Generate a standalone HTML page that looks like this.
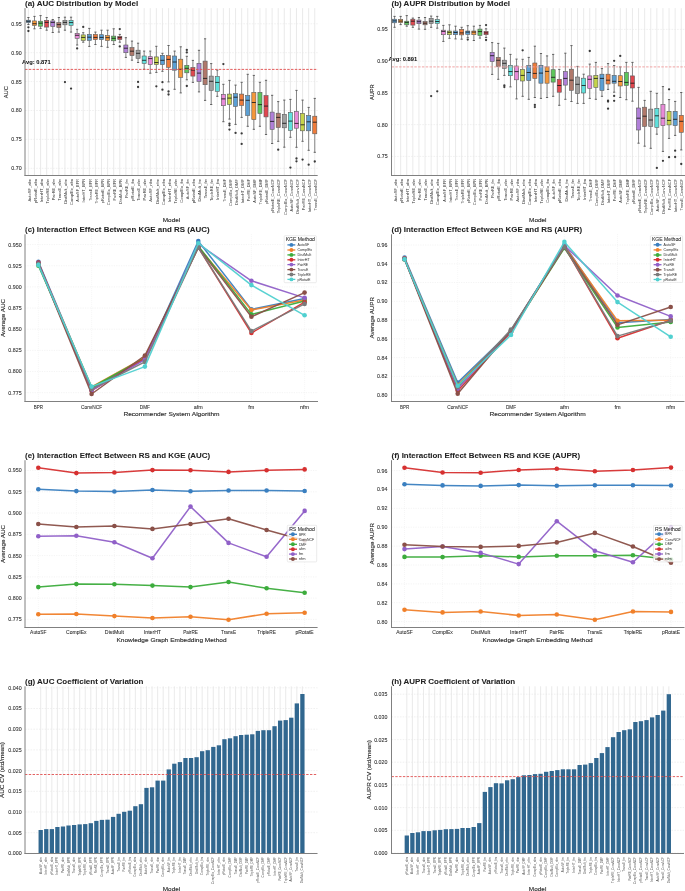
<!DOCTYPE html>
<html><head><meta charset="utf-8"><title>KGE RS analysis</title><style>html,body{margin:0;padding:0;background:#fff;width:685px;height:891px;overflow:hidden}svg{display:block;will-change:transform}</style></head><body>
<svg width="685" height="891" viewBox="0 0 685 891" font-family="'Liberation Sans', sans-serif" fill="#2e2e2e"><line x1="28.4" y1="8.1" x2="28.4" y2="175.5" stroke="#e4e4e4" stroke-width="0.8"/>
<line x1="34.49" y1="8.1" x2="34.49" y2="175.5" stroke="#e4e4e4" stroke-width="0.8"/>
<line x1="40.58" y1="8.1" x2="40.58" y2="175.5" stroke="#e4e4e4" stroke-width="0.8"/>
<line x1="46.68" y1="8.1" x2="46.68" y2="175.5" stroke="#e4e4e4" stroke-width="0.8"/>
<line x1="52.77" y1="8.1" x2="52.77" y2="175.5" stroke="#e4e4e4" stroke-width="0.8"/>
<line x1="58.86" y1="8.1" x2="58.86" y2="175.5" stroke="#e4e4e4" stroke-width="0.8"/>
<line x1="64.95" y1="8.1" x2="64.95" y2="175.5" stroke="#e4e4e4" stroke-width="0.8"/>
<line x1="71.05" y1="8.1" x2="71.05" y2="175.5" stroke="#e4e4e4" stroke-width="0.8"/>
<line x1="77.14" y1="8.1" x2="77.14" y2="175.5" stroke="#e4e4e4" stroke-width="0.8"/>
<line x1="83.23" y1="8.1" x2="83.23" y2="175.5" stroke="#e4e4e4" stroke-width="0.8"/>
<line x1="89.33" y1="8.1" x2="89.33" y2="175.5" stroke="#e4e4e4" stroke-width="0.8"/>
<line x1="95.42" y1="8.1" x2="95.42" y2="175.5" stroke="#e4e4e4" stroke-width="0.8"/>
<line x1="101.51" y1="8.1" x2="101.51" y2="175.5" stroke="#e4e4e4" stroke-width="0.8"/>
<line x1="107.61" y1="8.1" x2="107.61" y2="175.5" stroke="#e4e4e4" stroke-width="0.8"/>
<line x1="113.7" y1="8.1" x2="113.7" y2="175.5" stroke="#e4e4e4" stroke-width="0.8"/>
<line x1="119.79" y1="8.1" x2="119.79" y2="175.5" stroke="#e4e4e4" stroke-width="0.8"/>
<line x1="125.88" y1="8.1" x2="125.88" y2="175.5" stroke="#e4e4e4" stroke-width="0.8"/>
<line x1="131.98" y1="8.1" x2="131.98" y2="175.5" stroke="#e4e4e4" stroke-width="0.8"/>
<line x1="138.07" y1="8.1" x2="138.07" y2="175.5" stroke="#e4e4e4" stroke-width="0.8"/>
<line x1="144.16" y1="8.1" x2="144.16" y2="175.5" stroke="#e4e4e4" stroke-width="0.8"/>
<line x1="150.26" y1="8.1" x2="150.26" y2="175.5" stroke="#e4e4e4" stroke-width="0.8"/>
<line x1="156.35" y1="8.1" x2="156.35" y2="175.5" stroke="#e4e4e4" stroke-width="0.8"/>
<line x1="162.44" y1="8.1" x2="162.44" y2="175.5" stroke="#e4e4e4" stroke-width="0.8"/>
<line x1="168.54" y1="8.1" x2="168.54" y2="175.5" stroke="#e4e4e4" stroke-width="0.8"/>
<line x1="174.63" y1="8.1" x2="174.63" y2="175.5" stroke="#e4e4e4" stroke-width="0.8"/>
<line x1="180.72" y1="8.1" x2="180.72" y2="175.5" stroke="#e4e4e4" stroke-width="0.8"/>
<line x1="186.81" y1="8.1" x2="186.81" y2="175.5" stroke="#e4e4e4" stroke-width="0.8"/>
<line x1="192.91" y1="8.1" x2="192.91" y2="175.5" stroke="#e4e4e4" stroke-width="0.8"/>
<line x1="199" y1="8.1" x2="199" y2="175.5" stroke="#e4e4e4" stroke-width="0.8"/>
<line x1="205.09" y1="8.1" x2="205.09" y2="175.5" stroke="#e4e4e4" stroke-width="0.8"/>
<line x1="211.19" y1="8.1" x2="211.19" y2="175.5" stroke="#e4e4e4" stroke-width="0.8"/>
<line x1="217.28" y1="8.1" x2="217.28" y2="175.5" stroke="#e4e4e4" stroke-width="0.8"/>
<line x1="223.37" y1="8.1" x2="223.37" y2="175.5" stroke="#e4e4e4" stroke-width="0.8"/>
<line x1="229.47" y1="8.1" x2="229.47" y2="175.5" stroke="#e4e4e4" stroke-width="0.8"/>
<line x1="235.56" y1="8.1" x2="235.56" y2="175.5" stroke="#e4e4e4" stroke-width="0.8"/>
<line x1="241.65" y1="8.1" x2="241.65" y2="175.5" stroke="#e4e4e4" stroke-width="0.8"/>
<line x1="247.74" y1="8.1" x2="247.74" y2="175.5" stroke="#e4e4e4" stroke-width="0.8"/>
<line x1="253.84" y1="8.1" x2="253.84" y2="175.5" stroke="#e4e4e4" stroke-width="0.8"/>
<line x1="259.93" y1="8.1" x2="259.93" y2="175.5" stroke="#e4e4e4" stroke-width="0.8"/>
<line x1="266.02" y1="8.1" x2="266.02" y2="175.5" stroke="#e4e4e4" stroke-width="0.8"/>
<line x1="272.12" y1="8.1" x2="272.12" y2="175.5" stroke="#e4e4e4" stroke-width="0.8"/>
<line x1="278.21" y1="8.1" x2="278.21" y2="175.5" stroke="#e4e4e4" stroke-width="0.8"/>
<line x1="284.3" y1="8.1" x2="284.3" y2="175.5" stroke="#e4e4e4" stroke-width="0.8"/>
<line x1="290.4" y1="8.1" x2="290.4" y2="175.5" stroke="#e4e4e4" stroke-width="0.8"/>
<line x1="296.49" y1="8.1" x2="296.49" y2="175.5" stroke="#e4e4e4" stroke-width="0.8"/>
<line x1="302.58" y1="8.1" x2="302.58" y2="175.5" stroke="#e4e4e4" stroke-width="0.8"/>
<line x1="308.67" y1="8.1" x2="308.67" y2="175.5" stroke="#e4e4e4" stroke-width="0.8"/>
<line x1="314.77" y1="8.1" x2="314.77" y2="175.5" stroke="#e4e4e4" stroke-width="0.8"/>
<line x1="25" y1="168.3" x2="317.7" y2="168.3" stroke="#e6e6e6" stroke-width="0.6" stroke-dasharray="1.6 1.2"/>
<line x1="25" y1="139.4" x2="317.7" y2="139.4" stroke="#e6e6e6" stroke-width="0.6" stroke-dasharray="1.6 1.2"/>
<line x1="25" y1="110.5" x2="317.7" y2="110.5" stroke="#e6e6e6" stroke-width="0.6" stroke-dasharray="1.6 1.2"/>
<line x1="25" y1="81.6" x2="317.7" y2="81.6" stroke="#e6e6e6" stroke-width="0.6" stroke-dasharray="1.6 1.2"/>
<line x1="25" y1="52.7" x2="317.7" y2="52.7" stroke="#e6e6e6" stroke-width="0.6" stroke-dasharray="1.6 1.2"/>
<line x1="25" y1="23.8" x2="317.7" y2="23.8" stroke="#e6e6e6" stroke-width="0.6" stroke-dasharray="1.6 1.2"/>
<line x1="28.4" y1="17.5" x2="28.4" y2="20.2" stroke="#7c7c7c" stroke-width="0.9"/>
<line x1="28.4" y1="22.6" x2="28.4" y2="24.5" stroke="#7c7c7c" stroke-width="0.9"/>
<line x1="27.3" y1="17.5" x2="29.5" y2="17.5" stroke="#555" stroke-width="0.9"/>
<line x1="27.3" y1="24.5" x2="29.5" y2="24.5" stroke="#555" stroke-width="0.9"/>
<rect x="26.35" y="20.2" width="4.1" height="2.4" fill="#5a9fd4" stroke="#5a5a5a" stroke-width="0.6"/>
<line x1="26.35" y1="21.3" x2="30.45" y2="21.3" stroke="#1a1a1a" stroke-width="1" stroke-opacity="0.85"/>
<circle cx="28.4" cy="27.3" r="1.15" fill="#3a3a3a"/>
<circle cx="28.4" cy="31" r="1.15" fill="#3a3a3a"/>
<line x1="34.49" y1="16.4" x2="34.49" y2="20.9" stroke="#7c7c7c" stroke-width="0.9"/>
<line x1="34.49" y1="25.4" x2="34.49" y2="28.8" stroke="#7c7c7c" stroke-width="0.9"/>
<line x1="33.39" y1="16.4" x2="35.59" y2="16.4" stroke="#555" stroke-width="0.9"/>
<line x1="33.39" y1="28.8" x2="35.59" y2="28.8" stroke="#555" stroke-width="0.9"/>
<rect x="32.44" y="20.9" width="4.1" height="4.5" fill="#f5973a" stroke="#5a5a5a" stroke-width="0.6"/>
<line x1="32.44" y1="23.7" x2="36.54" y2="23.7" stroke="#1a1a1a" stroke-width="1" stroke-opacity="0.85"/>
<line x1="40.58" y1="15.6" x2="40.58" y2="21.2" stroke="#7c7c7c" stroke-width="0.9"/>
<line x1="40.58" y1="26.2" x2="40.58" y2="28.4" stroke="#7c7c7c" stroke-width="0.9"/>
<line x1="39.48" y1="15.6" x2="41.68" y2="15.6" stroke="#555" stroke-width="0.9"/>
<line x1="39.48" y1="28.4" x2="41.68" y2="28.4" stroke="#555" stroke-width="0.9"/>
<rect x="38.53" y="21.2" width="4.1" height="5" fill="#5bc65b" stroke="#5a5a5a" stroke-width="0.6"/>
<line x1="38.53" y1="23.2" x2="42.63" y2="23.2" stroke="#1a1a1a" stroke-width="1" stroke-opacity="0.85"/>
<line x1="46.68" y1="17.5" x2="46.68" y2="20.3" stroke="#7c7c7c" stroke-width="0.9"/>
<line x1="46.68" y1="27.1" x2="46.68" y2="30.2" stroke="#7c7c7c" stroke-width="0.9"/>
<line x1="45.58" y1="17.5" x2="47.78" y2="17.5" stroke="#555" stroke-width="0.9"/>
<line x1="45.58" y1="30.2" x2="47.78" y2="30.2" stroke="#555" stroke-width="0.9"/>
<rect x="44.63" y="20.3" width="4.1" height="6.8" fill="#e0474f" stroke="#5a5a5a" stroke-width="0.6"/>
<line x1="44.63" y1="22.4" x2="48.73" y2="22.4" stroke="#1a1a1a" stroke-width="1" stroke-opacity="0.85"/>
<line x1="52.77" y1="19.5" x2="52.77" y2="20.9" stroke="#7c7c7c" stroke-width="0.9"/>
<line x1="52.77" y1="26.5" x2="52.77" y2="32.5" stroke="#7c7c7c" stroke-width="0.9"/>
<line x1="51.67" y1="19.5" x2="53.87" y2="19.5" stroke="#555" stroke-width="0.9"/>
<line x1="51.67" y1="32.5" x2="53.87" y2="32.5" stroke="#555" stroke-width="0.9"/>
<rect x="50.72" y="20.9" width="4.1" height="5.6" fill="#b07fd8" stroke="#5a5a5a" stroke-width="0.6"/>
<line x1="50.72" y1="22.4" x2="54.82" y2="22.4" stroke="#1a1a1a" stroke-width="1" stroke-opacity="0.85"/>
<line x1="58.86" y1="17.5" x2="58.86" y2="22.6" stroke="#7c7c7c" stroke-width="0.9"/>
<line x1="58.86" y1="27.6" x2="58.86" y2="32.1" stroke="#7c7c7c" stroke-width="0.9"/>
<line x1="57.76" y1="17.5" x2="59.96" y2="17.5" stroke="#555" stroke-width="0.9"/>
<line x1="57.76" y1="32.1" x2="59.96" y2="32.1" stroke="#555" stroke-width="0.9"/>
<rect x="56.81" y="22.6" width="4.1" height="5" fill="#b0786a" stroke="#5a5a5a" stroke-width="0.6"/>
<line x1="56.81" y1="24.6" x2="60.91" y2="24.6" stroke="#1a1a1a" stroke-width="1" stroke-opacity="0.85"/>
<line x1="64.95" y1="17.2" x2="64.95" y2="20.3" stroke="#7c7c7c" stroke-width="0.9"/>
<line x1="64.95" y1="24.8" x2="64.95" y2="30.2" stroke="#7c7c7c" stroke-width="0.9"/>
<line x1="63.85" y1="17.2" x2="66.05" y2="17.2" stroke="#555" stroke-width="0.9"/>
<line x1="63.85" y1="30.2" x2="66.05" y2="30.2" stroke="#555" stroke-width="0.9"/>
<rect x="62.9" y="20.3" width="4.1" height="4.5" fill="#a0a0a0" stroke="#5a5a5a" stroke-width="0.6"/>
<line x1="62.9" y1="22.4" x2="67" y2="22.4" stroke="#1a1a1a" stroke-width="1" stroke-opacity="0.85"/>
<circle cx="64.95" cy="82.1" r="1.15" fill="#3a3a3a"/>
<line x1="71.05" y1="17.2" x2="71.05" y2="20.3" stroke="#7c7c7c" stroke-width="0.9"/>
<line x1="71.05" y1="25.4" x2="71.05" y2="32.1" stroke="#7c7c7c" stroke-width="0.9"/>
<line x1="69.95" y1="17.2" x2="72.15" y2="17.2" stroke="#555" stroke-width="0.9"/>
<line x1="69.95" y1="32.1" x2="72.15" y2="32.1" stroke="#555" stroke-width="0.9"/>
<rect x="69" y="20.3" width="4.1" height="5.1" fill="#5fe0dc" stroke="#5a5a5a" stroke-width="0.6"/>
<line x1="69" y1="22.6" x2="73.1" y2="22.6" stroke="#1a1a1a" stroke-width="1" stroke-opacity="0.85"/>
<circle cx="71.05" cy="88.6" r="1.15" fill="#3a3a3a"/>
<line x1="77.14" y1="29.3" x2="77.14" y2="33.3" stroke="#7c7c7c" stroke-width="0.9"/>
<line x1="77.14" y1="38.3" x2="77.14" y2="45" stroke="#7c7c7c" stroke-width="0.9"/>
<line x1="76.04" y1="29.3" x2="78.24" y2="29.3" stroke="#555" stroke-width="0.9"/>
<line x1="76.04" y1="45" x2="78.24" y2="45" stroke="#555" stroke-width="0.9"/>
<rect x="75.09" y="33.3" width="4.1" height="5" fill="#e88ad8" stroke="#5a5a5a" stroke-width="0.6"/>
<line x1="75.09" y1="35.3" x2="79.19" y2="35.3" stroke="#1a1a1a" stroke-width="1" stroke-opacity="0.85"/>
<circle cx="77.14" cy="48.4" r="1.15" fill="#3a3a3a"/>
<line x1="83.23" y1="32.7" x2="83.23" y2="34.9" stroke="#7c7c7c" stroke-width="0.9"/>
<line x1="83.23" y1="40.5" x2="83.23" y2="42.2" stroke="#7c7c7c" stroke-width="0.9"/>
<line x1="82.13" y1="32.7" x2="84.33" y2="32.7" stroke="#555" stroke-width="0.9"/>
<line x1="82.13" y1="42.2" x2="84.33" y2="42.2" stroke="#555" stroke-width="0.9"/>
<rect x="81.18" y="34.9" width="4.1" height="5.6" fill="#c5d34a" stroke="#5a5a5a" stroke-width="0.6"/>
<line x1="81.18" y1="37.4" x2="85.28" y2="37.4" stroke="#1a1a1a" stroke-width="1" stroke-opacity="0.85"/>
<circle cx="83.23" cy="26.9" r="1.15" fill="#3a3a3a"/>
<line x1="89.33" y1="28.4" x2="89.33" y2="34.4" stroke="#7c7c7c" stroke-width="0.9"/>
<line x1="89.33" y1="40.5" x2="89.33" y2="46.4" stroke="#7c7c7c" stroke-width="0.9"/>
<line x1="88.23" y1="28.4" x2="90.43" y2="28.4" stroke="#555" stroke-width="0.9"/>
<line x1="88.23" y1="46.4" x2="90.43" y2="46.4" stroke="#555" stroke-width="0.9"/>
<rect x="87.28" y="34.4" width="4.1" height="6.1" fill="#5a9fd4" stroke="#5a5a5a" stroke-width="0.6"/>
<line x1="87.28" y1="37.2" x2="91.38" y2="37.2" stroke="#1a1a1a" stroke-width="1" stroke-opacity="0.85"/>
<line x1="95.42" y1="32.1" x2="95.42" y2="34.4" stroke="#7c7c7c" stroke-width="0.9"/>
<line x1="95.42" y1="39.6" x2="95.42" y2="44.5" stroke="#7c7c7c" stroke-width="0.9"/>
<line x1="94.32" y1="32.1" x2="96.52" y2="32.1" stroke="#555" stroke-width="0.9"/>
<line x1="94.32" y1="44.5" x2="96.52" y2="44.5" stroke="#555" stroke-width="0.9"/>
<rect x="93.37" y="34.4" width="4.1" height="5.2" fill="#ee7b3a" stroke="#5a5a5a" stroke-width="0.6"/>
<line x1="93.37" y1="37.4" x2="97.47" y2="37.4" stroke="#1a1a1a" stroke-width="1" stroke-opacity="0.85"/>
<line x1="101.51" y1="30.2" x2="101.51" y2="34.7" stroke="#7c7c7c" stroke-width="0.9"/>
<line x1="101.51" y1="39.6" x2="101.51" y2="46.4" stroke="#7c7c7c" stroke-width="0.9"/>
<line x1="100.41" y1="30.2" x2="102.61" y2="30.2" stroke="#555" stroke-width="0.9"/>
<line x1="100.41" y1="46.4" x2="102.61" y2="46.4" stroke="#555" stroke-width="0.9"/>
<rect x="99.46" y="34.7" width="4.1" height="4.9" fill="#5a9fd4" stroke="#5a5a5a" stroke-width="0.6"/>
<line x1="99.46" y1="37.4" x2="103.56" y2="37.4" stroke="#1a1a1a" stroke-width="1" stroke-opacity="0.85"/>
<line x1="107.61" y1="30.2" x2="107.61" y2="35.5" stroke="#7c7c7c" stroke-width="0.9"/>
<line x1="107.61" y1="40.5" x2="107.61" y2="47.3" stroke="#7c7c7c" stroke-width="0.9"/>
<line x1="106.51" y1="30.2" x2="108.71" y2="30.2" stroke="#555" stroke-width="0.9"/>
<line x1="106.51" y1="47.3" x2="108.71" y2="47.3" stroke="#555" stroke-width="0.9"/>
<rect x="105.56" y="35.5" width="4.1" height="5" fill="#f5973a" stroke="#5a5a5a" stroke-width="0.6"/>
<line x1="105.56" y1="37.7" x2="109.66" y2="37.7" stroke="#1a1a1a" stroke-width="1" stroke-opacity="0.85"/>
<line x1="113.7" y1="28.8" x2="113.7" y2="36.1" stroke="#7c7c7c" stroke-width="0.9"/>
<line x1="113.7" y1="40.8" x2="113.7" y2="44.5" stroke="#7c7c7c" stroke-width="0.9"/>
<line x1="112.6" y1="28.8" x2="114.8" y2="28.8" stroke="#555" stroke-width="0.9"/>
<line x1="112.6" y1="44.5" x2="114.8" y2="44.5" stroke="#555" stroke-width="0.9"/>
<rect x="111.65" y="36.1" width="4.1" height="4.7" fill="#5bc65b" stroke="#5a5a5a" stroke-width="0.6"/>
<line x1="111.65" y1="38.3" x2="115.75" y2="38.3" stroke="#1a1a1a" stroke-width="1" stroke-opacity="0.85"/>
<line x1="119.79" y1="34.4" x2="119.79" y2="36.3" stroke="#7c7c7c" stroke-width="0.9"/>
<line x1="119.79" y1="39.6" x2="119.79" y2="42.2" stroke="#7c7c7c" stroke-width="0.9"/>
<line x1="118.69" y1="34.4" x2="120.89" y2="34.4" stroke="#555" stroke-width="0.9"/>
<line x1="118.69" y1="42.2" x2="120.89" y2="42.2" stroke="#555" stroke-width="0.9"/>
<rect x="117.74" y="36.3" width="4.1" height="3.3" fill="#e0474f" stroke="#5a5a5a" stroke-width="0.6"/>
<line x1="117.74" y1="37.7" x2="121.84" y2="37.7" stroke="#1a1a1a" stroke-width="1" stroke-opacity="0.85"/>
<circle cx="119.79" cy="29.1" r="1.15" fill="#3a3a3a"/>
<circle cx="119.79" cy="46.4" r="1.15" fill="#3a3a3a"/>
<line x1="125.88" y1="37.7" x2="125.88" y2="45" stroke="#7c7c7c" stroke-width="0.9"/>
<line x1="125.88" y1="52.7" x2="125.88" y2="57.4" stroke="#7c7c7c" stroke-width="0.9"/>
<line x1="124.78" y1="37.7" x2="126.98" y2="37.7" stroke="#555" stroke-width="0.9"/>
<line x1="124.78" y1="57.4" x2="126.98" y2="57.4" stroke="#555" stroke-width="0.9"/>
<rect x="123.83" y="45" width="4.1" height="7.7" fill="#b07fd8" stroke="#5a5a5a" stroke-width="0.6"/>
<line x1="123.83" y1="48.2" x2="127.93" y2="48.2" stroke="#1a1a1a" stroke-width="1" stroke-opacity="0.85"/>
<line x1="131.98" y1="41.1" x2="131.98" y2="47.6" stroke="#7c7c7c" stroke-width="0.9"/>
<line x1="131.98" y1="55.6" x2="131.98" y2="60.2" stroke="#7c7c7c" stroke-width="0.9"/>
<line x1="130.88" y1="41.1" x2="133.08" y2="41.1" stroke="#555" stroke-width="0.9"/>
<line x1="130.88" y1="60.2" x2="133.08" y2="60.2" stroke="#555" stroke-width="0.9"/>
<rect x="129.93" y="47.6" width="4.1" height="8" fill="#b0786a" stroke="#5a5a5a" stroke-width="0.6"/>
<line x1="129.93" y1="51.2" x2="134.03" y2="51.2" stroke="#1a1a1a" stroke-width="1" stroke-opacity="0.85"/>
<line x1="138.07" y1="43.2" x2="138.07" y2="50.2" stroke="#7c7c7c" stroke-width="0.9"/>
<line x1="138.07" y1="58.3" x2="138.07" y2="62.5" stroke="#7c7c7c" stroke-width="0.9"/>
<line x1="136.97" y1="43.2" x2="139.17" y2="43.2" stroke="#555" stroke-width="0.9"/>
<line x1="136.97" y1="62.5" x2="139.17" y2="62.5" stroke="#555" stroke-width="0.9"/>
<rect x="136.02" y="50.2" width="4.1" height="8.1" fill="#a0a0a0" stroke="#5a5a5a" stroke-width="0.6"/>
<line x1="136.02" y1="53.3" x2="140.12" y2="53.3" stroke="#1a1a1a" stroke-width="1" stroke-opacity="0.85"/>
<circle cx="138.07" cy="81.9" r="1.15" fill="#3a3a3a"/>
<circle cx="138.07" cy="87" r="1.15" fill="#3a3a3a"/>
<line x1="144.16" y1="51.1" x2="144.16" y2="56" stroke="#7c7c7c" stroke-width="0.9"/>
<line x1="144.16" y1="63.4" x2="144.16" y2="69.3" stroke="#7c7c7c" stroke-width="0.9"/>
<line x1="143.06" y1="51.1" x2="145.26" y2="51.1" stroke="#555" stroke-width="0.9"/>
<line x1="143.06" y1="69.3" x2="145.26" y2="69.3" stroke="#555" stroke-width="0.9"/>
<rect x="142.11" y="56" width="4.1" height="7.4" fill="#5fe0dc" stroke="#5a5a5a" stroke-width="0.6"/>
<line x1="142.11" y1="60.3" x2="146.21" y2="60.3" stroke="#1a1a1a" stroke-width="1" stroke-opacity="0.85"/>
<line x1="150.26" y1="51.1" x2="150.26" y2="56.7" stroke="#7c7c7c" stroke-width="0.9"/>
<line x1="150.26" y1="64.6" x2="150.26" y2="73.2" stroke="#7c7c7c" stroke-width="0.9"/>
<line x1="149.16" y1="51.1" x2="151.36" y2="51.1" stroke="#555" stroke-width="0.9"/>
<line x1="149.16" y1="73.2" x2="151.36" y2="73.2" stroke="#555" stroke-width="0.9"/>
<rect x="148.21" y="56.7" width="4.1" height="7.9" fill="#e88ad8" stroke="#5a5a5a" stroke-width="0.6"/>
<line x1="148.21" y1="58.6" x2="152.31" y2="58.6" stroke="#1a1a1a" stroke-width="1" stroke-opacity="0.85"/>
<line x1="156.35" y1="46.3" x2="156.35" y2="56.9" stroke="#7c7c7c" stroke-width="0.9"/>
<line x1="156.35" y1="64.6" x2="156.35" y2="72.4" stroke="#7c7c7c" stroke-width="0.9"/>
<line x1="155.25" y1="46.3" x2="157.45" y2="46.3" stroke="#555" stroke-width="0.9"/>
<line x1="155.25" y1="72.4" x2="157.45" y2="72.4" stroke="#555" stroke-width="0.9"/>
<rect x="154.3" y="56.9" width="4.1" height="7.7" fill="#c5d34a" stroke="#5a5a5a" stroke-width="0.6"/>
<line x1="154.3" y1="62.5" x2="158.4" y2="62.5" stroke="#1a1a1a" stroke-width="1" stroke-opacity="0.85"/>
<circle cx="156.35" cy="86.3" r="1.15" fill="#3a3a3a"/>
<line x1="162.44" y1="53.3" x2="162.44" y2="55.3" stroke="#7c7c7c" stroke-width="0.9"/>
<line x1="162.44" y1="64.6" x2="162.44" y2="71.3" stroke="#7c7c7c" stroke-width="0.9"/>
<line x1="161.34" y1="53.3" x2="163.54" y2="53.3" stroke="#555" stroke-width="0.9"/>
<line x1="161.34" y1="71.3" x2="163.54" y2="71.3" stroke="#555" stroke-width="0.9"/>
<rect x="160.39" y="55.3" width="4.1" height="9.3" fill="#5a9fd4" stroke="#5a5a5a" stroke-width="0.6"/>
<line x1="160.39" y1="60.3" x2="164.49" y2="60.3" stroke="#1a1a1a" stroke-width="1" stroke-opacity="0.85"/>
<circle cx="162.44" cy="82.2" r="1.15" fill="#3a3a3a"/>
<circle cx="162.44" cy="89.7" r="1.15" fill="#3a3a3a"/>
<line x1="168.54" y1="45.5" x2="168.54" y2="55.6" stroke="#7c7c7c" stroke-width="0.9"/>
<line x1="168.54" y1="67.3" x2="168.54" y2="81.9" stroke="#7c7c7c" stroke-width="0.9"/>
<line x1="167.44" y1="45.5" x2="169.64" y2="45.5" stroke="#555" stroke-width="0.9"/>
<line x1="167.44" y1="81.9" x2="169.64" y2="81.9" stroke="#555" stroke-width="0.9"/>
<rect x="166.49" y="55.6" width="4.1" height="11.7" fill="#ee7b3a" stroke="#5a5a5a" stroke-width="0.6"/>
<line x1="166.49" y1="59.4" x2="170.59" y2="59.4" stroke="#1a1a1a" stroke-width="1" stroke-opacity="0.85"/>
<circle cx="168.54" cy="91.5" r="1.15" fill="#3a3a3a"/>
<circle cx="168.54" cy="94.5" r="1.15" fill="#3a3a3a"/>
<line x1="174.63" y1="51.1" x2="174.63" y2="56" stroke="#7c7c7c" stroke-width="0.9"/>
<line x1="174.63" y1="70.2" x2="174.63" y2="89.3" stroke="#7c7c7c" stroke-width="0.9"/>
<line x1="173.53" y1="51.1" x2="175.73" y2="51.1" stroke="#555" stroke-width="0.9"/>
<line x1="173.53" y1="89.3" x2="175.73" y2="89.3" stroke="#555" stroke-width="0.9"/>
<rect x="172.58" y="56" width="4.1" height="14.2" fill="#5a9fd4" stroke="#5a5a5a" stroke-width="0.6"/>
<line x1="172.58" y1="62" x2="176.68" y2="62" stroke="#1a1a1a" stroke-width="1" stroke-opacity="0.85"/>
<line x1="180.72" y1="46.8" x2="180.72" y2="59.2" stroke="#7c7c7c" stroke-width="0.9"/>
<line x1="180.72" y1="77.4" x2="180.72" y2="92.9" stroke="#7c7c7c" stroke-width="0.9"/>
<line x1="179.62" y1="46.8" x2="181.82" y2="46.8" stroke="#555" stroke-width="0.9"/>
<line x1="179.62" y1="92.9" x2="181.82" y2="92.9" stroke="#555" stroke-width="0.9"/>
<rect x="178.67" y="59.2" width="4.1" height="18.2" fill="#f5973a" stroke="#5a5a5a" stroke-width="0.6"/>
<line x1="178.67" y1="69.3" x2="182.77" y2="69.3" stroke="#1a1a1a" stroke-width="1" stroke-opacity="0.85"/>
<line x1="186.81" y1="56.3" x2="186.81" y2="65.3" stroke="#7c7c7c" stroke-width="0.9"/>
<line x1="186.81" y1="72.8" x2="186.81" y2="79.8" stroke="#7c7c7c" stroke-width="0.9"/>
<line x1="185.71" y1="56.3" x2="187.91" y2="56.3" stroke="#555" stroke-width="0.9"/>
<line x1="185.71" y1="79.8" x2="187.91" y2="79.8" stroke="#555" stroke-width="0.9"/>
<rect x="184.76" y="65.3" width="4.1" height="7.5" fill="#5bc65b" stroke="#5a5a5a" stroke-width="0.6"/>
<line x1="184.76" y1="68.3" x2="188.86" y2="68.3" stroke="#1a1a1a" stroke-width="1" stroke-opacity="0.85"/>
<circle cx="186.81" cy="49.9" r="1.15" fill="#3a3a3a"/>
<circle cx="186.81" cy="52.4" r="1.15" fill="#3a3a3a"/>
<circle cx="186.81" cy="86" r="1.15" fill="#3a3a3a"/>
<line x1="192.91" y1="60.4" x2="192.91" y2="67.5" stroke="#7c7c7c" stroke-width="0.9"/>
<line x1="192.91" y1="76.1" x2="192.91" y2="82.4" stroke="#7c7c7c" stroke-width="0.9"/>
<line x1="191.81" y1="60.4" x2="194.01" y2="60.4" stroke="#555" stroke-width="0.9"/>
<line x1="191.81" y1="82.4" x2="194.01" y2="82.4" stroke="#555" stroke-width="0.9"/>
<rect x="190.86" y="67.5" width="4.1" height="8.6" fill="#e0474f" stroke="#5a5a5a" stroke-width="0.6"/>
<line x1="190.86" y1="70.1" x2="194.96" y2="70.1" stroke="#1a1a1a" stroke-width="1" stroke-opacity="0.85"/>
<line x1="199" y1="50.3" x2="199" y2="63.3" stroke="#7c7c7c" stroke-width="0.9"/>
<line x1="199" y1="81.5" x2="199" y2="91.9" stroke="#7c7c7c" stroke-width="0.9"/>
<line x1="197.9" y1="50.3" x2="200.1" y2="50.3" stroke="#555" stroke-width="0.9"/>
<line x1="197.9" y1="91.9" x2="200.1" y2="91.9" stroke="#555" stroke-width="0.9"/>
<rect x="196.95" y="63.3" width="4.1" height="18.2" fill="#b07fd8" stroke="#5a5a5a" stroke-width="0.6"/>
<line x1="196.95" y1="73.1" x2="201.05" y2="73.1" stroke="#1a1a1a" stroke-width="1" stroke-opacity="0.85"/>
<line x1="205.09" y1="38.8" x2="205.09" y2="61.1" stroke="#7c7c7c" stroke-width="0.9"/>
<line x1="205.09" y1="84.7" x2="205.09" y2="100.4" stroke="#7c7c7c" stroke-width="0.9"/>
<line x1="203.99" y1="38.8" x2="206.19" y2="38.8" stroke="#555" stroke-width="0.9"/>
<line x1="203.99" y1="100.4" x2="206.19" y2="100.4" stroke="#555" stroke-width="0.9"/>
<rect x="203.04" y="61.1" width="4.1" height="23.6" fill="#b0786a" stroke="#5a5a5a" stroke-width="0.6"/>
<line x1="203.04" y1="78.4" x2="207.14" y2="78.4" stroke="#1a1a1a" stroke-width="1" stroke-opacity="0.85"/>
<line x1="211.19" y1="63.6" x2="211.19" y2="76.1" stroke="#7c7c7c" stroke-width="0.9"/>
<line x1="211.19" y1="90.3" x2="211.19" y2="104.5" stroke="#7c7c7c" stroke-width="0.9"/>
<line x1="210.09" y1="63.6" x2="212.29" y2="63.6" stroke="#555" stroke-width="0.9"/>
<line x1="210.09" y1="104.5" x2="212.29" y2="104.5" stroke="#555" stroke-width="0.9"/>
<rect x="209.14" y="76.1" width="4.1" height="14.2" fill="#a0a0a0" stroke="#5a5a5a" stroke-width="0.6"/>
<line x1="209.14" y1="81.3" x2="213.24" y2="81.3" stroke="#1a1a1a" stroke-width="1" stroke-opacity="0.85"/>
<line x1="217.28" y1="70.1" x2="217.28" y2="76.5" stroke="#7c7c7c" stroke-width="0.9"/>
<line x1="217.28" y1="91.4" x2="217.28" y2="96.3" stroke="#7c7c7c" stroke-width="0.9"/>
<line x1="216.18" y1="70.1" x2="218.38" y2="70.1" stroke="#555" stroke-width="0.9"/>
<line x1="216.18" y1="96.3" x2="218.38" y2="96.3" stroke="#555" stroke-width="0.9"/>
<rect x="215.23" y="76.5" width="4.1" height="14.9" fill="#5fe0dc" stroke="#5a5a5a" stroke-width="0.6"/>
<line x1="215.23" y1="82.4" x2="219.33" y2="82.4" stroke="#1a1a1a" stroke-width="1" stroke-opacity="0.85"/>
<line x1="223.37" y1="84.3" x2="223.37" y2="94.4" stroke="#7c7c7c" stroke-width="0.9"/>
<line x1="223.37" y1="105.7" x2="223.37" y2="121.7" stroke="#7c7c7c" stroke-width="0.9"/>
<line x1="222.27" y1="84.3" x2="224.47" y2="84.3" stroke="#555" stroke-width="0.9"/>
<line x1="222.27" y1="121.7" x2="224.47" y2="121.7" stroke="#555" stroke-width="0.9"/>
<rect x="221.32" y="94.4" width="4.1" height="11.3" fill="#e88ad8" stroke="#5a5a5a" stroke-width="0.6"/>
<line x1="221.32" y1="98.9" x2="225.42" y2="98.9" stroke="#1a1a1a" stroke-width="1" stroke-opacity="0.85"/>
<circle cx="223.37" cy="64.1" r="1.15" fill="#3a3a3a"/>
<line x1="229.47" y1="80.4" x2="229.47" y2="94.1" stroke="#7c7c7c" stroke-width="0.9"/>
<line x1="229.47" y1="104.5" x2="229.47" y2="119.1" stroke="#7c7c7c" stroke-width="0.9"/>
<line x1="228.37" y1="80.4" x2="230.57" y2="80.4" stroke="#555" stroke-width="0.9"/>
<line x1="228.37" y1="119.1" x2="230.57" y2="119.1" stroke="#555" stroke-width="0.9"/>
<rect x="227.42" y="94.1" width="4.1" height="10.4" fill="#c5d34a" stroke="#5a5a5a" stroke-width="0.6"/>
<line x1="227.42" y1="98.1" x2="231.52" y2="98.1" stroke="#1a1a1a" stroke-width="1" stroke-opacity="0.85"/>
<circle cx="229.47" cy="123.6" r="1.15" fill="#3a3a3a"/>
<circle cx="229.47" cy="125.3" r="1.15" fill="#3a3a3a"/>
<circle cx="229.47" cy="129.6" r="1.15" fill="#3a3a3a"/>
<line x1="235.56" y1="85.1" x2="235.56" y2="93.6" stroke="#7c7c7c" stroke-width="0.9"/>
<line x1="235.56" y1="106.4" x2="235.56" y2="124.4" stroke="#7c7c7c" stroke-width="0.9"/>
<line x1="234.46" y1="85.1" x2="236.66" y2="85.1" stroke="#555" stroke-width="0.9"/>
<line x1="234.46" y1="124.4" x2="236.66" y2="124.4" stroke="#555" stroke-width="0.9"/>
<rect x="233.51" y="93.6" width="4.1" height="12.8" fill="#5a9fd4" stroke="#5a5a5a" stroke-width="0.6"/>
<line x1="233.51" y1="97.2" x2="237.61" y2="97.2" stroke="#1a1a1a" stroke-width="1" stroke-opacity="0.85"/>
<circle cx="235.56" cy="132.9" r="1.15" fill="#3a3a3a"/>
<line x1="241.65" y1="82.3" x2="241.65" y2="94.1" stroke="#7c7c7c" stroke-width="0.9"/>
<line x1="241.65" y1="105.4" x2="241.65" y2="117.4" stroke="#7c7c7c" stroke-width="0.9"/>
<line x1="240.55" y1="82.3" x2="242.75" y2="82.3" stroke="#555" stroke-width="0.9"/>
<line x1="240.55" y1="117.4" x2="242.75" y2="117.4" stroke="#555" stroke-width="0.9"/>
<rect x="239.6" y="94.1" width="4.1" height="11.3" fill="#ee7b3a" stroke="#5a5a5a" stroke-width="0.6"/>
<line x1="239.6" y1="100.1" x2="243.7" y2="100.1" stroke="#1a1a1a" stroke-width="1" stroke-opacity="0.85"/>
<circle cx="241.65" cy="133.4" r="1.15" fill="#3a3a3a"/>
<circle cx="241.65" cy="143.9" r="1.15" fill="#3a3a3a"/>
<line x1="247.74" y1="74.3" x2="247.74" y2="95.6" stroke="#7c7c7c" stroke-width="0.9"/>
<line x1="247.74" y1="115.5" x2="247.74" y2="126.3" stroke="#7c7c7c" stroke-width="0.9"/>
<line x1="246.64" y1="74.3" x2="248.84" y2="74.3" stroke="#555" stroke-width="0.9"/>
<line x1="246.64" y1="126.3" x2="248.84" y2="126.3" stroke="#555" stroke-width="0.9"/>
<rect x="245.69" y="95.6" width="4.1" height="19.9" fill="#5a9fd4" stroke="#5a5a5a" stroke-width="0.6"/>
<line x1="245.69" y1="100.3" x2="249.79" y2="100.3" stroke="#1a1a1a" stroke-width="1" stroke-opacity="0.85"/>
<line x1="253.84" y1="75.4" x2="253.84" y2="92.4" stroke="#7c7c7c" stroke-width="0.9"/>
<line x1="253.84" y1="119.6" x2="253.84" y2="129.3" stroke="#7c7c7c" stroke-width="0.9"/>
<line x1="252.74" y1="75.4" x2="254.94" y2="75.4" stroke="#555" stroke-width="0.9"/>
<line x1="252.74" y1="129.3" x2="254.94" y2="129.3" stroke="#555" stroke-width="0.9"/>
<rect x="251.79" y="92.4" width="4.1" height="27.2" fill="#f5973a" stroke="#5a5a5a" stroke-width="0.6"/>
<line x1="251.79" y1="102.5" x2="255.89" y2="102.5" stroke="#1a1a1a" stroke-width="1" stroke-opacity="0.85"/>
<line x1="259.93" y1="82.3" x2="259.93" y2="92.4" stroke="#7c7c7c" stroke-width="0.9"/>
<line x1="259.93" y1="113.5" x2="259.93" y2="126.3" stroke="#7c7c7c" stroke-width="0.9"/>
<line x1="258.83" y1="82.3" x2="261.03" y2="82.3" stroke="#555" stroke-width="0.9"/>
<line x1="258.83" y1="126.3" x2="261.03" y2="126.3" stroke="#555" stroke-width="0.9"/>
<rect x="257.88" y="92.4" width="4.1" height="21.1" fill="#5bc65b" stroke="#5a5a5a" stroke-width="0.6"/>
<line x1="257.88" y1="104.6" x2="261.98" y2="104.6" stroke="#1a1a1a" stroke-width="1" stroke-opacity="0.85"/>
<line x1="266.02" y1="80.3" x2="266.02" y2="95.6" stroke="#7c7c7c" stroke-width="0.9"/>
<line x1="266.02" y1="116.9" x2="266.02" y2="134.5" stroke="#7c7c7c" stroke-width="0.9"/>
<line x1="264.92" y1="80.3" x2="267.12" y2="80.3" stroke="#555" stroke-width="0.9"/>
<line x1="264.92" y1="134.5" x2="267.12" y2="134.5" stroke="#555" stroke-width="0.9"/>
<rect x="263.97" y="95.6" width="4.1" height="21.3" fill="#e0474f" stroke="#5a5a5a" stroke-width="0.6"/>
<line x1="263.97" y1="106.1" x2="268.07" y2="106.1" stroke="#1a1a1a" stroke-width="1" stroke-opacity="0.85"/>
<line x1="272.12" y1="95.3" x2="272.12" y2="112.1" stroke="#7c7c7c" stroke-width="0.9"/>
<line x1="272.12" y1="129.3" x2="272.12" y2="143.5" stroke="#7c7c7c" stroke-width="0.9"/>
<line x1="271.02" y1="95.3" x2="273.22" y2="95.3" stroke="#555" stroke-width="0.9"/>
<line x1="271.02" y1="143.5" x2="273.22" y2="143.5" stroke="#555" stroke-width="0.9"/>
<rect x="270.07" y="112.1" width="4.1" height="17.2" fill="#b07fd8" stroke="#5a5a5a" stroke-width="0.6"/>
<line x1="270.07" y1="121.4" x2="274.17" y2="121.4" stroke="#1a1a1a" stroke-width="1" stroke-opacity="0.85"/>
<line x1="278.21" y1="101.6" x2="278.21" y2="113.2" stroke="#7c7c7c" stroke-width="0.9"/>
<line x1="278.21" y1="127.5" x2="278.21" y2="141.3" stroke="#7c7c7c" stroke-width="0.9"/>
<line x1="277.11" y1="101.6" x2="279.31" y2="101.6" stroke="#555" stroke-width="0.9"/>
<line x1="277.11" y1="141.3" x2="279.31" y2="141.3" stroke="#555" stroke-width="0.9"/>
<rect x="276.16" y="113.2" width="4.1" height="14.3" fill="#b0786a" stroke="#5a5a5a" stroke-width="0.6"/>
<line x1="276.16" y1="117.4" x2="280.26" y2="117.4" stroke="#1a1a1a" stroke-width="1" stroke-opacity="0.85"/>
<circle cx="278.21" cy="149.7" r="1.15" fill="#3a3a3a"/>
<line x1="284.3" y1="100.1" x2="284.3" y2="114.3" stroke="#7c7c7c" stroke-width="0.9"/>
<line x1="284.3" y1="127.8" x2="284.3" y2="147.2" stroke="#7c7c7c" stroke-width="0.9"/>
<line x1="283.2" y1="100.1" x2="285.4" y2="100.1" stroke="#555" stroke-width="0.9"/>
<line x1="283.2" y1="147.2" x2="285.4" y2="147.2" stroke="#555" stroke-width="0.9"/>
<rect x="282.25" y="114.3" width="4.1" height="13.5" fill="#a0a0a0" stroke="#5a5a5a" stroke-width="0.6"/>
<line x1="282.25" y1="123.3" x2="286.35" y2="123.3" stroke="#1a1a1a" stroke-width="1" stroke-opacity="0.85"/>
<line x1="290.4" y1="99.4" x2="290.4" y2="112.4" stroke="#7c7c7c" stroke-width="0.9"/>
<line x1="290.4" y1="130.4" x2="290.4" y2="137.3" stroke="#7c7c7c" stroke-width="0.9"/>
<line x1="289.3" y1="99.4" x2="291.5" y2="99.4" stroke="#555" stroke-width="0.9"/>
<line x1="289.3" y1="137.3" x2="291.5" y2="137.3" stroke="#555" stroke-width="0.9"/>
<rect x="288.35" y="112.4" width="4.1" height="18" fill="#5fe0dc" stroke="#5a5a5a" stroke-width="0.6"/>
<line x1="288.35" y1="121.1" x2="292.45" y2="121.1" stroke="#1a1a1a" stroke-width="1" stroke-opacity="0.85"/>
<circle cx="290.4" cy="167.6" r="1.15" fill="#3a3a3a"/>
<line x1="296.49" y1="90.4" x2="296.49" y2="111.4" stroke="#7c7c7c" stroke-width="0.9"/>
<line x1="296.49" y1="128.2" x2="296.49" y2="147.3" stroke="#7c7c7c" stroke-width="0.9"/>
<line x1="295.39" y1="90.4" x2="297.59" y2="90.4" stroke="#555" stroke-width="0.9"/>
<line x1="295.39" y1="147.3" x2="297.59" y2="147.3" stroke="#555" stroke-width="0.9"/>
<rect x="294.44" y="111.4" width="4.1" height="16.8" fill="#e88ad8" stroke="#5a5a5a" stroke-width="0.6"/>
<line x1="294.44" y1="123.4" x2="298.54" y2="123.4" stroke="#1a1a1a" stroke-width="1" stroke-opacity="0.85"/>
<circle cx="296.49" cy="158.5" r="1.15" fill="#3a3a3a"/>
<circle cx="296.49" cy="161.3" r="1.15" fill="#3a3a3a"/>
<line x1="302.58" y1="100.1" x2="302.58" y2="113.3" stroke="#7c7c7c" stroke-width="0.9"/>
<line x1="302.58" y1="130.8" x2="302.58" y2="141.3" stroke="#7c7c7c" stroke-width="0.9"/>
<line x1="301.48" y1="100.1" x2="303.68" y2="100.1" stroke="#555" stroke-width="0.9"/>
<line x1="301.48" y1="141.3" x2="303.68" y2="141.3" stroke="#555" stroke-width="0.9"/>
<rect x="300.53" y="113.3" width="4.1" height="17.5" fill="#c5d34a" stroke="#5a5a5a" stroke-width="0.6"/>
<line x1="300.53" y1="124.8" x2="304.63" y2="124.8" stroke="#1a1a1a" stroke-width="1" stroke-opacity="0.85"/>
<circle cx="302.58" cy="159.6" r="1.15" fill="#3a3a3a"/>
<line x1="308.67" y1="107.4" x2="308.67" y2="115.5" stroke="#7c7c7c" stroke-width="0.9"/>
<line x1="308.67" y1="130.8" x2="308.67" y2="150.3" stroke="#7c7c7c" stroke-width="0.9"/>
<line x1="307.57" y1="107.4" x2="309.77" y2="107.4" stroke="#555" stroke-width="0.9"/>
<line x1="307.57" y1="150.3" x2="309.77" y2="150.3" stroke="#555" stroke-width="0.9"/>
<rect x="306.62" y="115.5" width="4.1" height="15.3" fill="#5a9fd4" stroke="#5a5a5a" stroke-width="0.6"/>
<line x1="306.62" y1="121.8" x2="310.72" y2="121.8" stroke="#1a1a1a" stroke-width="1" stroke-opacity="0.85"/>
<circle cx="308.67" cy="164.7" r="1.15" fill="#3a3a3a"/>
<line x1="314.77" y1="98.4" x2="314.77" y2="116.2" stroke="#7c7c7c" stroke-width="0.9"/>
<line x1="314.77" y1="133.8" x2="314.77" y2="152.3" stroke="#7c7c7c" stroke-width="0.9"/>
<line x1="313.67" y1="98.4" x2="315.87" y2="98.4" stroke="#555" stroke-width="0.9"/>
<line x1="313.67" y1="152.3" x2="315.87" y2="152.3" stroke="#555" stroke-width="0.9"/>
<rect x="312.72" y="116.2" width="4.1" height="17.6" fill="#ee7b3a" stroke="#5a5a5a" stroke-width="0.6"/>
<line x1="312.72" y1="122.2" x2="316.82" y2="122.2" stroke="#1a1a1a" stroke-width="1" stroke-opacity="0.85"/>
<circle cx="314.77" cy="161.5" r="1.15" fill="#3a3a3a"/>
<line x1="25" y1="69.4" x2="317.7" y2="69.4" stroke="#e25555" stroke-width="0.95" stroke-dasharray="2.5 1.3"/>
<text x="22" y="63.9" font-size="4.87" font-weight="bold" fill="#111" textLength="28.7" lengthAdjust="spacingAndGlyphs" stroke="#111" stroke-width="0.05">Avg: 0.871</text>
<line x1="25" y1="8.1" x2="25" y2="176" stroke="#808080" stroke-width="1"/>
<line x1="24.5" y1="175.5" x2="317.7" y2="175.5" stroke="#808080" stroke-width="1"/>
<text x="21.6" y="170.25" font-size="4.71" text-anchor="end" textLength="10.29" lengthAdjust="spacingAndGlyphs" stroke="#2e2e2e" stroke-width="0.07">0.70</text>
<text x="21.6" y="141.35" font-size="4.71" text-anchor="end" textLength="10.29" lengthAdjust="spacingAndGlyphs" stroke="#2e2e2e" stroke-width="0.07">0.75</text>
<text x="21.6" y="112.45" font-size="4.71" text-anchor="end" textLength="10.29" lengthAdjust="spacingAndGlyphs" stroke="#2e2e2e" stroke-width="0.07">0.80</text>
<text x="21.6" y="83.55" font-size="4.71" text-anchor="end" textLength="10.29" lengthAdjust="spacingAndGlyphs" stroke="#2e2e2e" stroke-width="0.07">0.85</text>
<text x="21.6" y="54.65" font-size="4.71" text-anchor="end" textLength="10.29" lengthAdjust="spacingAndGlyphs" stroke="#2e2e2e" stroke-width="0.07">0.90</text>
<text x="21.6" y="25.75" font-size="4.71" text-anchor="end" textLength="10.29" lengthAdjust="spacingAndGlyphs" stroke="#2e2e2e" stroke-width="0.07">0.95</text>
<text transform="translate(30.6 179) rotate(-90)" x="0" y="0" font-size="3.87" text-anchor="end" fill="#3a3a3a" textLength="22.63" lengthAdjust="spacingAndGlyphs">AutoSF_afm</text>
<text transform="translate(36.69 179) rotate(-90)" x="0" y="0" font-size="3.87" text-anchor="end" fill="#3a3a3a" textLength="24.12" lengthAdjust="spacingAndGlyphs">pRotatE_afm</text>
<text transform="translate(42.78 179) rotate(-90)" x="0" y="0" font-size="3.87" text-anchor="end" fill="#3a3a3a" textLength="23.3" lengthAdjust="spacingAndGlyphs">InterHT_afm</text>
<text transform="translate(48.88 179) rotate(-90)" x="0" y="0" font-size="3.87" text-anchor="end" fill="#3a3a3a" textLength="24.43" lengthAdjust="spacingAndGlyphs">TripleRE_afm</text>
<text transform="translate(54.97 179) rotate(-90)" x="0" y="0" font-size="3.87" text-anchor="end" fill="#3a3a3a" textLength="21.32" lengthAdjust="spacingAndGlyphs">PairRE_afm</text>
<text transform="translate(61.06 179) rotate(-90)" x="0" y="0" font-size="3.87" text-anchor="end" fill="#3a3a3a" textLength="21.65" lengthAdjust="spacingAndGlyphs">TransE_afm</text>
<text transform="translate(67.15 179) rotate(-90)" x="0" y="0" font-size="3.87" text-anchor="end" fill="#3a3a3a" textLength="24.89" lengthAdjust="spacingAndGlyphs">DistMult_afm</text>
<text transform="translate(73.25 179) rotate(-90)" x="0" y="0" font-size="3.87" text-anchor="end" fill="#3a3a3a" textLength="26" lengthAdjust="spacingAndGlyphs">ComplEx_afm</text>
<text transform="translate(79.34 179) rotate(-90)" x="0" y="0" font-size="3.87" text-anchor="end" fill="#3a3a3a" textLength="22.8" lengthAdjust="spacingAndGlyphs">AutoSF_BPR</text>
<text transform="translate(85.43 179) rotate(-90)" x="0" y="0" font-size="3.87" text-anchor="end" fill="#3a3a3a" textLength="23.48" lengthAdjust="spacingAndGlyphs">InterHT_BPR</text>
<text transform="translate(91.53 179) rotate(-90)" x="0" y="0" font-size="3.87" text-anchor="end" fill="#3a3a3a" textLength="21.82" lengthAdjust="spacingAndGlyphs">TransE_BPR</text>
<text transform="translate(97.62 179) rotate(-90)" x="0" y="0" font-size="3.87" text-anchor="end" fill="#3a3a3a" textLength="24.6" lengthAdjust="spacingAndGlyphs">TripleRE_BPR</text>
<text transform="translate(103.71 179) rotate(-90)" x="0" y="0" font-size="3.87" text-anchor="end" fill="#3a3a3a" textLength="24.29" lengthAdjust="spacingAndGlyphs">pRotatE_BPR</text>
<text transform="translate(109.81 179) rotate(-90)" x="0" y="0" font-size="3.87" text-anchor="end" fill="#3a3a3a" textLength="26.17" lengthAdjust="spacingAndGlyphs">ComplEx_BPR</text>
<text transform="translate(115.9 179) rotate(-90)" x="0" y="0" font-size="3.87" text-anchor="end" fill="#3a3a3a" textLength="21.49" lengthAdjust="spacingAndGlyphs">PairRE_BPR</text>
<text transform="translate(121.99 179) rotate(-90)" x="0" y="0" font-size="3.87" text-anchor="end" fill="#3a3a3a" textLength="25.06" lengthAdjust="spacingAndGlyphs">DistMult_BPR</text>
<text transform="translate(128.08 179) rotate(-90)" x="0" y="0" font-size="3.87" text-anchor="end" fill="#3a3a3a" textLength="19" lengthAdjust="spacingAndGlyphs">PairRE_fm</text>
<text transform="translate(134.18 179) rotate(-90)" x="0" y="0" font-size="3.87" text-anchor="end" fill="#3a3a3a" textLength="21.8" lengthAdjust="spacingAndGlyphs">pRotatE_fm</text>
<text transform="translate(140.27 179) rotate(-90)" x="0" y="0" font-size="3.87" text-anchor="end" fill="#3a3a3a" textLength="21.73" lengthAdjust="spacingAndGlyphs">TransE_nfm</text>
<text transform="translate(146.36 179) rotate(-90)" x="0" y="0" font-size="3.87" text-anchor="end" fill="#3a3a3a" textLength="21.4" lengthAdjust="spacingAndGlyphs">PairRE_nfm</text>
<text transform="translate(152.46 179) rotate(-90)" x="0" y="0" font-size="3.87" text-anchor="end" fill="#3a3a3a" textLength="22.71" lengthAdjust="spacingAndGlyphs">AutoSF_nfm</text>
<text transform="translate(158.55 179) rotate(-90)" x="0" y="0" font-size="3.87" text-anchor="end" fill="#3a3a3a" textLength="24.97" lengthAdjust="spacingAndGlyphs">DistMult_nfm</text>
<text transform="translate(164.64 179) rotate(-90)" x="0" y="0" font-size="3.87" text-anchor="end" fill="#3a3a3a" textLength="26.08" lengthAdjust="spacingAndGlyphs">ComplEx_nfm</text>
<text transform="translate(170.74 179) rotate(-90)" x="0" y="0" font-size="3.87" text-anchor="end" fill="#3a3a3a" textLength="23.38" lengthAdjust="spacingAndGlyphs">InterHT_nfm</text>
<text transform="translate(176.83 179) rotate(-90)" x="0" y="0" font-size="3.87" text-anchor="end" fill="#3a3a3a" textLength="24.51" lengthAdjust="spacingAndGlyphs">TripleRE_nfm</text>
<text transform="translate(182.92 179) rotate(-90)" x="0" y="0" font-size="3.87" text-anchor="end" fill="#3a3a3a" textLength="23.67" lengthAdjust="spacingAndGlyphs">ComplEx_fm</text>
<text transform="translate(189.01 179) rotate(-90)" x="0" y="0" font-size="3.87" text-anchor="end" fill="#3a3a3a" textLength="20.31" lengthAdjust="spacingAndGlyphs">AutoSF_fm</text>
<text transform="translate(195.11 179) rotate(-90)" x="0" y="0" font-size="3.87" text-anchor="end" fill="#3a3a3a" textLength="24.2" lengthAdjust="spacingAndGlyphs">pRotatE_nfm</text>
<text transform="translate(201.2 179) rotate(-90)" x="0" y="0" font-size="3.87" text-anchor="end" fill="#3a3a3a" textLength="22.56" lengthAdjust="spacingAndGlyphs">DistMult_fm</text>
<text transform="translate(207.29 179) rotate(-90)" x="0" y="0" font-size="3.87" text-anchor="end" fill="#3a3a3a" textLength="19.33" lengthAdjust="spacingAndGlyphs">TransE_fm</text>
<text transform="translate(213.39 179) rotate(-90)" x="0" y="0" font-size="3.87" text-anchor="end" fill="#3a3a3a" textLength="22.11" lengthAdjust="spacingAndGlyphs">TripleRE_fm</text>
<text transform="translate(219.48 179) rotate(-90)" x="0" y="0" font-size="3.87" text-anchor="end" fill="#3a3a3a" textLength="20.98" lengthAdjust="spacingAndGlyphs">InterHT_fm</text>
<text transform="translate(225.57 179) rotate(-90)" x="0" y="0" font-size="3.87" text-anchor="end" fill="#3a3a3a" textLength="22.67" lengthAdjust="spacingAndGlyphs">TransE_DMF</text>
<text transform="translate(231.67 179) rotate(-90)" x="0" y="0" font-size="3.87" text-anchor="end" fill="#3a3a3a" textLength="27.02" lengthAdjust="spacingAndGlyphs">ComplEx_DMF</text>
<text transform="translate(237.76 179) rotate(-90)" x="0" y="0" font-size="3.87" text-anchor="end" fill="#3a3a3a" textLength="25.91" lengthAdjust="spacingAndGlyphs">DistMult_DMF</text>
<text transform="translate(243.85 179) rotate(-90)" x="0" y="0" font-size="3.87" text-anchor="end" fill="#3a3a3a" textLength="24.32" lengthAdjust="spacingAndGlyphs">InterHT_DMF</text>
<text transform="translate(249.94 179) rotate(-90)" x="0" y="0" font-size="3.87" text-anchor="end" fill="#3a3a3a" textLength="22.34" lengthAdjust="spacingAndGlyphs">PairRE_DMF</text>
<text transform="translate(256.04 179) rotate(-90)" x="0" y="0" font-size="3.87" text-anchor="end" fill="#3a3a3a" textLength="23.65" lengthAdjust="spacingAndGlyphs">AutoSF_DMF</text>
<text transform="translate(262.13 179) rotate(-90)" x="0" y="0" font-size="3.87" text-anchor="end" fill="#3a3a3a" textLength="25.45" lengthAdjust="spacingAndGlyphs">TripleRE_DMF</text>
<text transform="translate(268.22 179) rotate(-90)" x="0" y="0" font-size="3.87" text-anchor="end" fill="#3a3a3a" textLength="25.14" lengthAdjust="spacingAndGlyphs">pRotatE_DMF</text>
<text transform="translate(274.32 179) rotate(-90)" x="0" y="0" font-size="3.87" text-anchor="end" fill="#3a3a3a" textLength="34.04" lengthAdjust="spacingAndGlyphs">pRotatE_ConvNCF</text>
<text transform="translate(280.41 179) rotate(-90)" x="0" y="0" font-size="3.87" text-anchor="end" fill="#3a3a3a" textLength="34.36" lengthAdjust="spacingAndGlyphs">TripleRE_ConvNCF</text>
<text transform="translate(286.5 179) rotate(-90)" x="0" y="0" font-size="3.87" text-anchor="end" fill="#3a3a3a" textLength="35.92" lengthAdjust="spacingAndGlyphs">ComplEx_ConvNCF</text>
<text transform="translate(292.6 179) rotate(-90)" x="0" y="0" font-size="3.87" text-anchor="end" fill="#3a3a3a" textLength="32.55" lengthAdjust="spacingAndGlyphs">AutoSF_ConvNCF</text>
<text transform="translate(298.69 179) rotate(-90)" x="0" y="0" font-size="3.87" text-anchor="end" fill="#3a3a3a" textLength="34.81" lengthAdjust="spacingAndGlyphs">DistMult_ConvNCF</text>
<text transform="translate(304.78 179) rotate(-90)" x="0" y="0" font-size="3.87" text-anchor="end" fill="#3a3a3a" textLength="31.24" lengthAdjust="spacingAndGlyphs">PairRE_ConvNCF</text>
<text transform="translate(310.87 179) rotate(-90)" x="0" y="0" font-size="3.87" text-anchor="end" fill="#3a3a3a" textLength="33.23" lengthAdjust="spacingAndGlyphs">InterHT_ConvNCF</text>
<text transform="translate(316.97 179) rotate(-90)" x="0" y="0" font-size="3.87" text-anchor="end" fill="#3a3a3a" textLength="31.58" lengthAdjust="spacingAndGlyphs">TransE_ConvNCF</text>
<text x="25" y="5.7" font-size="6.87" font-weight="bold" fill="#222222" textLength="113.15" lengthAdjust="spacingAndGlyphs" stroke="#222222" stroke-width="0.05">(a) AUC Distribution by Model</text>
<text transform="translate(7.6 92.2) rotate(-90)" x="0" y="0" font-size="5.93" text-anchor="middle" textLength="12.28" lengthAdjust="spacingAndGlyphs" stroke="#2e2e2e" stroke-width="0.14">AUC</text>
<text x="171.5" y="222" font-size="5.93" text-anchor="middle" textLength="17.44" lengthAdjust="spacingAndGlyphs" stroke="#2e2e2e" stroke-width="0.14">Model</text>
<line x1="394.55" y1="8.1" x2="394.55" y2="175.5" stroke="#e4e4e4" stroke-width="0.8"/>
<line x1="400.65" y1="8.1" x2="400.65" y2="175.5" stroke="#e4e4e4" stroke-width="0.8"/>
<line x1="406.75" y1="8.1" x2="406.75" y2="175.5" stroke="#e4e4e4" stroke-width="0.8"/>
<line x1="412.85" y1="8.1" x2="412.85" y2="175.5" stroke="#e4e4e4" stroke-width="0.8"/>
<line x1="418.95" y1="8.1" x2="418.95" y2="175.5" stroke="#e4e4e4" stroke-width="0.8"/>
<line x1="425.05" y1="8.1" x2="425.05" y2="175.5" stroke="#e4e4e4" stroke-width="0.8"/>
<line x1="431.15" y1="8.1" x2="431.15" y2="175.5" stroke="#e4e4e4" stroke-width="0.8"/>
<line x1="437.25" y1="8.1" x2="437.25" y2="175.5" stroke="#e4e4e4" stroke-width="0.8"/>
<line x1="443.35" y1="8.1" x2="443.35" y2="175.5" stroke="#e4e4e4" stroke-width="0.8"/>
<line x1="449.45" y1="8.1" x2="449.45" y2="175.5" stroke="#e4e4e4" stroke-width="0.8"/>
<line x1="455.55" y1="8.1" x2="455.55" y2="175.5" stroke="#e4e4e4" stroke-width="0.8"/>
<line x1="461.65" y1="8.1" x2="461.65" y2="175.5" stroke="#e4e4e4" stroke-width="0.8"/>
<line x1="467.75" y1="8.1" x2="467.75" y2="175.5" stroke="#e4e4e4" stroke-width="0.8"/>
<line x1="473.85" y1="8.1" x2="473.85" y2="175.5" stroke="#e4e4e4" stroke-width="0.8"/>
<line x1="479.95" y1="8.1" x2="479.95" y2="175.5" stroke="#e4e4e4" stroke-width="0.8"/>
<line x1="486.05" y1="8.1" x2="486.05" y2="175.5" stroke="#e4e4e4" stroke-width="0.8"/>
<line x1="492.15" y1="8.1" x2="492.15" y2="175.5" stroke="#e4e4e4" stroke-width="0.8"/>
<line x1="498.25" y1="8.1" x2="498.25" y2="175.5" stroke="#e4e4e4" stroke-width="0.8"/>
<line x1="504.35" y1="8.1" x2="504.35" y2="175.5" stroke="#e4e4e4" stroke-width="0.8"/>
<line x1="510.45" y1="8.1" x2="510.45" y2="175.5" stroke="#e4e4e4" stroke-width="0.8"/>
<line x1="516.55" y1="8.1" x2="516.55" y2="175.5" stroke="#e4e4e4" stroke-width="0.8"/>
<line x1="522.65" y1="8.1" x2="522.65" y2="175.5" stroke="#e4e4e4" stroke-width="0.8"/>
<line x1="528.75" y1="8.1" x2="528.75" y2="175.5" stroke="#e4e4e4" stroke-width="0.8"/>
<line x1="534.85" y1="8.1" x2="534.85" y2="175.5" stroke="#e4e4e4" stroke-width="0.8"/>
<line x1="540.95" y1="8.1" x2="540.95" y2="175.5" stroke="#e4e4e4" stroke-width="0.8"/>
<line x1="547.05" y1="8.1" x2="547.05" y2="175.5" stroke="#e4e4e4" stroke-width="0.8"/>
<line x1="553.15" y1="8.1" x2="553.15" y2="175.5" stroke="#e4e4e4" stroke-width="0.8"/>
<line x1="559.25" y1="8.1" x2="559.25" y2="175.5" stroke="#e4e4e4" stroke-width="0.8"/>
<line x1="565.35" y1="8.1" x2="565.35" y2="175.5" stroke="#e4e4e4" stroke-width="0.8"/>
<line x1="571.45" y1="8.1" x2="571.45" y2="175.5" stroke="#e4e4e4" stroke-width="0.8"/>
<line x1="577.55" y1="8.1" x2="577.55" y2="175.5" stroke="#e4e4e4" stroke-width="0.8"/>
<line x1="583.65" y1="8.1" x2="583.65" y2="175.5" stroke="#e4e4e4" stroke-width="0.8"/>
<line x1="589.75" y1="8.1" x2="589.75" y2="175.5" stroke="#e4e4e4" stroke-width="0.8"/>
<line x1="595.85" y1="8.1" x2="595.85" y2="175.5" stroke="#e4e4e4" stroke-width="0.8"/>
<line x1="601.95" y1="8.1" x2="601.95" y2="175.5" stroke="#e4e4e4" stroke-width="0.8"/>
<line x1="608.05" y1="8.1" x2="608.05" y2="175.5" stroke="#e4e4e4" stroke-width="0.8"/>
<line x1="614.15" y1="8.1" x2="614.15" y2="175.5" stroke="#e4e4e4" stroke-width="0.8"/>
<line x1="620.25" y1="8.1" x2="620.25" y2="175.5" stroke="#e4e4e4" stroke-width="0.8"/>
<line x1="626.35" y1="8.1" x2="626.35" y2="175.5" stroke="#e4e4e4" stroke-width="0.8"/>
<line x1="632.45" y1="8.1" x2="632.45" y2="175.5" stroke="#e4e4e4" stroke-width="0.8"/>
<line x1="638.55" y1="8.1" x2="638.55" y2="175.5" stroke="#e4e4e4" stroke-width="0.8"/>
<line x1="644.65" y1="8.1" x2="644.65" y2="175.5" stroke="#e4e4e4" stroke-width="0.8"/>
<line x1="650.75" y1="8.1" x2="650.75" y2="175.5" stroke="#e4e4e4" stroke-width="0.8"/>
<line x1="656.85" y1="8.1" x2="656.85" y2="175.5" stroke="#e4e4e4" stroke-width="0.8"/>
<line x1="662.95" y1="8.1" x2="662.95" y2="175.5" stroke="#e4e4e4" stroke-width="0.8"/>
<line x1="669.05" y1="8.1" x2="669.05" y2="175.5" stroke="#e4e4e4" stroke-width="0.8"/>
<line x1="675.15" y1="8.1" x2="675.15" y2="175.5" stroke="#e4e4e4" stroke-width="0.8"/>
<line x1="681.25" y1="8.1" x2="681.25" y2="175.5" stroke="#e4e4e4" stroke-width="0.8"/>
<line x1="391.5" y1="156.4" x2="685.5" y2="156.4" stroke="#e6e6e6" stroke-width="0.6" stroke-dasharray="1.6 1.2"/>
<line x1="391.5" y1="124.65" x2="685.5" y2="124.65" stroke="#e6e6e6" stroke-width="0.6" stroke-dasharray="1.6 1.2"/>
<line x1="391.5" y1="92.9" x2="685.5" y2="92.9" stroke="#e6e6e6" stroke-width="0.6" stroke-dasharray="1.6 1.2"/>
<line x1="391.5" y1="61.15" x2="685.5" y2="61.15" stroke="#e6e6e6" stroke-width="0.6" stroke-dasharray="1.6 1.2"/>
<line x1="391.5" y1="29.4" x2="685.5" y2="29.4" stroke="#e6e6e6" stroke-width="0.6" stroke-dasharray="1.6 1.2"/>
<line x1="394.55" y1="16.4" x2="394.55" y2="19.2" stroke="#7c7c7c" stroke-width="0.9"/>
<line x1="394.55" y1="22.8" x2="394.55" y2="27.3" stroke="#7c7c7c" stroke-width="0.9"/>
<line x1="393.45" y1="16.4" x2="395.65" y2="16.4" stroke="#555" stroke-width="0.9"/>
<line x1="393.45" y1="27.3" x2="395.65" y2="27.3" stroke="#555" stroke-width="0.9"/>
<rect x="392.5" y="19.2" width="4.1" height="3.6" fill="#5a9fd4" stroke="#5a5a5a" stroke-width="0.6"/>
<line x1="392.5" y1="20.9" x2="396.6" y2="20.9" stroke="#1a1a1a" stroke-width="1" stroke-opacity="0.85"/>
<line x1="400.65" y1="16.4" x2="400.65" y2="19.4" stroke="#7c7c7c" stroke-width="0.9"/>
<line x1="400.65" y1="22.6" x2="400.65" y2="24.6" stroke="#7c7c7c" stroke-width="0.9"/>
<line x1="399.55" y1="16.4" x2="401.75" y2="16.4" stroke="#555" stroke-width="0.9"/>
<line x1="399.55" y1="24.6" x2="401.75" y2="24.6" stroke="#555" stroke-width="0.9"/>
<rect x="398.6" y="19.4" width="4.1" height="3.2" fill="#f5973a" stroke="#5a5a5a" stroke-width="0.6"/>
<line x1="398.6" y1="21.1" x2="402.7" y2="21.1" stroke="#1a1a1a" stroke-width="1" stroke-opacity="0.85"/>
<line x1="406.75" y1="15.6" x2="406.75" y2="21.2" stroke="#7c7c7c" stroke-width="0.9"/>
<line x1="406.75" y1="24.8" x2="406.75" y2="26.2" stroke="#7c7c7c" stroke-width="0.9"/>
<line x1="405.65" y1="15.6" x2="407.85" y2="15.6" stroke="#555" stroke-width="0.9"/>
<line x1="405.65" y1="26.2" x2="407.85" y2="26.2" stroke="#555" stroke-width="0.9"/>
<rect x="404.7" y="21.2" width="4.1" height="3.6" fill="#5bc65b" stroke="#5a5a5a" stroke-width="0.6"/>
<line x1="404.7" y1="22.4" x2="408.8" y2="22.4" stroke="#1a1a1a" stroke-width="1" stroke-opacity="0.85"/>
<line x1="412.85" y1="18.1" x2="412.85" y2="19.2" stroke="#7c7c7c" stroke-width="0.9"/>
<line x1="412.85" y1="25.1" x2="412.85" y2="27.3" stroke="#7c7c7c" stroke-width="0.9"/>
<line x1="411.75" y1="18.1" x2="413.95" y2="18.1" stroke="#555" stroke-width="0.9"/>
<line x1="411.75" y1="27.3" x2="413.95" y2="27.3" stroke="#555" stroke-width="0.9"/>
<rect x="410.8" y="19.2" width="4.1" height="5.9" fill="#e0474f" stroke="#5a5a5a" stroke-width="0.6"/>
<line x1="410.8" y1="21.2" x2="414.9" y2="21.2" stroke="#1a1a1a" stroke-width="1" stroke-opacity="0.85"/>
<line x1="418.95" y1="17.5" x2="418.95" y2="20.1" stroke="#7c7c7c" stroke-width="0.9"/>
<line x1="418.95" y1="23.7" x2="418.95" y2="29.1" stroke="#7c7c7c" stroke-width="0.9"/>
<line x1="417.85" y1="17.5" x2="420.05" y2="17.5" stroke="#555" stroke-width="0.9"/>
<line x1="417.85" y1="29.1" x2="420.05" y2="29.1" stroke="#555" stroke-width="0.9"/>
<rect x="416.9" y="20.1" width="4.1" height="3.6" fill="#b07fd8" stroke="#5a5a5a" stroke-width="0.6"/>
<line x1="416.9" y1="21.7" x2="421" y2="21.7" stroke="#1a1a1a" stroke-width="1" stroke-opacity="0.85"/>
<line x1="425.05" y1="17.5" x2="425.05" y2="21.5" stroke="#7c7c7c" stroke-width="0.9"/>
<line x1="425.05" y1="24.8" x2="425.05" y2="29.3" stroke="#7c7c7c" stroke-width="0.9"/>
<line x1="423.95" y1="17.5" x2="426.15" y2="17.5" stroke="#555" stroke-width="0.9"/>
<line x1="423.95" y1="29.3" x2="426.15" y2="29.3" stroke="#555" stroke-width="0.9"/>
<rect x="423" y="21.5" width="4.1" height="3.3" fill="#b0786a" stroke="#5a5a5a" stroke-width="0.6"/>
<line x1="423" y1="23.2" x2="427.1" y2="23.2" stroke="#1a1a1a" stroke-width="1" stroke-opacity="0.85"/>
<line x1="431.15" y1="16.1" x2="431.15" y2="18.3" stroke="#7c7c7c" stroke-width="0.9"/>
<line x1="431.15" y1="23.5" x2="431.15" y2="27.3" stroke="#7c7c7c" stroke-width="0.9"/>
<line x1="430.05" y1="16.1" x2="432.25" y2="16.1" stroke="#555" stroke-width="0.9"/>
<line x1="430.05" y1="27.3" x2="432.25" y2="27.3" stroke="#555" stroke-width="0.9"/>
<rect x="429.1" y="18.3" width="4.1" height="5.2" fill="#a0a0a0" stroke="#5a5a5a" stroke-width="0.6"/>
<line x1="429.1" y1="21.2" x2="433.2" y2="21.2" stroke="#1a1a1a" stroke-width="1" stroke-opacity="0.85"/>
<circle cx="431.15" cy="96.1" r="1.15" fill="#3a3a3a"/>
<line x1="437.25" y1="16.4" x2="437.25" y2="19.4" stroke="#7c7c7c" stroke-width="0.9"/>
<line x1="437.25" y1="23.5" x2="437.25" y2="28.2" stroke="#7c7c7c" stroke-width="0.9"/>
<line x1="436.15" y1="16.4" x2="438.35" y2="16.4" stroke="#555" stroke-width="0.9"/>
<line x1="436.15" y1="28.2" x2="438.35" y2="28.2" stroke="#555" stroke-width="0.9"/>
<rect x="435.2" y="19.4" width="4.1" height="4.1" fill="#5fe0dc" stroke="#5a5a5a" stroke-width="0.6"/>
<line x1="435.2" y1="21.5" x2="439.3" y2="21.5" stroke="#1a1a1a" stroke-width="1" stroke-opacity="0.85"/>
<circle cx="437.25" cy="91.3" r="1.15" fill="#3a3a3a"/>
<line x1="443.35" y1="25.4" x2="443.35" y2="30.2" stroke="#7c7c7c" stroke-width="0.9"/>
<line x1="443.35" y1="34.7" x2="443.35" y2="41.4" stroke="#7c7c7c" stroke-width="0.9"/>
<line x1="442.25" y1="25.4" x2="444.45" y2="25.4" stroke="#555" stroke-width="0.9"/>
<line x1="442.25" y1="41.4" x2="444.45" y2="41.4" stroke="#555" stroke-width="0.9"/>
<rect x="441.3" y="30.2" width="4.1" height="4.5" fill="#e88ad8" stroke="#5a5a5a" stroke-width="0.6"/>
<line x1="441.3" y1="31.4" x2="445.4" y2="31.4" stroke="#1a1a1a" stroke-width="1" stroke-opacity="0.85"/>
<line x1="449.45" y1="24.8" x2="449.45" y2="31" stroke="#7c7c7c" stroke-width="0.9"/>
<line x1="449.45" y1="34.7" x2="449.45" y2="38.3" stroke="#7c7c7c" stroke-width="0.9"/>
<line x1="448.35" y1="24.8" x2="450.55" y2="24.8" stroke="#555" stroke-width="0.9"/>
<line x1="448.35" y1="38.3" x2="450.55" y2="38.3" stroke="#555" stroke-width="0.9"/>
<rect x="447.4" y="31" width="4.1" height="3.7" fill="#c5d34a" stroke="#5a5a5a" stroke-width="0.6"/>
<line x1="447.4" y1="32.3" x2="451.5" y2="32.3" stroke="#1a1a1a" stroke-width="1" stroke-opacity="0.85"/>
<line x1="455.55" y1="26.2" x2="455.55" y2="31" stroke="#7c7c7c" stroke-width="0.9"/>
<line x1="455.55" y1="34.7" x2="455.55" y2="38.9" stroke="#7c7c7c" stroke-width="0.9"/>
<line x1="454.45" y1="26.2" x2="456.65" y2="26.2" stroke="#555" stroke-width="0.9"/>
<line x1="454.45" y1="38.9" x2="456.65" y2="38.9" stroke="#555" stroke-width="0.9"/>
<rect x="453.5" y="31" width="4.1" height="3.7" fill="#5a9fd4" stroke="#5a5a5a" stroke-width="0.6"/>
<line x1="453.5" y1="32.5" x2="457.6" y2="32.5" stroke="#1a1a1a" stroke-width="1" stroke-opacity="0.85"/>
<line x1="461.65" y1="27.3" x2="461.65" y2="29.3" stroke="#7c7c7c" stroke-width="0.9"/>
<line x1="461.65" y1="34.9" x2="461.65" y2="39.2" stroke="#7c7c7c" stroke-width="0.9"/>
<line x1="460.55" y1="27.3" x2="462.75" y2="27.3" stroke="#555" stroke-width="0.9"/>
<line x1="460.55" y1="39.2" x2="462.75" y2="39.2" stroke="#555" stroke-width="0.9"/>
<rect x="459.6" y="29.3" width="4.1" height="5.6" fill="#ee7b3a" stroke="#5a5a5a" stroke-width="0.6"/>
<line x1="459.6" y1="32.9" x2="463.7" y2="32.9" stroke="#1a1a1a" stroke-width="1" stroke-opacity="0.85"/>
<line x1="467.75" y1="25.7" x2="467.75" y2="31" stroke="#7c7c7c" stroke-width="0.9"/>
<line x1="467.75" y1="34.4" x2="467.75" y2="37.7" stroke="#7c7c7c" stroke-width="0.9"/>
<line x1="466.65" y1="25.7" x2="468.85" y2="25.7" stroke="#555" stroke-width="0.9"/>
<line x1="466.65" y1="37.7" x2="468.85" y2="37.7" stroke="#555" stroke-width="0.9"/>
<rect x="465.7" y="31" width="4.1" height="3.4" fill="#5a9fd4" stroke="#5a5a5a" stroke-width="0.6"/>
<line x1="465.7" y1="32.1" x2="469.8" y2="32.1" stroke="#1a1a1a" stroke-width="1" stroke-opacity="0.85"/>
<circle cx="467.75" cy="39.6" r="1.15" fill="#3a3a3a"/>
<line x1="473.85" y1="26.2" x2="473.85" y2="31" stroke="#7c7c7c" stroke-width="0.9"/>
<line x1="473.85" y1="34.7" x2="473.85" y2="40.5" stroke="#7c7c7c" stroke-width="0.9"/>
<line x1="472.75" y1="26.2" x2="474.95" y2="26.2" stroke="#555" stroke-width="0.9"/>
<line x1="472.75" y1="40.5" x2="474.95" y2="40.5" stroke="#555" stroke-width="0.9"/>
<rect x="471.8" y="31" width="4.1" height="3.7" fill="#f5973a" stroke="#5a5a5a" stroke-width="0.6"/>
<line x1="471.8" y1="32.1" x2="475.9" y2="32.1" stroke="#1a1a1a" stroke-width="1" stroke-opacity="0.85"/>
<line x1="479.95" y1="25.4" x2="479.95" y2="29.1" stroke="#7c7c7c" stroke-width="0.9"/>
<line x1="479.95" y1="35.5" x2="479.95" y2="38.1" stroke="#7c7c7c" stroke-width="0.9"/>
<line x1="478.85" y1="25.4" x2="481.05" y2="25.4" stroke="#555" stroke-width="0.9"/>
<line x1="478.85" y1="38.1" x2="481.05" y2="38.1" stroke="#555" stroke-width="0.9"/>
<rect x="477.9" y="29.1" width="4.1" height="6.4" fill="#5bc65b" stroke="#5a5a5a" stroke-width="0.6"/>
<line x1="477.9" y1="31.6" x2="482" y2="31.6" stroke="#1a1a1a" stroke-width="1" stroke-opacity="0.85"/>
<line x1="486.05" y1="28.8" x2="486.05" y2="31.3" stroke="#7c7c7c" stroke-width="0.9"/>
<line x1="486.05" y1="34.7" x2="486.05" y2="37.5" stroke="#7c7c7c" stroke-width="0.9"/>
<line x1="484.95" y1="28.8" x2="487.15" y2="28.8" stroke="#555" stroke-width="0.9"/>
<line x1="484.95" y1="37.5" x2="487.15" y2="37.5" stroke="#555" stroke-width="0.9"/>
<rect x="484" y="31.3" width="4.1" height="3.4" fill="#e0474f" stroke="#5a5a5a" stroke-width="0.6"/>
<line x1="484" y1="32.9" x2="488.1" y2="32.9" stroke="#1a1a1a" stroke-width="1" stroke-opacity="0.85"/>
<circle cx="486.05" cy="25.1" r="1.15" fill="#3a3a3a"/>
<circle cx="486.05" cy="40" r="1.15" fill="#3a3a3a"/>
<line x1="492.15" y1="42.6" x2="492.15" y2="52.3" stroke="#7c7c7c" stroke-width="0.9"/>
<line x1="492.15" y1="61.6" x2="492.15" y2="74.4" stroke="#7c7c7c" stroke-width="0.9"/>
<line x1="491.05" y1="42.6" x2="493.25" y2="42.6" stroke="#555" stroke-width="0.9"/>
<line x1="491.05" y1="74.4" x2="493.25" y2="74.4" stroke="#555" stroke-width="0.9"/>
<rect x="490.1" y="52.3" width="4.1" height="9.3" fill="#b07fd8" stroke="#5a5a5a" stroke-width="0.6"/>
<line x1="490.1" y1="55.7" x2="494.2" y2="55.7" stroke="#1a1a1a" stroke-width="1" stroke-opacity="0.85"/>
<line x1="498.25" y1="43.4" x2="498.25" y2="57.3" stroke="#7c7c7c" stroke-width="0.9"/>
<line x1="498.25" y1="66.5" x2="498.25" y2="79.3" stroke="#7c7c7c" stroke-width="0.9"/>
<line x1="497.15" y1="43.4" x2="499.35" y2="43.4" stroke="#555" stroke-width="0.9"/>
<line x1="497.15" y1="79.3" x2="499.35" y2="79.3" stroke="#555" stroke-width="0.9"/>
<rect x="496.2" y="57.3" width="4.1" height="9.2" fill="#b0786a" stroke="#5a5a5a" stroke-width="0.6"/>
<line x1="496.2" y1="60.3" x2="500.3" y2="60.3" stroke="#1a1a1a" stroke-width="1" stroke-opacity="0.85"/>
<line x1="504.35" y1="48.1" x2="504.35" y2="60.2" stroke="#7c7c7c" stroke-width="0.9"/>
<line x1="504.35" y1="68.3" x2="504.35" y2="75.4" stroke="#7c7c7c" stroke-width="0.9"/>
<line x1="503.25" y1="48.1" x2="505.45" y2="48.1" stroke="#555" stroke-width="0.9"/>
<line x1="503.25" y1="75.4" x2="505.45" y2="75.4" stroke="#555" stroke-width="0.9"/>
<rect x="502.3" y="60.2" width="4.1" height="8.1" fill="#a0a0a0" stroke="#5a5a5a" stroke-width="0.6"/>
<line x1="502.3" y1="63.3" x2="506.4" y2="63.3" stroke="#1a1a1a" stroke-width="1" stroke-opacity="0.85"/>
<circle cx="504.35" cy="85.5" r="1.15" fill="#3a3a3a"/>
<circle cx="504.35" cy="87.1" r="1.15" fill="#3a3a3a"/>
<line x1="510.45" y1="54.4" x2="510.45" y2="65.3" stroke="#7c7c7c" stroke-width="0.9"/>
<line x1="510.45" y1="75.7" x2="510.45" y2="86.9" stroke="#7c7c7c" stroke-width="0.9"/>
<line x1="509.35" y1="54.4" x2="511.55" y2="54.4" stroke="#555" stroke-width="0.9"/>
<line x1="509.35" y1="86.9" x2="511.55" y2="86.9" stroke="#555" stroke-width="0.9"/>
<rect x="508.4" y="65.3" width="4.1" height="10.4" fill="#5fe0dc" stroke="#5a5a5a" stroke-width="0.6"/>
<line x1="508.4" y1="71.6" x2="512.5" y2="71.6" stroke="#1a1a1a" stroke-width="1" stroke-opacity="0.85"/>
<line x1="516.55" y1="59.1" x2="516.55" y2="66" stroke="#7c7c7c" stroke-width="0.9"/>
<line x1="516.55" y1="79.8" x2="516.55" y2="98.9" stroke="#7c7c7c" stroke-width="0.9"/>
<line x1="515.45" y1="59.1" x2="517.65" y2="59.1" stroke="#555" stroke-width="0.9"/>
<line x1="515.45" y1="98.9" x2="517.65" y2="98.9" stroke="#555" stroke-width="0.9"/>
<rect x="514.5" y="66" width="4.1" height="13.8" fill="#e88ad8" stroke="#5a5a5a" stroke-width="0.6"/>
<line x1="514.5" y1="71.6" x2="518.6" y2="71.6" stroke="#1a1a1a" stroke-width="1" stroke-opacity="0.85"/>
<line x1="522.65" y1="59.3" x2="522.65" y2="69.4" stroke="#7c7c7c" stroke-width="0.9"/>
<line x1="522.65" y1="81" x2="522.65" y2="96.3" stroke="#7c7c7c" stroke-width="0.9"/>
<line x1="521.55" y1="59.3" x2="523.75" y2="59.3" stroke="#555" stroke-width="0.9"/>
<line x1="521.55" y1="96.3" x2="523.75" y2="96.3" stroke="#555" stroke-width="0.9"/>
<rect x="520.6" y="69.4" width="4.1" height="11.6" fill="#c5d34a" stroke="#5a5a5a" stroke-width="0.6"/>
<line x1="520.6" y1="75.4" x2="524.7" y2="75.4" stroke="#1a1a1a" stroke-width="1" stroke-opacity="0.85"/>
<circle cx="522.65" cy="50.3" r="1.15" fill="#3a3a3a"/>
<line x1="528.75" y1="57.4" x2="528.75" y2="65.6" stroke="#7c7c7c" stroke-width="0.9"/>
<line x1="528.75" y1="80.6" x2="528.75" y2="99.3" stroke="#7c7c7c" stroke-width="0.9"/>
<line x1="527.65" y1="57.4" x2="529.85" y2="57.4" stroke="#555" stroke-width="0.9"/>
<line x1="527.65" y1="99.3" x2="529.85" y2="99.3" stroke="#555" stroke-width="0.9"/>
<rect x="526.7" y="65.6" width="4.1" height="15" fill="#5a9fd4" stroke="#5a5a5a" stroke-width="0.6"/>
<line x1="526.7" y1="72.5" x2="530.8" y2="72.5" stroke="#1a1a1a" stroke-width="1" stroke-opacity="0.85"/>
<line x1="534.85" y1="46.2" x2="534.85" y2="63" stroke="#7c7c7c" stroke-width="0.9"/>
<line x1="534.85" y1="78.4" x2="534.85" y2="97.5" stroke="#7c7c7c" stroke-width="0.9"/>
<line x1="533.75" y1="46.2" x2="535.95" y2="46.2" stroke="#555" stroke-width="0.9"/>
<line x1="533.75" y1="97.5" x2="535.95" y2="97.5" stroke="#555" stroke-width="0.9"/>
<rect x="532.8" y="63" width="4.1" height="15.4" fill="#ee7b3a" stroke="#5a5a5a" stroke-width="0.6"/>
<line x1="532.8" y1="73.4" x2="536.9" y2="73.4" stroke="#1a1a1a" stroke-width="1" stroke-opacity="0.85"/>
<circle cx="534.85" cy="104.9" r="1.15" fill="#3a3a3a"/>
<circle cx="534.85" cy="107.1" r="1.15" fill="#3a3a3a"/>
<line x1="540.95" y1="53.5" x2="540.95" y2="65.3" stroke="#7c7c7c" stroke-width="0.9"/>
<line x1="540.95" y1="83.2" x2="540.95" y2="98.4" stroke="#7c7c7c" stroke-width="0.9"/>
<line x1="539.85" y1="53.5" x2="542.05" y2="53.5" stroke="#555" stroke-width="0.9"/>
<line x1="539.85" y1="98.4" x2="542.05" y2="98.4" stroke="#555" stroke-width="0.9"/>
<rect x="538.9" y="65.3" width="4.1" height="17.9" fill="#5a9fd4" stroke="#5a5a5a" stroke-width="0.6"/>
<line x1="538.9" y1="73.1" x2="543" y2="73.1" stroke="#1a1a1a" stroke-width="1" stroke-opacity="0.85"/>
<line x1="547.05" y1="55.9" x2="547.05" y2="66.9" stroke="#7c7c7c" stroke-width="0.9"/>
<line x1="547.05" y1="83.2" x2="547.05" y2="97.5" stroke="#7c7c7c" stroke-width="0.9"/>
<line x1="545.95" y1="55.9" x2="548.15" y2="55.9" stroke="#555" stroke-width="0.9"/>
<line x1="545.95" y1="97.5" x2="548.15" y2="97.5" stroke="#555" stroke-width="0.9"/>
<rect x="545" y="66.9" width="4.1" height="16.3" fill="#f5973a" stroke="#5a5a5a" stroke-width="0.6"/>
<line x1="545" y1="71.4" x2="549.1" y2="71.4" stroke="#1a1a1a" stroke-width="1" stroke-opacity="0.85"/>
<line x1="553.15" y1="54.4" x2="553.15" y2="69.7" stroke="#7c7c7c" stroke-width="0.9"/>
<line x1="553.15" y1="82.1" x2="553.15" y2="96.3" stroke="#7c7c7c" stroke-width="0.9"/>
<line x1="552.05" y1="54.4" x2="554.25" y2="54.4" stroke="#555" stroke-width="0.9"/>
<line x1="552.05" y1="96.3" x2="554.25" y2="96.3" stroke="#555" stroke-width="0.9"/>
<rect x="551.1" y="69.7" width="4.1" height="12.4" fill="#5bc65b" stroke="#5a5a5a" stroke-width="0.6"/>
<line x1="551.1" y1="77.3" x2="555.2" y2="77.3" stroke="#1a1a1a" stroke-width="1" stroke-opacity="0.85"/>
<line x1="559.25" y1="69.4" x2="559.25" y2="79.3" stroke="#7c7c7c" stroke-width="0.9"/>
<line x1="559.25" y1="92.2" x2="559.25" y2="105.3" stroke="#7c7c7c" stroke-width="0.9"/>
<line x1="558.15" y1="69.4" x2="560.35" y2="69.4" stroke="#555" stroke-width="0.9"/>
<line x1="558.15" y1="105.3" x2="560.35" y2="105.3" stroke="#555" stroke-width="0.9"/>
<rect x="557.2" y="79.3" width="4.1" height="12.9" fill="#e0474f" stroke="#5a5a5a" stroke-width="0.6"/>
<line x1="557.2" y1="85.5" x2="561.3" y2="85.5" stroke="#1a1a1a" stroke-width="1" stroke-opacity="0.85"/>
<line x1="565.35" y1="53.2" x2="565.35" y2="71.6" stroke="#7c7c7c" stroke-width="0.9"/>
<line x1="565.35" y1="85.1" x2="565.35" y2="99.3" stroke="#7c7c7c" stroke-width="0.9"/>
<line x1="564.25" y1="53.2" x2="566.45" y2="53.2" stroke="#555" stroke-width="0.9"/>
<line x1="564.25" y1="99.3" x2="566.45" y2="99.3" stroke="#555" stroke-width="0.9"/>
<rect x="563.3" y="71.6" width="4.1" height="13.5" fill="#b07fd8" stroke="#5a5a5a" stroke-width="0.6"/>
<line x1="563.3" y1="78.4" x2="567.4" y2="78.4" stroke="#1a1a1a" stroke-width="1" stroke-opacity="0.85"/>
<line x1="571.45" y1="45.6" x2="571.45" y2="69.2" stroke="#7c7c7c" stroke-width="0.9"/>
<line x1="571.45" y1="90.3" x2="571.45" y2="101.5" stroke="#7c7c7c" stroke-width="0.9"/>
<line x1="570.35" y1="45.6" x2="572.55" y2="45.6" stroke="#555" stroke-width="0.9"/>
<line x1="570.35" y1="101.5" x2="572.55" y2="101.5" stroke="#555" stroke-width="0.9"/>
<rect x="569.4" y="69.2" width="4.1" height="21.1" fill="#b0786a" stroke="#5a5a5a" stroke-width="0.6"/>
<line x1="569.4" y1="80.2" x2="573.5" y2="80.2" stroke="#1a1a1a" stroke-width="1" stroke-opacity="0.85"/>
<line x1="577.55" y1="66.4" x2="577.55" y2="77" stroke="#7c7c7c" stroke-width="0.9"/>
<line x1="577.55" y1="93.6" x2="577.55" y2="103.4" stroke="#7c7c7c" stroke-width="0.9"/>
<line x1="576.45" y1="66.4" x2="578.65" y2="66.4" stroke="#555" stroke-width="0.9"/>
<line x1="576.45" y1="103.4" x2="578.65" y2="103.4" stroke="#555" stroke-width="0.9"/>
<rect x="575.5" y="77" width="4.1" height="16.6" fill="#a0a0a0" stroke="#5a5a5a" stroke-width="0.6"/>
<line x1="575.5" y1="84.3" x2="579.6" y2="84.3" stroke="#1a1a1a" stroke-width="1" stroke-opacity="0.85"/>
<line x1="583.65" y1="74.2" x2="583.65" y2="78.2" stroke="#7c7c7c" stroke-width="0.9"/>
<line x1="583.65" y1="93" x2="583.65" y2="103.4" stroke="#7c7c7c" stroke-width="0.9"/>
<line x1="582.55" y1="74.2" x2="584.75" y2="74.2" stroke="#555" stroke-width="0.9"/>
<line x1="582.55" y1="103.4" x2="584.75" y2="103.4" stroke="#555" stroke-width="0.9"/>
<rect x="581.6" y="78.2" width="4.1" height="14.8" fill="#5fe0dc" stroke="#5a5a5a" stroke-width="0.6"/>
<line x1="581.6" y1="85.5" x2="585.7" y2="85.5" stroke="#1a1a1a" stroke-width="1" stroke-opacity="0.85"/>
<line x1="589.75" y1="64.1" x2="589.75" y2="75.9" stroke="#7c7c7c" stroke-width="0.9"/>
<line x1="589.75" y1="88.3" x2="589.75" y2="98.4" stroke="#7c7c7c" stroke-width="0.9"/>
<line x1="588.65" y1="64.1" x2="590.85" y2="64.1" stroke="#555" stroke-width="0.9"/>
<line x1="588.65" y1="98.4" x2="590.85" y2="98.4" stroke="#555" stroke-width="0.9"/>
<rect x="587.7" y="75.9" width="4.1" height="12.4" fill="#e88ad8" stroke="#5a5a5a" stroke-width="0.6"/>
<line x1="587.7" y1="79.3" x2="591.8" y2="79.3" stroke="#1a1a1a" stroke-width="1" stroke-opacity="0.85"/>
<circle cx="589.75" cy="51" r="1.15" fill="#3a3a3a"/>
<line x1="595.85" y1="62.4" x2="595.85" y2="75.4" stroke="#7c7c7c" stroke-width="0.9"/>
<line x1="595.85" y1="87.4" x2="595.85" y2="99.3" stroke="#7c7c7c" stroke-width="0.9"/>
<line x1="594.75" y1="62.4" x2="596.95" y2="62.4" stroke="#555" stroke-width="0.9"/>
<line x1="594.75" y1="99.3" x2="596.95" y2="99.3" stroke="#555" stroke-width="0.9"/>
<rect x="593.8" y="75.4" width="4.1" height="12" fill="#c5d34a" stroke="#5a5a5a" stroke-width="0.6"/>
<line x1="593.8" y1="78.4" x2="597.9" y2="78.4" stroke="#1a1a1a" stroke-width="1" stroke-opacity="0.85"/>
<line x1="601.95" y1="68.6" x2="601.95" y2="74.2" stroke="#7c7c7c" stroke-width="0.9"/>
<line x1="601.95" y1="90.5" x2="601.95" y2="96.3" stroke="#7c7c7c" stroke-width="0.9"/>
<line x1="600.85" y1="68.6" x2="603.05" y2="68.6" stroke="#555" stroke-width="0.9"/>
<line x1="600.85" y1="96.3" x2="603.05" y2="96.3" stroke="#555" stroke-width="0.9"/>
<rect x="599.9" y="74.2" width="4.1" height="16.3" fill="#5a9fd4" stroke="#5a5a5a" stroke-width="0.6"/>
<line x1="599.9" y1="78.4" x2="604" y2="78.4" stroke="#1a1a1a" stroke-width="1" stroke-opacity="0.85"/>
<line x1="608.05" y1="63.6" x2="608.05" y2="74.2" stroke="#7c7c7c" stroke-width="0.9"/>
<line x1="608.05" y1="84" x2="608.05" y2="89.4" stroke="#7c7c7c" stroke-width="0.9"/>
<line x1="606.95" y1="63.6" x2="609.15" y2="63.6" stroke="#555" stroke-width="0.9"/>
<line x1="606.95" y1="89.4" x2="609.15" y2="89.4" stroke="#555" stroke-width="0.9"/>
<rect x="606" y="74.2" width="4.1" height="9.8" fill="#ee7b3a" stroke="#5a5a5a" stroke-width="0.6"/>
<line x1="606" y1="80.2" x2="610.1" y2="80.2" stroke="#1a1a1a" stroke-width="1" stroke-opacity="0.85"/>
<circle cx="608.05" cy="100.6" r="1.15" fill="#3a3a3a"/>
<circle cx="608.05" cy="101.5" r="1.15" fill="#3a3a3a"/>
<circle cx="608.05" cy="108.7" r="1.15" fill="#3a3a3a"/>
<line x1="614.15" y1="65.6" x2="614.15" y2="75.4" stroke="#7c7c7c" stroke-width="0.9"/>
<line x1="614.15" y1="83.2" x2="614.15" y2="92.2" stroke="#7c7c7c" stroke-width="0.9"/>
<line x1="613.05" y1="65.6" x2="615.25" y2="65.6" stroke="#555" stroke-width="0.9"/>
<line x1="613.05" y1="92.2" x2="615.25" y2="92.2" stroke="#555" stroke-width="0.9"/>
<rect x="612.1" y="75.4" width="4.1" height="7.8" fill="#5a9fd4" stroke="#5a5a5a" stroke-width="0.6"/>
<line x1="612.1" y1="81.3" x2="616.2" y2="81.3" stroke="#1a1a1a" stroke-width="1" stroke-opacity="0.85"/>
<circle cx="614.15" cy="60.8" r="1.15" fill="#3a3a3a"/>
<circle cx="614.15" cy="95.9" r="1.15" fill="#3a3a3a"/>
<circle cx="614.15" cy="100.8" r="1.15" fill="#3a3a3a"/>
<line x1="620.25" y1="66.9" x2="620.25" y2="75.7" stroke="#7c7c7c" stroke-width="0.9"/>
<line x1="620.25" y1="86" x2="620.25" y2="97.5" stroke="#7c7c7c" stroke-width="0.9"/>
<line x1="619.15" y1="66.9" x2="621.35" y2="66.9" stroke="#555" stroke-width="0.9"/>
<line x1="619.15" y1="97.5" x2="621.35" y2="97.5" stroke="#555" stroke-width="0.9"/>
<rect x="618.2" y="75.7" width="4.1" height="10.3" fill="#f5973a" stroke="#5a5a5a" stroke-width="0.6"/>
<line x1="618.2" y1="81.5" x2="622.3" y2="81.5" stroke="#1a1a1a" stroke-width="1" stroke-opacity="0.85"/>
<circle cx="620.25" cy="55.9" r="1.15" fill="#3a3a3a"/>
<line x1="626.35" y1="62.4" x2="626.35" y2="72.3" stroke="#7c7c7c" stroke-width="0.9"/>
<line x1="626.35" y1="85.5" x2="626.35" y2="99.7" stroke="#7c7c7c" stroke-width="0.9"/>
<line x1="625.25" y1="62.4" x2="627.45" y2="62.4" stroke="#555" stroke-width="0.9"/>
<line x1="625.25" y1="99.7" x2="627.45" y2="99.7" stroke="#555" stroke-width="0.9"/>
<rect x="624.3" y="72.3" width="4.1" height="13.2" fill="#5bc65b" stroke="#5a5a5a" stroke-width="0.6"/>
<line x1="624.3" y1="82.4" x2="628.4" y2="82.4" stroke="#1a1a1a" stroke-width="1" stroke-opacity="0.85"/>
<line x1="632.45" y1="62.4" x2="632.45" y2="75.9" stroke="#7c7c7c" stroke-width="0.9"/>
<line x1="632.45" y1="88" x2="632.45" y2="101.2" stroke="#7c7c7c" stroke-width="0.9"/>
<line x1="631.35" y1="62.4" x2="633.55" y2="62.4" stroke="#555" stroke-width="0.9"/>
<line x1="631.35" y1="101.2" x2="633.55" y2="101.2" stroke="#555" stroke-width="0.9"/>
<rect x="630.4" y="75.9" width="4.1" height="12.1" fill="#e0474f" stroke="#5a5a5a" stroke-width="0.6"/>
<line x1="630.4" y1="83.2" x2="634.5" y2="83.2" stroke="#1a1a1a" stroke-width="1" stroke-opacity="0.85"/>
<line x1="638.55" y1="87.4" x2="638.55" y2="108" stroke="#7c7c7c" stroke-width="0.9"/>
<line x1="638.55" y1="130" x2="638.55" y2="143.2" stroke="#7c7c7c" stroke-width="0.9"/>
<line x1="637.45" y1="87.4" x2="639.65" y2="87.4" stroke="#555" stroke-width="0.9"/>
<line x1="637.45" y1="143.2" x2="639.65" y2="143.2" stroke="#555" stroke-width="0.9"/>
<rect x="636.5" y="108" width="4.1" height="22" fill="#b07fd8" stroke="#5a5a5a" stroke-width="0.6"/>
<line x1="636.5" y1="118.2" x2="640.6" y2="118.2" stroke="#1a1a1a" stroke-width="1" stroke-opacity="0.85"/>
<line x1="644.65" y1="100.4" x2="644.65" y2="107.2" stroke="#7c7c7c" stroke-width="0.9"/>
<line x1="644.65" y1="126.4" x2="644.65" y2="146.2" stroke="#7c7c7c" stroke-width="0.9"/>
<line x1="643.55" y1="100.4" x2="645.75" y2="100.4" stroke="#555" stroke-width="0.9"/>
<line x1="643.55" y1="146.2" x2="645.75" y2="146.2" stroke="#555" stroke-width="0.9"/>
<rect x="642.6" y="107.2" width="4.1" height="19.2" fill="#b0786a" stroke="#5a5a5a" stroke-width="0.6"/>
<line x1="642.6" y1="116.2" x2="646.7" y2="116.2" stroke="#1a1a1a" stroke-width="1" stroke-opacity="0.85"/>
<line x1="650.75" y1="91.3" x2="650.75" y2="109.1" stroke="#7c7c7c" stroke-width="0.9"/>
<line x1="650.75" y1="126.4" x2="650.75" y2="148.3" stroke="#7c7c7c" stroke-width="0.9"/>
<line x1="649.65" y1="91.3" x2="651.85" y2="91.3" stroke="#555" stroke-width="0.9"/>
<line x1="649.65" y1="148.3" x2="651.85" y2="148.3" stroke="#555" stroke-width="0.9"/>
<rect x="648.7" y="109.1" width="4.1" height="17.3" fill="#a0a0a0" stroke="#5a5a5a" stroke-width="0.6"/>
<line x1="648.7" y1="120" x2="652.8" y2="120" stroke="#1a1a1a" stroke-width="1" stroke-opacity="0.85"/>
<line x1="656.85" y1="93.3" x2="656.85" y2="108.3" stroke="#7c7c7c" stroke-width="0.9"/>
<line x1="656.85" y1="127.4" x2="656.85" y2="134.2" stroke="#7c7c7c" stroke-width="0.9"/>
<line x1="655.75" y1="93.3" x2="657.95" y2="93.3" stroke="#555" stroke-width="0.9"/>
<line x1="655.75" y1="134.2" x2="657.95" y2="134.2" stroke="#555" stroke-width="0.9"/>
<rect x="654.8" y="108.3" width="4.1" height="19.1" fill="#5fe0dc" stroke="#5a5a5a" stroke-width="0.6"/>
<line x1="654.8" y1="115.8" x2="658.9" y2="115.8" stroke="#1a1a1a" stroke-width="1" stroke-opacity="0.85"/>
<circle cx="656.85" cy="167.9" r="1.15" fill="#3a3a3a"/>
<line x1="662.95" y1="86.6" x2="662.95" y2="104.5" stroke="#7c7c7c" stroke-width="0.9"/>
<line x1="662.95" y1="125.6" x2="662.95" y2="151.4" stroke="#7c7c7c" stroke-width="0.9"/>
<line x1="661.85" y1="86.6" x2="664.05" y2="86.6" stroke="#555" stroke-width="0.9"/>
<line x1="661.85" y1="151.4" x2="664.05" y2="151.4" stroke="#555" stroke-width="0.9"/>
<rect x="660.9" y="104.5" width="4.1" height="21.1" fill="#e88ad8" stroke="#5a5a5a" stroke-width="0.6"/>
<line x1="660.9" y1="118.2" x2="665" y2="118.2" stroke="#1a1a1a" stroke-width="1" stroke-opacity="0.85"/>
<circle cx="662.95" cy="160.8" r="1.15" fill="#3a3a3a"/>
<line x1="669.05" y1="99.6" x2="669.05" y2="111.3" stroke="#7c7c7c" stroke-width="0.9"/>
<line x1="669.05" y1="124.9" x2="669.05" y2="138.4" stroke="#7c7c7c" stroke-width="0.9"/>
<line x1="667.95" y1="99.6" x2="670.15" y2="99.6" stroke="#555" stroke-width="0.9"/>
<line x1="667.95" y1="138.4" x2="670.15" y2="138.4" stroke="#555" stroke-width="0.9"/>
<rect x="667" y="111.3" width="4.1" height="13.6" fill="#c5d34a" stroke="#5a5a5a" stroke-width="0.6"/>
<line x1="667" y1="120.4" x2="671.1" y2="120.4" stroke="#1a1a1a" stroke-width="1" stroke-opacity="0.85"/>
<circle cx="669.05" cy="89.3" r="1.15" fill="#3a3a3a"/>
<circle cx="669.05" cy="157.2" r="1.15" fill="#3a3a3a"/>
<line x1="675.15" y1="101.4" x2="675.15" y2="111.3" stroke="#7c7c7c" stroke-width="0.9"/>
<line x1="675.15" y1="125.6" x2="675.15" y2="135.4" stroke="#7c7c7c" stroke-width="0.9"/>
<line x1="674.05" y1="101.4" x2="676.25" y2="101.4" stroke="#555" stroke-width="0.9"/>
<line x1="674.05" y1="135.4" x2="676.25" y2="135.4" stroke="#555" stroke-width="0.9"/>
<rect x="673.1" y="111.3" width="4.1" height="14.3" fill="#5a9fd4" stroke="#5a5a5a" stroke-width="0.6"/>
<line x1="673.1" y1="119.3" x2="677.2" y2="119.3" stroke="#1a1a1a" stroke-width="1" stroke-opacity="0.85"/>
<circle cx="675.15" cy="150.7" r="1.15" fill="#3a3a3a"/>
<circle cx="675.15" cy="157" r="1.15" fill="#3a3a3a"/>
<line x1="681.25" y1="92.5" x2="681.25" y2="115.3" stroke="#7c7c7c" stroke-width="0.9"/>
<line x1="681.25" y1="132.3" x2="681.25" y2="149.9" stroke="#7c7c7c" stroke-width="0.9"/>
<line x1="680.15" y1="92.5" x2="682.35" y2="92.5" stroke="#555" stroke-width="0.9"/>
<line x1="680.15" y1="149.9" x2="682.35" y2="149.9" stroke="#555" stroke-width="0.9"/>
<rect x="679.2" y="115.3" width="4.1" height="17" fill="#ee7b3a" stroke="#5a5a5a" stroke-width="0.6"/>
<line x1="679.2" y1="121.3" x2="683.3" y2="121.3" stroke="#1a1a1a" stroke-width="1" stroke-opacity="0.85"/>
<circle cx="681.25" cy="164" r="1.15" fill="#3a3a3a"/>
<line x1="391.5" y1="66.9" x2="685.5" y2="66.9" stroke="#f0a0a0" stroke-width="0.95" stroke-dasharray="2.5 1.3"/>
<text x="388.5" y="60.9" font-size="4.87" font-weight="bold" fill="#111" textLength="28.7" lengthAdjust="spacingAndGlyphs" stroke="#111" stroke-width="0.05">Avg: 0.891</text>
<line x1="391.5" y1="8.1" x2="391.5" y2="176" stroke="#808080" stroke-width="1"/>
<line x1="391" y1="175.5" x2="685.5" y2="175.5" stroke="#808080" stroke-width="1"/>
<text x="387.6" y="158.35" font-size="4.71" text-anchor="end" textLength="10.29" lengthAdjust="spacingAndGlyphs" stroke="#2e2e2e" stroke-width="0.07">0.75</text>
<text x="387.6" y="126.6" font-size="4.71" text-anchor="end" textLength="10.29" lengthAdjust="spacingAndGlyphs" stroke="#2e2e2e" stroke-width="0.07">0.80</text>
<text x="387.6" y="94.85" font-size="4.71" text-anchor="end" textLength="10.29" lengthAdjust="spacingAndGlyphs" stroke="#2e2e2e" stroke-width="0.07">0.85</text>
<text x="387.6" y="63.1" font-size="4.71" text-anchor="end" textLength="10.29" lengthAdjust="spacingAndGlyphs" stroke="#2e2e2e" stroke-width="0.07">0.90</text>
<text x="387.6" y="31.35" font-size="4.71" text-anchor="end" textLength="10.29" lengthAdjust="spacingAndGlyphs" stroke="#2e2e2e" stroke-width="0.07">0.95</text>
<text transform="translate(396.75 179) rotate(-90)" x="0" y="0" font-size="3.87" text-anchor="end" fill="#3a3a3a" textLength="22.63" lengthAdjust="spacingAndGlyphs">AutoSF_afm</text>
<text transform="translate(402.85 179) rotate(-90)" x="0" y="0" font-size="3.87" text-anchor="end" fill="#3a3a3a" textLength="24.12" lengthAdjust="spacingAndGlyphs">pRotatE_afm</text>
<text transform="translate(408.95 179) rotate(-90)" x="0" y="0" font-size="3.87" text-anchor="end" fill="#3a3a3a" textLength="23.3" lengthAdjust="spacingAndGlyphs">InterHT_afm</text>
<text transform="translate(415.05 179) rotate(-90)" x="0" y="0" font-size="3.87" text-anchor="end" fill="#3a3a3a" textLength="24.43" lengthAdjust="spacingAndGlyphs">TripleRE_afm</text>
<text transform="translate(421.15 179) rotate(-90)" x="0" y="0" font-size="3.87" text-anchor="end" fill="#3a3a3a" textLength="21.32" lengthAdjust="spacingAndGlyphs">PairRE_afm</text>
<text transform="translate(427.25 179) rotate(-90)" x="0" y="0" font-size="3.87" text-anchor="end" fill="#3a3a3a" textLength="21.65" lengthAdjust="spacingAndGlyphs">TransE_afm</text>
<text transform="translate(433.35 179) rotate(-90)" x="0" y="0" font-size="3.87" text-anchor="end" fill="#3a3a3a" textLength="24.89" lengthAdjust="spacingAndGlyphs">DistMult_afm</text>
<text transform="translate(439.45 179) rotate(-90)" x="0" y="0" font-size="3.87" text-anchor="end" fill="#3a3a3a" textLength="26" lengthAdjust="spacingAndGlyphs">ComplEx_afm</text>
<text transform="translate(445.55 179) rotate(-90)" x="0" y="0" font-size="3.87" text-anchor="end" fill="#3a3a3a" textLength="22.8" lengthAdjust="spacingAndGlyphs">AutoSF_BPR</text>
<text transform="translate(451.65 179) rotate(-90)" x="0" y="0" font-size="3.87" text-anchor="end" fill="#3a3a3a" textLength="23.48" lengthAdjust="spacingAndGlyphs">InterHT_BPR</text>
<text transform="translate(457.75 179) rotate(-90)" x="0" y="0" font-size="3.87" text-anchor="end" fill="#3a3a3a" textLength="21.82" lengthAdjust="spacingAndGlyphs">TransE_BPR</text>
<text transform="translate(463.85 179) rotate(-90)" x="0" y="0" font-size="3.87" text-anchor="end" fill="#3a3a3a" textLength="24.6" lengthAdjust="spacingAndGlyphs">TripleRE_BPR</text>
<text transform="translate(469.95 179) rotate(-90)" x="0" y="0" font-size="3.87" text-anchor="end" fill="#3a3a3a" textLength="24.29" lengthAdjust="spacingAndGlyphs">pRotatE_BPR</text>
<text transform="translate(476.05 179) rotate(-90)" x="0" y="0" font-size="3.87" text-anchor="end" fill="#3a3a3a" textLength="26.17" lengthAdjust="spacingAndGlyphs">ComplEx_BPR</text>
<text transform="translate(482.15 179) rotate(-90)" x="0" y="0" font-size="3.87" text-anchor="end" fill="#3a3a3a" textLength="21.49" lengthAdjust="spacingAndGlyphs">PairRE_BPR</text>
<text transform="translate(488.25 179) rotate(-90)" x="0" y="0" font-size="3.87" text-anchor="end" fill="#3a3a3a" textLength="25.06" lengthAdjust="spacingAndGlyphs">DistMult_BPR</text>
<text transform="translate(494.35 179) rotate(-90)" x="0" y="0" font-size="3.87" text-anchor="end" fill="#3a3a3a" textLength="19" lengthAdjust="spacingAndGlyphs">PairRE_fm</text>
<text transform="translate(500.45 179) rotate(-90)" x="0" y="0" font-size="3.87" text-anchor="end" fill="#3a3a3a" textLength="21.8" lengthAdjust="spacingAndGlyphs">pRotatE_fm</text>
<text transform="translate(506.55 179) rotate(-90)" x="0" y="0" font-size="3.87" text-anchor="end" fill="#3a3a3a" textLength="21.73" lengthAdjust="spacingAndGlyphs">TransE_nfm</text>
<text transform="translate(512.65 179) rotate(-90)" x="0" y="0" font-size="3.87" text-anchor="end" fill="#3a3a3a" textLength="21.4" lengthAdjust="spacingAndGlyphs">PairRE_nfm</text>
<text transform="translate(518.75 179) rotate(-90)" x="0" y="0" font-size="3.87" text-anchor="end" fill="#3a3a3a" textLength="22.71" lengthAdjust="spacingAndGlyphs">AutoSF_nfm</text>
<text transform="translate(524.85 179) rotate(-90)" x="0" y="0" font-size="3.87" text-anchor="end" fill="#3a3a3a" textLength="24.97" lengthAdjust="spacingAndGlyphs">DistMult_nfm</text>
<text transform="translate(530.95 179) rotate(-90)" x="0" y="0" font-size="3.87" text-anchor="end" fill="#3a3a3a" textLength="26.08" lengthAdjust="spacingAndGlyphs">ComplEx_nfm</text>
<text transform="translate(537.05 179) rotate(-90)" x="0" y="0" font-size="3.87" text-anchor="end" fill="#3a3a3a" textLength="23.38" lengthAdjust="spacingAndGlyphs">InterHT_nfm</text>
<text transform="translate(543.15 179) rotate(-90)" x="0" y="0" font-size="3.87" text-anchor="end" fill="#3a3a3a" textLength="24.51" lengthAdjust="spacingAndGlyphs">TripleRE_nfm</text>
<text transform="translate(549.25 179) rotate(-90)" x="0" y="0" font-size="3.87" text-anchor="end" fill="#3a3a3a" textLength="23.67" lengthAdjust="spacingAndGlyphs">ComplEx_fm</text>
<text transform="translate(555.35 179) rotate(-90)" x="0" y="0" font-size="3.87" text-anchor="end" fill="#3a3a3a" textLength="20.31" lengthAdjust="spacingAndGlyphs">AutoSF_fm</text>
<text transform="translate(561.45 179) rotate(-90)" x="0" y="0" font-size="3.87" text-anchor="end" fill="#3a3a3a" textLength="24.2" lengthAdjust="spacingAndGlyphs">pRotatE_nfm</text>
<text transform="translate(567.55 179) rotate(-90)" x="0" y="0" font-size="3.87" text-anchor="end" fill="#3a3a3a" textLength="22.56" lengthAdjust="spacingAndGlyphs">DistMult_fm</text>
<text transform="translate(573.65 179) rotate(-90)" x="0" y="0" font-size="3.87" text-anchor="end" fill="#3a3a3a" textLength="19.33" lengthAdjust="spacingAndGlyphs">TransE_fm</text>
<text transform="translate(579.75 179) rotate(-90)" x="0" y="0" font-size="3.87" text-anchor="end" fill="#3a3a3a" textLength="22.11" lengthAdjust="spacingAndGlyphs">TripleRE_fm</text>
<text transform="translate(585.85 179) rotate(-90)" x="0" y="0" font-size="3.87" text-anchor="end" fill="#3a3a3a" textLength="20.98" lengthAdjust="spacingAndGlyphs">InterHT_fm</text>
<text transform="translate(591.95 179) rotate(-90)" x="0" y="0" font-size="3.87" text-anchor="end" fill="#3a3a3a" textLength="22.67" lengthAdjust="spacingAndGlyphs">TransE_DMF</text>
<text transform="translate(598.05 179) rotate(-90)" x="0" y="0" font-size="3.87" text-anchor="end" fill="#3a3a3a" textLength="27.02" lengthAdjust="spacingAndGlyphs">ComplEx_DMF</text>
<text transform="translate(604.15 179) rotate(-90)" x="0" y="0" font-size="3.87" text-anchor="end" fill="#3a3a3a" textLength="25.91" lengthAdjust="spacingAndGlyphs">DistMult_DMF</text>
<text transform="translate(610.25 179) rotate(-90)" x="0" y="0" font-size="3.87" text-anchor="end" fill="#3a3a3a" textLength="24.32" lengthAdjust="spacingAndGlyphs">InterHT_DMF</text>
<text transform="translate(616.35 179) rotate(-90)" x="0" y="0" font-size="3.87" text-anchor="end" fill="#3a3a3a" textLength="22.34" lengthAdjust="spacingAndGlyphs">PairRE_DMF</text>
<text transform="translate(622.45 179) rotate(-90)" x="0" y="0" font-size="3.87" text-anchor="end" fill="#3a3a3a" textLength="23.65" lengthAdjust="spacingAndGlyphs">AutoSF_DMF</text>
<text transform="translate(628.55 179) rotate(-90)" x="0" y="0" font-size="3.87" text-anchor="end" fill="#3a3a3a" textLength="25.45" lengthAdjust="spacingAndGlyphs">TripleRE_DMF</text>
<text transform="translate(634.65 179) rotate(-90)" x="0" y="0" font-size="3.87" text-anchor="end" fill="#3a3a3a" textLength="25.14" lengthAdjust="spacingAndGlyphs">pRotatE_DMF</text>
<text transform="translate(640.75 179) rotate(-90)" x="0" y="0" font-size="3.87" text-anchor="end" fill="#3a3a3a" textLength="34.04" lengthAdjust="spacingAndGlyphs">pRotatE_ConvNCF</text>
<text transform="translate(646.85 179) rotate(-90)" x="0" y="0" font-size="3.87" text-anchor="end" fill="#3a3a3a" textLength="34.36" lengthAdjust="spacingAndGlyphs">TripleRE_ConvNCF</text>
<text transform="translate(652.95 179) rotate(-90)" x="0" y="0" font-size="3.87" text-anchor="end" fill="#3a3a3a" textLength="35.92" lengthAdjust="spacingAndGlyphs">ComplEx_ConvNCF</text>
<text transform="translate(659.05 179) rotate(-90)" x="0" y="0" font-size="3.87" text-anchor="end" fill="#3a3a3a" textLength="32.55" lengthAdjust="spacingAndGlyphs">AutoSF_ConvNCF</text>
<text transform="translate(665.15 179) rotate(-90)" x="0" y="0" font-size="3.87" text-anchor="end" fill="#3a3a3a" textLength="34.81" lengthAdjust="spacingAndGlyphs">DistMult_ConvNCF</text>
<text transform="translate(671.25 179) rotate(-90)" x="0" y="0" font-size="3.87" text-anchor="end" fill="#3a3a3a" textLength="31.24" lengthAdjust="spacingAndGlyphs">PairRE_ConvNCF</text>
<text transform="translate(677.35 179) rotate(-90)" x="0" y="0" font-size="3.87" text-anchor="end" fill="#3a3a3a" textLength="33.23" lengthAdjust="spacingAndGlyphs">InterHT_ConvNCF</text>
<text transform="translate(683.45 179) rotate(-90)" x="0" y="0" font-size="3.87" text-anchor="end" fill="#3a3a3a" textLength="31.58" lengthAdjust="spacingAndGlyphs">TransE_ConvNCF</text>
<text x="391.5" y="5.7" font-size="6.87" font-weight="bold" fill="#222222" textLength="118.6" lengthAdjust="spacingAndGlyphs" stroke="#222222" stroke-width="0.05">(b) AUPR Distribution by Model</text>
<text transform="translate(374 92.2) rotate(-90)" x="0" y="0" font-size="5.93" text-anchor="middle" textLength="15.77" lengthAdjust="spacingAndGlyphs" stroke="#2e2e2e" stroke-width="0.14">AUPR</text>
<text x="537.8" y="222" font-size="5.93" text-anchor="middle" textLength="17.44" lengthAdjust="spacingAndGlyphs" stroke="#2e2e2e" stroke-width="0.14">Model</text>
<line x1="38.45" y1="234.3" x2="38.45" y2="401.5" stroke="#e8e8e8" stroke-width="0.5" stroke-dasharray="0.8 1.2"/>
<line x1="91.6" y1="234.3" x2="91.6" y2="401.5" stroke="#e8e8e8" stroke-width="0.5" stroke-dasharray="0.8 1.2"/>
<line x1="144.9" y1="234.3" x2="144.9" y2="401.5" stroke="#e8e8e8" stroke-width="0.5" stroke-dasharray="0.8 1.2"/>
<line x1="198.3" y1="234.3" x2="198.3" y2="401.5" stroke="#e8e8e8" stroke-width="0.5" stroke-dasharray="0.8 1.2"/>
<line x1="251.4" y1="234.3" x2="251.4" y2="401.5" stroke="#e8e8e8" stroke-width="0.5" stroke-dasharray="0.8 1.2"/>
<line x1="304.6" y1="234.3" x2="304.6" y2="401.5" stroke="#e8e8e8" stroke-width="0.5" stroke-dasharray="0.8 1.2"/>
<line x1="25" y1="392.7" x2="318" y2="392.7" stroke="#e8e8e8" stroke-width="0.5" stroke-dasharray="1.2 1.2"/>
<line x1="25" y1="371.5" x2="318" y2="371.5" stroke="#e8e8e8" stroke-width="0.5" stroke-dasharray="1.2 1.2"/>
<line x1="25" y1="350.4" x2="318" y2="350.4" stroke="#e8e8e8" stroke-width="0.5" stroke-dasharray="1.2 1.2"/>
<line x1="25" y1="329.2" x2="318" y2="329.2" stroke="#e8e8e8" stroke-width="0.5" stroke-dasharray="1.2 1.2"/>
<line x1="25" y1="308.05" x2="318" y2="308.05" stroke="#e8e8e8" stroke-width="0.5" stroke-dasharray="1.2 1.2"/>
<line x1="25" y1="286.9" x2="318" y2="286.9" stroke="#e8e8e8" stroke-width="0.5" stroke-dasharray="1.2 1.2"/>
<line x1="25" y1="265.75" x2="318" y2="265.75" stroke="#e8e8e8" stroke-width="0.5" stroke-dasharray="1.2 1.2"/>
<line x1="25" y1="244.6" x2="318" y2="244.6" stroke="#e8e8e8" stroke-width="0.5" stroke-dasharray="1.2 1.2"/>
<polyline points="38.45,261.8 91.6,388 144.9,359 198.3,241.1 251.4,309.4 304.6,298.6" fill="none" stroke="#3a7fc0" stroke-width="1.5" stroke-linejoin="round" stroke-opacity="0.95"/>
<circle cx="38.45" cy="261.8" r="2.3" fill="#3a7fc0"/>
<circle cx="91.6" cy="388" r="2.3" fill="#3a7fc0"/>
<circle cx="144.9" cy="359" r="2.3" fill="#3a7fc0"/>
<circle cx="198.3" cy="241.1" r="2.3" fill="#3a7fc0"/>
<circle cx="251.4" cy="309.4" r="2.3" fill="#3a7fc0"/>
<circle cx="304.6" cy="298.6" r="2.3" fill="#3a7fc0"/>
<polyline points="38.45,263.8 91.6,387 144.9,357.5 198.3,247 251.4,310 304.6,300" fill="none" stroke="#f0802a" stroke-width="1.5" stroke-linejoin="round" stroke-opacity="0.95"/>
<circle cx="38.45" cy="263.8" r="2.3" fill="#f0802a"/>
<circle cx="91.6" cy="387" r="2.3" fill="#f0802a"/>
<circle cx="144.9" cy="357.5" r="2.3" fill="#f0802a"/>
<circle cx="198.3" cy="247" r="2.3" fill="#f0802a"/>
<circle cx="251.4" cy="310" r="2.3" fill="#f0802a"/>
<circle cx="304.6" cy="300" r="2.3" fill="#f0802a"/>
<polyline points="38.45,265.8 91.6,387.5 144.9,358 198.3,246 251.4,314.4 304.6,300.9" fill="none" stroke="#3cac3c" stroke-width="1.5" stroke-linejoin="round" stroke-opacity="0.95"/>
<circle cx="38.45" cy="265.8" r="2.3" fill="#3cac3c"/>
<circle cx="91.6" cy="387.5" r="2.3" fill="#3cac3c"/>
<circle cx="144.9" cy="358" r="2.3" fill="#3cac3c"/>
<circle cx="198.3" cy="246" r="2.3" fill="#3cac3c"/>
<circle cx="251.4" cy="314.4" r="2.3" fill="#3cac3c"/>
<circle cx="304.6" cy="300.9" r="2.3" fill="#3cac3c"/>
<polyline points="38.45,262.6 91.6,390.7 144.9,358.4 198.3,247.5 251.4,333 304.6,302.2" fill="none" stroke="#d63030" stroke-width="1.5" stroke-linejoin="round" stroke-opacity="0.95"/>
<circle cx="38.45" cy="262.6" r="2.3" fill="#d63030"/>
<circle cx="91.6" cy="390.7" r="2.3" fill="#d63030"/>
<circle cx="144.9" cy="358.4" r="2.3" fill="#d63030"/>
<circle cx="198.3" cy="247.5" r="2.3" fill="#d63030"/>
<circle cx="251.4" cy="333" r="2.3" fill="#d63030"/>
<circle cx="304.6" cy="302.2" r="2.3" fill="#d63030"/>
<polyline points="38.45,263.4 91.6,390.3 144.9,359.6 198.3,244 251.4,280.8 304.6,297.9" fill="none" stroke="#9060c8" stroke-width="1.5" stroke-linejoin="round" stroke-opacity="0.95"/>
<circle cx="38.45" cy="263.4" r="2.3" fill="#9060c8"/>
<circle cx="91.6" cy="390.3" r="2.3" fill="#9060c8"/>
<circle cx="144.9" cy="359.6" r="2.3" fill="#9060c8"/>
<circle cx="198.3" cy="244" r="2.3" fill="#9060c8"/>
<circle cx="251.4" cy="280.8" r="2.3" fill="#9060c8"/>
<circle cx="304.6" cy="297.9" r="2.3" fill="#9060c8"/>
<polyline points="38.45,263.6 91.6,394 144.9,355.5 198.3,247.5 251.4,316.8 304.6,292.6" fill="none" stroke="#8a5048" stroke-width="1.5" stroke-linejoin="round" stroke-opacity="0.95"/>
<circle cx="38.45" cy="263.6" r="2.3" fill="#8a5048"/>
<circle cx="91.6" cy="394" r="2.3" fill="#8a5048"/>
<circle cx="144.9" cy="355.5" r="2.3" fill="#8a5048"/>
<circle cx="198.3" cy="247.5" r="2.3" fill="#8a5048"/>
<circle cx="251.4" cy="316.8" r="2.3" fill="#8a5048"/>
<circle cx="304.6" cy="292.6" r="2.3" fill="#8a5048"/>
<polyline points="38.45,264 91.6,389 144.9,361.9 198.3,247.5 251.4,331.1 304.6,303.9" fill="none" stroke="#7a7a7a" stroke-width="1.5" stroke-linejoin="round" stroke-opacity="0.95"/>
<circle cx="38.45" cy="264" r="2.3" fill="#7a7a7a"/>
<circle cx="91.6" cy="389" r="2.3" fill="#7a7a7a"/>
<circle cx="144.9" cy="361.9" r="2.3" fill="#7a7a7a"/>
<circle cx="198.3" cy="247.5" r="2.3" fill="#7a7a7a"/>
<circle cx="251.4" cy="331.1" r="2.3" fill="#7a7a7a"/>
<circle cx="304.6" cy="303.9" r="2.3" fill="#7a7a7a"/>
<polyline points="38.45,264.9 91.6,386.6 144.9,366.6 198.3,243.2 251.4,285.1 304.6,315.3" fill="none" stroke="#50d0d0" stroke-width="1.5" stroke-linejoin="round" stroke-opacity="0.95"/>
<circle cx="38.45" cy="264.9" r="2.3" fill="#50d0d0"/>
<circle cx="91.6" cy="386.6" r="2.3" fill="#50d0d0"/>
<circle cx="144.9" cy="366.6" r="2.3" fill="#50d0d0"/>
<circle cx="198.3" cy="243.2" r="2.3" fill="#50d0d0"/>
<circle cx="251.4" cy="285.1" r="2.3" fill="#50d0d0"/>
<circle cx="304.6" cy="315.3" r="2.3" fill="#50d0d0"/>
<line x1="25" y1="234.3" x2="25" y2="402" stroke="#808080" stroke-width="1"/>
<line x1="24.5" y1="401.5" x2="318" y2="401.5" stroke="#808080" stroke-width="1"/>
<text x="21.6" y="394.65" font-size="4.71" text-anchor="end" textLength="13.23" lengthAdjust="spacingAndGlyphs" stroke="#2e2e2e" stroke-width="0.07">0.775</text>
<text x="21.6" y="373.45" font-size="4.71" text-anchor="end" textLength="13.23" lengthAdjust="spacingAndGlyphs" stroke="#2e2e2e" stroke-width="0.07">0.800</text>
<text x="21.6" y="352.35" font-size="4.71" text-anchor="end" textLength="13.23" lengthAdjust="spacingAndGlyphs" stroke="#2e2e2e" stroke-width="0.07">0.825</text>
<text x="21.6" y="331.15" font-size="4.71" text-anchor="end" textLength="13.23" lengthAdjust="spacingAndGlyphs" stroke="#2e2e2e" stroke-width="0.07">0.850</text>
<text x="21.6" y="310" font-size="4.71" text-anchor="end" textLength="13.23" lengthAdjust="spacingAndGlyphs" stroke="#2e2e2e" stroke-width="0.07">0.875</text>
<text x="21.6" y="288.85" font-size="4.71" text-anchor="end" textLength="13.23" lengthAdjust="spacingAndGlyphs" stroke="#2e2e2e" stroke-width="0.07">0.900</text>
<text x="21.6" y="267.7" font-size="4.71" text-anchor="end" textLength="13.23" lengthAdjust="spacingAndGlyphs" stroke="#2e2e2e" stroke-width="0.07">0.925</text>
<text x="21.6" y="246.55" font-size="4.71" text-anchor="end" textLength="13.23" lengthAdjust="spacingAndGlyphs" stroke="#2e2e2e" stroke-width="0.07">0.950</text>
<text x="38.45" y="408.8" font-size="4.71" text-anchor="middle" textLength="9.17" lengthAdjust="spacingAndGlyphs" stroke="#2e2e2e" stroke-width="0.07">BPR</text>
<text x="91.6" y="408.8" font-size="4.71" text-anchor="middle" textLength="21.05" lengthAdjust="spacingAndGlyphs" stroke="#2e2e2e" stroke-width="0.07">ConvNCF</text>
<text x="144.9" y="408.8" font-size="4.71" text-anchor="middle" textLength="10.2" lengthAdjust="spacingAndGlyphs" stroke="#2e2e2e" stroke-width="0.07">DMF</text>
<text x="198.3" y="408.8" font-size="4.71" text-anchor="middle" textLength="8.96" lengthAdjust="spacingAndGlyphs" stroke="#2e2e2e" stroke-width="0.07">afm</text>
<text x="251.4" y="408.8" font-size="4.71" text-anchor="middle" textLength="6.13" lengthAdjust="spacingAndGlyphs" stroke="#2e2e2e" stroke-width="0.07">fm</text>
<text x="304.6" y="408.8" font-size="4.71" text-anchor="middle" textLength="9.06" lengthAdjust="spacingAndGlyphs" stroke="#2e2e2e" stroke-width="0.07">nfm</text>
<text x="25" y="231.6" font-size="6.87" font-weight="bold" fill="#222222" textLength="184.63" lengthAdjust="spacingAndGlyphs" stroke="#222222" stroke-width="0.05">(c) Interaction Effect Between KGE and RS (AUC)</text>
<text transform="translate(4.8 318) rotate(-90)" x="0" y="0" font-size="5.93" text-anchor="middle" textLength="37.99" lengthAdjust="spacingAndGlyphs" stroke="#2e2e2e" stroke-width="0.14">Average AUC</text>
<text x="171.5" y="416.3" font-size="5.93" text-anchor="middle" textLength="96.14" lengthAdjust="spacingAndGlyphs" stroke="#2e2e2e" stroke-width="0.14">Recommender System Algorithm</text>
<rect x="284.2" y="235.7" width="32.1" height="47" fill="#ffffff" fill-opacity="0.8" stroke="#d8d8d8" stroke-width="0.5" rx="0.8"/>
<text x="300.25" y="241" font-size="4.84" text-anchor="middle" textLength="29.12" lengthAdjust="spacingAndGlyphs" stroke="#2e2e2e" stroke-width="0.07">KGE Method</text>
<line x1="287.4" y1="244.9" x2="295.3" y2="244.9" stroke="#3a7fc0" stroke-width="1.3"/>
<circle cx="291.4" cy="244.9" r="1.95" fill="#3a7fc0"/>
<text x="297.4" y="246.1" font-size="3.42" textLength="11.83" lengthAdjust="spacingAndGlyphs">AutoSF</text>
<line x1="287.4" y1="250" x2="295.3" y2="250" stroke="#f0802a" stroke-width="1.3"/>
<circle cx="291.4" cy="250" r="1.95" fill="#f0802a"/>
<text x="297.4" y="251.2" font-size="3.42" textLength="14.81" lengthAdjust="spacingAndGlyphs">ComplEx</text>
<line x1="287.4" y1="254.9" x2="295.3" y2="254.9" stroke="#3cac3c" stroke-width="1.3"/>
<circle cx="291.4" cy="254.9" r="1.95" fill="#3cac3c"/>
<text x="297.4" y="256.1" font-size="3.42" textLength="13.83" lengthAdjust="spacingAndGlyphs">DistMult</text>
<line x1="287.4" y1="259.8" x2="295.3" y2="259.8" stroke="#d63030" stroke-width="1.3"/>
<circle cx="291.4" cy="259.8" r="1.95" fill="#d63030"/>
<text x="297.4" y="261" font-size="3.42" textLength="12.43" lengthAdjust="spacingAndGlyphs">InterHT</text>
<line x1="287.4" y1="264.6" x2="295.3" y2="264.6" stroke="#9060c8" stroke-width="1.3"/>
<circle cx="291.4" cy="264.6" r="1.95" fill="#9060c8"/>
<text x="297.4" y="265.8" font-size="3.42" textLength="10.68" lengthAdjust="spacingAndGlyphs">PairRE</text>
<line x1="287.4" y1="269.6" x2="295.3" y2="269.6" stroke="#8a5048" stroke-width="1.3"/>
<circle cx="291.4" cy="269.6" r="1.95" fill="#8a5048"/>
<text x="297.4" y="270.8" font-size="3.42" textLength="10.97" lengthAdjust="spacingAndGlyphs">TransE</text>
<line x1="287.4" y1="274.5" x2="295.3" y2="274.5" stroke="#7a7a7a" stroke-width="1.3"/>
<circle cx="291.4" cy="274.5" r="1.95" fill="#7a7a7a"/>
<text x="297.4" y="275.7" font-size="3.42" textLength="13.42" lengthAdjust="spacingAndGlyphs">TripleRE</text>
<line x1="287.4" y1="279.4" x2="295.3" y2="279.4" stroke="#50d0d0" stroke-width="1.3"/>
<circle cx="291.4" cy="279.4" r="1.95" fill="#50d0d0"/>
<text x="297.4" y="280.6" font-size="3.42" textLength="13.15" lengthAdjust="spacingAndGlyphs">pRotatE</text>
<line x1="404.55" y1="234.3" x2="404.55" y2="401.5" stroke="#e8e8e8" stroke-width="0.5" stroke-dasharray="0.8 1.2"/>
<line x1="457.7" y1="234.3" x2="457.7" y2="401.5" stroke="#e8e8e8" stroke-width="0.5" stroke-dasharray="0.8 1.2"/>
<line x1="511" y1="234.3" x2="511" y2="401.5" stroke="#e8e8e8" stroke-width="0.5" stroke-dasharray="0.8 1.2"/>
<line x1="564.4" y1="234.3" x2="564.4" y2="401.5" stroke="#e8e8e8" stroke-width="0.5" stroke-dasharray="0.8 1.2"/>
<line x1="617.5" y1="234.3" x2="617.5" y2="401.5" stroke="#e8e8e8" stroke-width="0.5" stroke-dasharray="0.8 1.2"/>
<line x1="670.7" y1="234.3" x2="670.7" y2="401.5" stroke="#e8e8e8" stroke-width="0.5" stroke-dasharray="0.8 1.2"/>
<line x1="391.5" y1="395.1" x2="684.5" y2="395.1" stroke="#e8e8e8" stroke-width="0.5" stroke-dasharray="1.2 1.2"/>
<line x1="391.5" y1="376.3" x2="684.5" y2="376.3" stroke="#e8e8e8" stroke-width="0.5" stroke-dasharray="1.2 1.2"/>
<line x1="391.5" y1="357.6" x2="684.5" y2="357.6" stroke="#e8e8e8" stroke-width="0.5" stroke-dasharray="1.2 1.2"/>
<line x1="391.5" y1="338.8" x2="684.5" y2="338.8" stroke="#e8e8e8" stroke-width="0.5" stroke-dasharray="1.2 1.2"/>
<line x1="391.5" y1="320" x2="684.5" y2="320" stroke="#e8e8e8" stroke-width="0.5" stroke-dasharray="1.2 1.2"/>
<line x1="391.5" y1="301.3" x2="684.5" y2="301.3" stroke="#e8e8e8" stroke-width="0.5" stroke-dasharray="1.2 1.2"/>
<line x1="391.5" y1="282.5" x2="684.5" y2="282.5" stroke="#e8e8e8" stroke-width="0.5" stroke-dasharray="1.2 1.2"/>
<line x1="391.5" y1="263.8" x2="684.5" y2="263.8" stroke="#e8e8e8" stroke-width="0.5" stroke-dasharray="1.2 1.2"/>
<line x1="391.5" y1="245" x2="684.5" y2="245" stroke="#e8e8e8" stroke-width="0.5" stroke-dasharray="1.2 1.2"/>
<polyline points="404.55,257.6 457.7,382.6 511,331 564.4,245 617.5,322.8 670.7,319.5" fill="none" stroke="#3a7fc0" stroke-width="1.5" stroke-linejoin="round" stroke-opacity="0.95"/>
<circle cx="404.55" cy="257.6" r="2.3" fill="#3a7fc0"/>
<circle cx="457.7" cy="382.6" r="2.3" fill="#3a7fc0"/>
<circle cx="511" cy="331" r="2.3" fill="#3a7fc0"/>
<circle cx="564.4" cy="245" r="2.3" fill="#3a7fc0"/>
<circle cx="617.5" cy="322.8" r="2.3" fill="#3a7fc0"/>
<circle cx="670.7" cy="319.5" r="2.3" fill="#3a7fc0"/>
<polyline points="404.55,258.8 457.7,385 511,331 564.4,246 617.5,320.7 670.7,320.3" fill="none" stroke="#f0802a" stroke-width="1.5" stroke-linejoin="round" stroke-opacity="0.95"/>
<circle cx="404.55" cy="258.8" r="2.3" fill="#f0802a"/>
<circle cx="457.7" cy="385" r="2.3" fill="#f0802a"/>
<circle cx="511" cy="331" r="2.3" fill="#f0802a"/>
<circle cx="564.4" cy="246" r="2.3" fill="#f0802a"/>
<circle cx="617.5" cy="320.7" r="2.3" fill="#f0802a"/>
<circle cx="670.7" cy="320.3" r="2.3" fill="#f0802a"/>
<polyline points="404.55,259.4 457.7,386 511,331.5 564.4,248 617.5,327.4 670.7,321.9" fill="none" stroke="#3cac3c" stroke-width="1.5" stroke-linejoin="round" stroke-opacity="0.95"/>
<circle cx="404.55" cy="259.4" r="2.3" fill="#3cac3c"/>
<circle cx="457.7" cy="386" r="2.3" fill="#3cac3c"/>
<circle cx="511" cy="331.5" r="2.3" fill="#3cac3c"/>
<circle cx="564.4" cy="248" r="2.3" fill="#3cac3c"/>
<circle cx="617.5" cy="327.4" r="2.3" fill="#3cac3c"/>
<circle cx="670.7" cy="321.9" r="2.3" fill="#3cac3c"/>
<polyline points="404.55,258.6 457.7,390.8 511,332.2 564.4,246.5 617.5,338.3 670.7,320.3" fill="none" stroke="#d63030" stroke-width="1.5" stroke-linejoin="round" stroke-opacity="0.95"/>
<circle cx="404.55" cy="258.6" r="2.3" fill="#d63030"/>
<circle cx="457.7" cy="390.8" r="2.3" fill="#d63030"/>
<circle cx="511" cy="332.2" r="2.3" fill="#d63030"/>
<circle cx="564.4" cy="246.5" r="2.3" fill="#d63030"/>
<circle cx="617.5" cy="338.3" r="2.3" fill="#d63030"/>
<circle cx="670.7" cy="320.3" r="2.3" fill="#d63030"/>
<polyline points="404.55,259 457.7,388.7 511,331 564.4,245.5 617.5,295.5 670.7,316.4" fill="none" stroke="#9060c8" stroke-width="1.5" stroke-linejoin="round" stroke-opacity="0.95"/>
<circle cx="404.55" cy="259" r="2.3" fill="#9060c8"/>
<circle cx="457.7" cy="388.7" r="2.3" fill="#9060c8"/>
<circle cx="511" cy="331" r="2.3" fill="#9060c8"/>
<circle cx="564.4" cy="245.5" r="2.3" fill="#9060c8"/>
<circle cx="617.5" cy="295.5" r="2.3" fill="#9060c8"/>
<circle cx="670.7" cy="316.4" r="2.3" fill="#9060c8"/>
<polyline points="404.55,259.2 457.7,393.7 511,330.5 564.4,247 617.5,324.9 670.7,307" fill="none" stroke="#8a5048" stroke-width="1.5" stroke-linejoin="round" stroke-opacity="0.95"/>
<circle cx="404.55" cy="259.2" r="2.3" fill="#8a5048"/>
<circle cx="457.7" cy="393.7" r="2.3" fill="#8a5048"/>
<circle cx="511" cy="330.5" r="2.3" fill="#8a5048"/>
<circle cx="564.4" cy="247" r="2.3" fill="#8a5048"/>
<circle cx="617.5" cy="324.9" r="2.3" fill="#8a5048"/>
<circle cx="670.7" cy="307" r="2.3" fill="#8a5048"/>
<polyline points="404.55,258.9 457.7,387 511,329.6 564.4,246.5 617.5,336.1 670.7,320.7" fill="none" stroke="#7a7a7a" stroke-width="1.5" stroke-linejoin="round" stroke-opacity="0.95"/>
<circle cx="404.55" cy="258.9" r="2.3" fill="#7a7a7a"/>
<circle cx="457.7" cy="387" r="2.3" fill="#7a7a7a"/>
<circle cx="511" cy="329.6" r="2.3" fill="#7a7a7a"/>
<circle cx="564.4" cy="246.5" r="2.3" fill="#7a7a7a"/>
<circle cx="617.5" cy="336.1" r="2.3" fill="#7a7a7a"/>
<circle cx="670.7" cy="320.7" r="2.3" fill="#7a7a7a"/>
<polyline points="404.55,259.3 457.7,385.8 511,334.9 564.4,241.9 617.5,302.1 670.7,336.8" fill="none" stroke="#50d0d0" stroke-width="1.5" stroke-linejoin="round" stroke-opacity="0.95"/>
<circle cx="404.55" cy="259.3" r="2.3" fill="#50d0d0"/>
<circle cx="457.7" cy="385.8" r="2.3" fill="#50d0d0"/>
<circle cx="511" cy="334.9" r="2.3" fill="#50d0d0"/>
<circle cx="564.4" cy="241.9" r="2.3" fill="#50d0d0"/>
<circle cx="617.5" cy="302.1" r="2.3" fill="#50d0d0"/>
<circle cx="670.7" cy="336.8" r="2.3" fill="#50d0d0"/>
<line x1="391.5" y1="234.3" x2="391.5" y2="402" stroke="#808080" stroke-width="1"/>
<line x1="391" y1="401.5" x2="684.5" y2="401.5" stroke="#808080" stroke-width="1"/>
<text x="387.4" y="397.05" font-size="4.71" text-anchor="end" textLength="10.29" lengthAdjust="spacingAndGlyphs" stroke="#2e2e2e" stroke-width="0.07">0.80</text>
<text x="387.4" y="378.25" font-size="4.71" text-anchor="end" textLength="10.29" lengthAdjust="spacingAndGlyphs" stroke="#2e2e2e" stroke-width="0.07">0.82</text>
<text x="387.4" y="359.55" font-size="4.71" text-anchor="end" textLength="10.29" lengthAdjust="spacingAndGlyphs" stroke="#2e2e2e" stroke-width="0.07">0.84</text>
<text x="387.4" y="340.75" font-size="4.71" text-anchor="end" textLength="10.29" lengthAdjust="spacingAndGlyphs" stroke="#2e2e2e" stroke-width="0.07">0.86</text>
<text x="387.4" y="321.95" font-size="4.71" text-anchor="end" textLength="10.29" lengthAdjust="spacingAndGlyphs" stroke="#2e2e2e" stroke-width="0.07">0.88</text>
<text x="387.4" y="303.25" font-size="4.71" text-anchor="end" textLength="10.29" lengthAdjust="spacingAndGlyphs" stroke="#2e2e2e" stroke-width="0.07">0.90</text>
<text x="387.4" y="284.45" font-size="4.71" text-anchor="end" textLength="10.29" lengthAdjust="spacingAndGlyphs" stroke="#2e2e2e" stroke-width="0.07">0.92</text>
<text x="387.4" y="265.75" font-size="4.71" text-anchor="end" textLength="10.29" lengthAdjust="spacingAndGlyphs" stroke="#2e2e2e" stroke-width="0.07">0.94</text>
<text x="387.4" y="246.95" font-size="4.71" text-anchor="end" textLength="10.29" lengthAdjust="spacingAndGlyphs" stroke="#2e2e2e" stroke-width="0.07">0.96</text>
<text x="404.55" y="408.8" font-size="4.71" text-anchor="middle" textLength="9.17" lengthAdjust="spacingAndGlyphs" stroke="#2e2e2e" stroke-width="0.07">BPR</text>
<text x="457.7" y="408.8" font-size="4.71" text-anchor="middle" textLength="21.05" lengthAdjust="spacingAndGlyphs" stroke="#2e2e2e" stroke-width="0.07">ConvNCF</text>
<text x="511" y="408.8" font-size="4.71" text-anchor="middle" textLength="10.2" lengthAdjust="spacingAndGlyphs" stroke="#2e2e2e" stroke-width="0.07">DMF</text>
<text x="564.4" y="408.8" font-size="4.71" text-anchor="middle" textLength="8.96" lengthAdjust="spacingAndGlyphs" stroke="#2e2e2e" stroke-width="0.07">afm</text>
<text x="617.5" y="408.8" font-size="4.71" text-anchor="middle" textLength="6.13" lengthAdjust="spacingAndGlyphs" stroke="#2e2e2e" stroke-width="0.07">fm</text>
<text x="670.7" y="408.8" font-size="4.71" text-anchor="middle" textLength="9.06" lengthAdjust="spacingAndGlyphs" stroke="#2e2e2e" stroke-width="0.07">nfm</text>
<text x="391.5" y="231.6" font-size="6.87" font-weight="bold" fill="#222222" textLength="190.64" lengthAdjust="spacingAndGlyphs" stroke="#222222" stroke-width="0.05">(d) Interaction Effect Between KGE and RS (AUPR)</text>
<text transform="translate(373.7 317.8) rotate(-90)" x="0" y="0" font-size="5.93" text-anchor="middle" textLength="41.47" lengthAdjust="spacingAndGlyphs" stroke="#2e2e2e" stroke-width="0.14">Average AUPR</text>
<text x="537.6" y="416.3" font-size="5.93" text-anchor="middle" textLength="96.14" lengthAdjust="spacingAndGlyphs" stroke="#2e2e2e" stroke-width="0.14">Recommender System Algorithm</text>
<rect x="650.4" y="235.7" width="32.2" height="46.7" fill="#ffffff" fill-opacity="0.8" stroke="#d8d8d8" stroke-width="0.5" rx="0.8"/>
<text x="666.5" y="241" font-size="4.84" text-anchor="middle" textLength="29.12" lengthAdjust="spacingAndGlyphs" stroke="#2e2e2e" stroke-width="0.07">KGE Method</text>
<line x1="653.6" y1="244.8" x2="661.5" y2="244.8" stroke="#3a7fc0" stroke-width="1.3"/>
<circle cx="657.6" cy="244.8" r="1.95" fill="#3a7fc0"/>
<text x="663.6" y="246" font-size="3.42" textLength="11.83" lengthAdjust="spacingAndGlyphs">AutoSF</text>
<line x1="653.6" y1="249.9" x2="661.5" y2="249.9" stroke="#f0802a" stroke-width="1.3"/>
<circle cx="657.6" cy="249.9" r="1.95" fill="#f0802a"/>
<text x="663.6" y="251.1" font-size="3.42" textLength="14.81" lengthAdjust="spacingAndGlyphs">ComplEx</text>
<line x1="653.6" y1="255" x2="661.5" y2="255" stroke="#3cac3c" stroke-width="1.3"/>
<circle cx="657.6" cy="255" r="1.95" fill="#3cac3c"/>
<text x="663.6" y="256.2" font-size="3.42" textLength="13.83" lengthAdjust="spacingAndGlyphs">DistMult</text>
<line x1="653.6" y1="259.7" x2="661.5" y2="259.7" stroke="#d63030" stroke-width="1.3"/>
<circle cx="657.6" cy="259.7" r="1.95" fill="#d63030"/>
<text x="663.6" y="260.9" font-size="3.42" textLength="12.43" lengthAdjust="spacingAndGlyphs">InterHT</text>
<line x1="653.6" y1="264.7" x2="661.5" y2="264.7" stroke="#9060c8" stroke-width="1.3"/>
<circle cx="657.6" cy="264.7" r="1.95" fill="#9060c8"/>
<text x="663.6" y="265.9" font-size="3.42" textLength="10.68" lengthAdjust="spacingAndGlyphs">PairRE</text>
<line x1="653.6" y1="269.8" x2="661.5" y2="269.8" stroke="#8a5048" stroke-width="1.3"/>
<circle cx="657.6" cy="269.8" r="1.95" fill="#8a5048"/>
<text x="663.6" y="271" font-size="3.42" textLength="10.97" lengthAdjust="spacingAndGlyphs">TransE</text>
<line x1="653.6" y1="274.6" x2="661.5" y2="274.6" stroke="#7a7a7a" stroke-width="1.3"/>
<circle cx="657.6" cy="274.6" r="1.95" fill="#7a7a7a"/>
<text x="663.6" y="275.8" font-size="3.42" textLength="13.42" lengthAdjust="spacingAndGlyphs">TripleRE</text>
<line x1="653.6" y1="279.5" x2="661.5" y2="279.5" stroke="#50d0d0" stroke-width="1.3"/>
<circle cx="657.6" cy="279.5" r="1.95" fill="#50d0d0"/>
<text x="663.6" y="280.7" font-size="3.42" textLength="13.15" lengthAdjust="spacingAndGlyphs">pRotatE</text>
<line x1="38.3" y1="460.2" x2="38.3" y2="627.5" stroke="#e8e8e8" stroke-width="0.5" stroke-dasharray="0.8 1.2"/>
<line x1="76.35" y1="460.2" x2="76.35" y2="627.5" stroke="#e8e8e8" stroke-width="0.5" stroke-dasharray="0.8 1.2"/>
<line x1="114.4" y1="460.2" x2="114.4" y2="627.5" stroke="#e8e8e8" stroke-width="0.5" stroke-dasharray="0.8 1.2"/>
<line x1="152.45" y1="460.2" x2="152.45" y2="627.5" stroke="#e8e8e8" stroke-width="0.5" stroke-dasharray="0.8 1.2"/>
<line x1="190.5" y1="460.2" x2="190.5" y2="627.5" stroke="#e8e8e8" stroke-width="0.5" stroke-dasharray="0.8 1.2"/>
<line x1="228.55" y1="460.2" x2="228.55" y2="627.5" stroke="#e8e8e8" stroke-width="0.5" stroke-dasharray="0.8 1.2"/>
<line x1="266.6" y1="460.2" x2="266.6" y2="627.5" stroke="#e8e8e8" stroke-width="0.5" stroke-dasharray="0.8 1.2"/>
<line x1="304.65" y1="460.2" x2="304.65" y2="627.5" stroke="#e8e8e8" stroke-width="0.5" stroke-dasharray="0.8 1.2"/>
<line x1="25" y1="619.4" x2="317.6" y2="619.4" stroke="#e8e8e8" stroke-width="0.5" stroke-dasharray="1.2 1.2"/>
<line x1="25" y1="598.1" x2="317.6" y2="598.1" stroke="#e8e8e8" stroke-width="0.5" stroke-dasharray="1.2 1.2"/>
<line x1="25" y1="576.9" x2="317.6" y2="576.9" stroke="#e8e8e8" stroke-width="0.5" stroke-dasharray="1.2 1.2"/>
<line x1="25" y1="555.6" x2="317.6" y2="555.6" stroke="#e8e8e8" stroke-width="0.5" stroke-dasharray="1.2 1.2"/>
<line x1="25" y1="534.3" x2="317.6" y2="534.3" stroke="#e8e8e8" stroke-width="0.5" stroke-dasharray="1.2 1.2"/>
<line x1="25" y1="513" x2="317.6" y2="513" stroke="#e8e8e8" stroke-width="0.5" stroke-dasharray="1.2 1.2"/>
<line x1="25" y1="491.8" x2="317.6" y2="491.8" stroke="#e8e8e8" stroke-width="0.5" stroke-dasharray="1.2 1.2"/>
<line x1="25" y1="470.5" x2="317.6" y2="470.5" stroke="#e8e8e8" stroke-width="0.5" stroke-dasharray="1.2 1.2"/>
<polyline points="38.3,489.2 76.35,491.1 114.4,491.5 152.45,490 190.5,491.3 228.55,490.5 266.6,490.5 304.65,491" fill="none" stroke="#3a7fc0" stroke-width="1.5" stroke-linejoin="round" stroke-opacity="0.95"/>
<circle cx="38.3" cy="489.2" r="2.3" fill="#3a7fc0"/>
<circle cx="76.35" cy="491.1" r="2.3" fill="#3a7fc0"/>
<circle cx="114.4" cy="491.5" r="2.3" fill="#3a7fc0"/>
<circle cx="152.45" cy="490" r="2.3" fill="#3a7fc0"/>
<circle cx="190.5" cy="491.3" r="2.3" fill="#3a7fc0"/>
<circle cx="228.55" cy="490.5" r="2.3" fill="#3a7fc0"/>
<circle cx="266.6" cy="490.5" r="2.3" fill="#3a7fc0"/>
<circle cx="304.65" cy="491" r="2.3" fill="#3a7fc0"/>
<polyline points="38.3,614.2 76.35,614 114.4,616.1 152.45,618 190.5,616.7 228.55,619.7 266.6,613.7 304.65,612.7" fill="none" stroke="#f0802a" stroke-width="1.5" stroke-linejoin="round" stroke-opacity="0.95"/>
<circle cx="38.3" cy="614.2" r="2.3" fill="#f0802a"/>
<circle cx="76.35" cy="614" r="2.3" fill="#f0802a"/>
<circle cx="114.4" cy="616.1" r="2.3" fill="#f0802a"/>
<circle cx="152.45" cy="618" r="2.3" fill="#f0802a"/>
<circle cx="190.5" cy="616.7" r="2.3" fill="#f0802a"/>
<circle cx="228.55" cy="619.7" r="2.3" fill="#f0802a"/>
<circle cx="266.6" cy="613.7" r="2.3" fill="#f0802a"/>
<circle cx="304.65" cy="612.7" r="2.3" fill="#f0802a"/>
<polyline points="38.3,587.1 76.35,584.1 114.4,584.3 152.45,585.6 190.5,587.1 228.55,582 266.6,588.3 304.65,592.8" fill="none" stroke="#3cac3c" stroke-width="1.5" stroke-linejoin="round" stroke-opacity="0.95"/>
<circle cx="38.3" cy="587.1" r="2.3" fill="#3cac3c"/>
<circle cx="76.35" cy="584.1" r="2.3" fill="#3cac3c"/>
<circle cx="114.4" cy="584.3" r="2.3" fill="#3cac3c"/>
<circle cx="152.45" cy="585.6" r="2.3" fill="#3cac3c"/>
<circle cx="190.5" cy="587.1" r="2.3" fill="#3cac3c"/>
<circle cx="228.55" cy="582" r="2.3" fill="#3cac3c"/>
<circle cx="266.6" cy="588.3" r="2.3" fill="#3cac3c"/>
<circle cx="304.65" cy="592.8" r="2.3" fill="#3cac3c"/>
<polyline points="38.3,467.8 76.35,473.1 114.4,472.5 152.45,470.1 190.5,470.2 228.55,471.9 266.6,470.2 304.65,469.4" fill="none" stroke="#d63030" stroke-width="1.5" stroke-linejoin="round" stroke-opacity="0.95"/>
<circle cx="38.3" cy="467.8" r="2.3" fill="#d63030"/>
<circle cx="76.35" cy="473.1" r="2.3" fill="#d63030"/>
<circle cx="114.4" cy="472.5" r="2.3" fill="#d63030"/>
<circle cx="152.45" cy="470.1" r="2.3" fill="#d63030"/>
<circle cx="190.5" cy="470.2" r="2.3" fill="#d63030"/>
<circle cx="228.55" cy="471.9" r="2.3" fill="#d63030"/>
<circle cx="266.6" cy="470.2" r="2.3" fill="#d63030"/>
<circle cx="304.65" cy="469.4" r="2.3" fill="#d63030"/>
<polyline points="38.3,536.2 76.35,535.8 114.4,542.2 152.45,558.3 190.5,506.6 228.55,542.9 266.6,556.8 304.65,510.9" fill="none" stroke="#9060c8" stroke-width="1.5" stroke-linejoin="round" stroke-opacity="0.95"/>
<circle cx="38.3" cy="536.2" r="2.3" fill="#9060c8"/>
<circle cx="76.35" cy="535.8" r="2.3" fill="#9060c8"/>
<circle cx="114.4" cy="542.2" r="2.3" fill="#9060c8"/>
<circle cx="152.45" cy="558.3" r="2.3" fill="#9060c8"/>
<circle cx="190.5" cy="506.6" r="2.3" fill="#9060c8"/>
<circle cx="228.55" cy="542.9" r="2.3" fill="#9060c8"/>
<circle cx="266.6" cy="556.8" r="2.3" fill="#9060c8"/>
<circle cx="304.65" cy="510.9" r="2.3" fill="#9060c8"/>
<polyline points="38.3,524 76.35,527 114.4,526 152.45,528.9 190.5,524 228.55,518.8 266.6,530 304.65,540.5" fill="none" stroke="#8a5048" stroke-width="1.5" stroke-linejoin="round" stroke-opacity="0.95"/>
<circle cx="38.3" cy="524" r="2.3" fill="#8a5048"/>
<circle cx="76.35" cy="527" r="2.3" fill="#8a5048"/>
<circle cx="114.4" cy="526" r="2.3" fill="#8a5048"/>
<circle cx="152.45" cy="528.9" r="2.3" fill="#8a5048"/>
<circle cx="190.5" cy="524" r="2.3" fill="#8a5048"/>
<circle cx="228.55" cy="518.8" r="2.3" fill="#8a5048"/>
<circle cx="266.6" cy="530" r="2.3" fill="#8a5048"/>
<circle cx="304.65" cy="540.5" r="2.3" fill="#8a5048"/>
<line x1="25" y1="460.2" x2="25" y2="628" stroke="#808080" stroke-width="1"/>
<line x1="24.5" y1="627.5" x2="317.6" y2="627.5" stroke="#808080" stroke-width="1"/>
<text x="21.6" y="621.35" font-size="4.71" text-anchor="end" textLength="13.23" lengthAdjust="spacingAndGlyphs" stroke="#2e2e2e" stroke-width="0.07">0.775</text>
<text x="21.6" y="600.05" font-size="4.71" text-anchor="end" textLength="13.23" lengthAdjust="spacingAndGlyphs" stroke="#2e2e2e" stroke-width="0.07">0.800</text>
<text x="21.6" y="578.85" font-size="4.71" text-anchor="end" textLength="13.23" lengthAdjust="spacingAndGlyphs" stroke="#2e2e2e" stroke-width="0.07">0.825</text>
<text x="21.6" y="557.55" font-size="4.71" text-anchor="end" textLength="13.23" lengthAdjust="spacingAndGlyphs" stroke="#2e2e2e" stroke-width="0.07">0.850</text>
<text x="21.6" y="536.25" font-size="4.71" text-anchor="end" textLength="13.23" lengthAdjust="spacingAndGlyphs" stroke="#2e2e2e" stroke-width="0.07">0.875</text>
<text x="21.6" y="514.95" font-size="4.71" text-anchor="end" textLength="13.23" lengthAdjust="spacingAndGlyphs" stroke="#2e2e2e" stroke-width="0.07">0.900</text>
<text x="21.6" y="493.75" font-size="4.71" text-anchor="end" textLength="13.23" lengthAdjust="spacingAndGlyphs" stroke="#2e2e2e" stroke-width="0.07">0.925</text>
<text x="21.6" y="472.45" font-size="4.71" text-anchor="end" textLength="13.23" lengthAdjust="spacingAndGlyphs" stroke="#2e2e2e" stroke-width="0.07">0.950</text>
<text x="38.3" y="634.2" font-size="4.71" text-anchor="middle" textLength="16.32" lengthAdjust="spacingAndGlyphs" stroke="#2e2e2e" stroke-width="0.07">AutoSF</text>
<text x="76.35" y="634.2" font-size="4.71" text-anchor="middle" textLength="20.42" lengthAdjust="spacingAndGlyphs" stroke="#2e2e2e" stroke-width="0.07">ComplEx</text>
<text x="114.4" y="634.2" font-size="4.71" text-anchor="middle" textLength="19.07" lengthAdjust="spacingAndGlyphs" stroke="#2e2e2e" stroke-width="0.07">DistMult</text>
<text x="152.45" y="634.2" font-size="4.71" text-anchor="middle" textLength="17.14" lengthAdjust="spacingAndGlyphs" stroke="#2e2e2e" stroke-width="0.07">InterHT</text>
<text x="190.5" y="634.2" font-size="4.71" text-anchor="middle" textLength="14.72" lengthAdjust="spacingAndGlyphs" stroke="#2e2e2e" stroke-width="0.07">PairRE</text>
<text x="228.55" y="634.2" font-size="4.71" text-anchor="middle" textLength="15.13" lengthAdjust="spacingAndGlyphs" stroke="#2e2e2e" stroke-width="0.07">TransE</text>
<text x="266.6" y="634.2" font-size="4.71" text-anchor="middle" textLength="18.51" lengthAdjust="spacingAndGlyphs" stroke="#2e2e2e" stroke-width="0.07">TripleRE</text>
<text x="304.65" y="634.2" font-size="4.71" text-anchor="middle" textLength="18.14" lengthAdjust="spacingAndGlyphs" stroke="#2e2e2e" stroke-width="0.07">pRotatE</text>
<text x="25" y="457.6" font-size="6.87" font-weight="bold" fill="#222222" textLength="185.2" lengthAdjust="spacingAndGlyphs" stroke="#222222" stroke-width="0.05">(e) Interaction Effect Between RS and KGE (AUC)</text>
<text transform="translate(4.8 543.9) rotate(-90)" x="0" y="0" font-size="5.93" text-anchor="middle" textLength="37.99" lengthAdjust="spacingAndGlyphs" stroke="#2e2e2e" stroke-width="0.14">Average AUC</text>
<text x="171.5" y="641.5" font-size="5.93" text-anchor="middle" textLength="110.05" lengthAdjust="spacingAndGlyphs" stroke="#2e2e2e" stroke-width="0.14">Knowledge Graph Embedding Method</text>
<rect x="287.3" y="525.3" width="29.4" height="36.6" fill="#ffffff" fill-opacity="0.8" stroke="#d8d8d8" stroke-width="0.5" rx="0.8"/>
<text x="302" y="530.6" font-size="4.84" text-anchor="middle" textLength="25.64" lengthAdjust="spacingAndGlyphs" stroke="#2e2e2e" stroke-width="0.07">RS Method</text>
<line x1="289.1" y1="534.3" x2="297" y2="534.3" stroke="#3a7fc0" stroke-width="1.3"/>
<circle cx="292.9" cy="534.3" r="1.95" fill="#3a7fc0"/>
<text x="298.9" y="535.5" font-size="3.42" textLength="6.65" lengthAdjust="spacingAndGlyphs">BPR</text>
<line x1="289.1" y1="539.3" x2="297" y2="539.3" stroke="#f0802a" stroke-width="1.3"/>
<circle cx="292.9" cy="539.3" r="1.95" fill="#f0802a"/>
<text x="298.9" y="540.5" font-size="3.42" textLength="15.27" lengthAdjust="spacingAndGlyphs">ConvNCF</text>
<line x1="289.1" y1="544.3" x2="297" y2="544.3" stroke="#3cac3c" stroke-width="1.3"/>
<circle cx="292.9" cy="544.3" r="1.95" fill="#3cac3c"/>
<text x="298.9" y="545.5" font-size="3.42" textLength="7.4" lengthAdjust="spacingAndGlyphs">DMF</text>
<line x1="289.1" y1="549.2" x2="297" y2="549.2" stroke="#d63030" stroke-width="1.3"/>
<circle cx="292.9" cy="549.2" r="1.95" fill="#d63030"/>
<text x="298.9" y="550.4" font-size="3.42" textLength="6.5" lengthAdjust="spacingAndGlyphs">afm</text>
<line x1="289.1" y1="554.1" x2="297" y2="554.1" stroke="#9060c8" stroke-width="1.3"/>
<circle cx="292.9" cy="554.1" r="1.95" fill="#9060c8"/>
<text x="298.9" y="555.3" font-size="3.42" textLength="4.44" lengthAdjust="spacingAndGlyphs">fm</text>
<line x1="289.1" y1="559" x2="297" y2="559" stroke="#8a5048" stroke-width="1.3"/>
<circle cx="292.9" cy="559" r="1.95" fill="#8a5048"/>
<text x="298.9" y="560.2" font-size="3.42" textLength="6.57" lengthAdjust="spacingAndGlyphs">nfm</text>
<line x1="404.5" y1="460.2" x2="404.5" y2="627.5" stroke="#e8e8e8" stroke-width="0.5" stroke-dasharray="0.8 1.2"/>
<line x1="442.57" y1="460.2" x2="442.57" y2="627.5" stroke="#e8e8e8" stroke-width="0.5" stroke-dasharray="0.8 1.2"/>
<line x1="480.64" y1="460.2" x2="480.64" y2="627.5" stroke="#e8e8e8" stroke-width="0.5" stroke-dasharray="0.8 1.2"/>
<line x1="518.71" y1="460.2" x2="518.71" y2="627.5" stroke="#e8e8e8" stroke-width="0.5" stroke-dasharray="0.8 1.2"/>
<line x1="556.78" y1="460.2" x2="556.78" y2="627.5" stroke="#e8e8e8" stroke-width="0.5" stroke-dasharray="0.8 1.2"/>
<line x1="594.85" y1="460.2" x2="594.85" y2="627.5" stroke="#e8e8e8" stroke-width="0.5" stroke-dasharray="0.8 1.2"/>
<line x1="632.92" y1="460.2" x2="632.92" y2="627.5" stroke="#e8e8e8" stroke-width="0.5" stroke-dasharray="0.8 1.2"/>
<line x1="670.99" y1="460.2" x2="670.99" y2="627.5" stroke="#e8e8e8" stroke-width="0.5" stroke-dasharray="0.8 1.2"/>
<line x1="391.5" y1="621.6" x2="684.5" y2="621.6" stroke="#e8e8e8" stroke-width="0.5" stroke-dasharray="1.2 1.2"/>
<line x1="391.5" y1="602.7" x2="684.5" y2="602.7" stroke="#e8e8e8" stroke-width="0.5" stroke-dasharray="1.2 1.2"/>
<line x1="391.5" y1="583.9" x2="684.5" y2="583.9" stroke="#e8e8e8" stroke-width="0.5" stroke-dasharray="1.2 1.2"/>
<line x1="391.5" y1="565" x2="684.5" y2="565" stroke="#e8e8e8" stroke-width="0.5" stroke-dasharray="1.2 1.2"/>
<line x1="391.5" y1="546.1" x2="684.5" y2="546.1" stroke="#e8e8e8" stroke-width="0.5" stroke-dasharray="1.2 1.2"/>
<line x1="391.5" y1="527.2" x2="684.5" y2="527.2" stroke="#e8e8e8" stroke-width="0.5" stroke-dasharray="1.2 1.2"/>
<line x1="391.5" y1="508.3" x2="684.5" y2="508.3" stroke="#e8e8e8" stroke-width="0.5" stroke-dasharray="1.2 1.2"/>
<line x1="391.5" y1="489.5" x2="684.5" y2="489.5" stroke="#e8e8e8" stroke-width="0.5" stroke-dasharray="1.2 1.2"/>
<line x1="391.5" y1="470.6" x2="684.5" y2="470.6" stroke="#e8e8e8" stroke-width="0.5" stroke-dasharray="1.2 1.2"/>
<polyline points="404.5,484.3 442.57,485.4 480.64,485.9 518.71,485.1 556.78,485.7 594.85,485.2 632.92,485.2 670.99,485.5" fill="none" stroke="#3a7fc0" stroke-width="1.5" stroke-linejoin="round" stroke-opacity="0.95"/>
<circle cx="404.5" cy="484.3" r="2.3" fill="#3a7fc0"/>
<circle cx="442.57" cy="485.4" r="2.3" fill="#3a7fc0"/>
<circle cx="480.64" cy="485.9" r="2.3" fill="#3a7fc0"/>
<circle cx="518.71" cy="485.1" r="2.3" fill="#3a7fc0"/>
<circle cx="556.78" cy="485.7" r="2.3" fill="#3a7fc0"/>
<circle cx="594.85" cy="485.2" r="2.3" fill="#3a7fc0"/>
<circle cx="632.92" cy="485.2" r="2.3" fill="#3a7fc0"/>
<circle cx="670.99" cy="485.5" r="2.3" fill="#3a7fc0"/>
<polyline points="404.5,609.8 442.57,612.4 480.64,611.5 518.71,615.5 556.78,614.5 594.85,619.8 632.92,611.5 670.99,611.9" fill="none" stroke="#f0802a" stroke-width="1.5" stroke-linejoin="round" stroke-opacity="0.95"/>
<circle cx="404.5" cy="609.8" r="2.3" fill="#f0802a"/>
<circle cx="442.57" cy="612.4" r="2.3" fill="#f0802a"/>
<circle cx="480.64" cy="611.5" r="2.3" fill="#f0802a"/>
<circle cx="518.71" cy="615.5" r="2.3" fill="#f0802a"/>
<circle cx="556.78" cy="614.5" r="2.3" fill="#f0802a"/>
<circle cx="594.85" cy="619.8" r="2.3" fill="#f0802a"/>
<circle cx="632.92" cy="611.5" r="2.3" fill="#f0802a"/>
<circle cx="670.99" cy="611.9" r="2.3" fill="#f0802a"/>
<polyline points="404.5,556.9 442.57,557.1 480.64,555.8 518.71,556.9 556.78,555.7 594.85,555.7 632.92,555.3 670.99,559.5" fill="none" stroke="#3cac3c" stroke-width="1.5" stroke-linejoin="round" stroke-opacity="0.95"/>
<circle cx="404.5" cy="556.9" r="2.3" fill="#3cac3c"/>
<circle cx="442.57" cy="557.1" r="2.3" fill="#3cac3c"/>
<circle cx="480.64" cy="555.8" r="2.3" fill="#3cac3c"/>
<circle cx="518.71" cy="556.9" r="2.3" fill="#3cac3c"/>
<circle cx="556.78" cy="555.7" r="2.3" fill="#3cac3c"/>
<circle cx="594.85" cy="555.7" r="2.3" fill="#3cac3c"/>
<circle cx="632.92" cy="555.3" r="2.3" fill="#3cac3c"/>
<circle cx="670.99" cy="559.5" r="2.3" fill="#3cac3c"/>
<polyline points="404.5,467.7 442.57,472.5 480.64,472.7 518.71,470 556.78,468.7 594.85,471.3 632.92,470 670.99,467.6" fill="none" stroke="#d63030" stroke-width="1.5" stroke-linejoin="round" stroke-opacity="0.95"/>
<circle cx="404.5" cy="467.7" r="2.3" fill="#d63030"/>
<circle cx="442.57" cy="472.5" r="2.3" fill="#d63030"/>
<circle cx="480.64" cy="472.7" r="2.3" fill="#d63030"/>
<circle cx="518.71" cy="470" r="2.3" fill="#d63030"/>
<circle cx="556.78" cy="468.7" r="2.3" fill="#d63030"/>
<circle cx="594.85" cy="471.3" r="2.3" fill="#d63030"/>
<circle cx="632.92" cy="470" r="2.3" fill="#d63030"/>
<circle cx="670.99" cy="467.6" r="2.3" fill="#d63030"/>
<polyline points="404.5,549.1 442.57,546.5 480.64,552.9 518.71,564.1 556.78,521.2 594.85,550.8 632.92,562.2 670.99,527.6" fill="none" stroke="#9060c8" stroke-width="1.5" stroke-linejoin="round" stroke-opacity="0.95"/>
<circle cx="404.5" cy="549.1" r="2.3" fill="#9060c8"/>
<circle cx="442.57" cy="546.5" r="2.3" fill="#9060c8"/>
<circle cx="480.64" cy="552.9" r="2.3" fill="#9060c8"/>
<circle cx="518.71" cy="564.1" r="2.3" fill="#9060c8"/>
<circle cx="556.78" cy="521.2" r="2.3" fill="#9060c8"/>
<circle cx="594.85" cy="550.8" r="2.3" fill="#9060c8"/>
<circle cx="632.92" cy="562.2" r="2.3" fill="#9060c8"/>
<circle cx="670.99" cy="527.6" r="2.3" fill="#9060c8"/>
<polyline points="404.5,544.8 442.57,546.5 480.64,546.9 518.71,545.9 556.78,542.4 594.85,532.9 632.92,546.5 670.99,562.8" fill="none" stroke="#8a5048" stroke-width="1.5" stroke-linejoin="round" stroke-opacity="0.95"/>
<circle cx="404.5" cy="544.8" r="2.3" fill="#8a5048"/>
<circle cx="442.57" cy="546.5" r="2.3" fill="#8a5048"/>
<circle cx="480.64" cy="546.9" r="2.3" fill="#8a5048"/>
<circle cx="518.71" cy="545.9" r="2.3" fill="#8a5048"/>
<circle cx="556.78" cy="542.4" r="2.3" fill="#8a5048"/>
<circle cx="594.85" cy="532.9" r="2.3" fill="#8a5048"/>
<circle cx="632.92" cy="546.5" r="2.3" fill="#8a5048"/>
<circle cx="670.99" cy="562.8" r="2.3" fill="#8a5048"/>
<line x1="391.5" y1="460.2" x2="391.5" y2="628" stroke="#808080" stroke-width="1"/>
<line x1="391" y1="627.5" x2="684.5" y2="627.5" stroke="#808080" stroke-width="1"/>
<text x="387.4" y="623.55" font-size="4.71" text-anchor="end" textLength="10.29" lengthAdjust="spacingAndGlyphs" stroke="#2e2e2e" stroke-width="0.07">0.80</text>
<text x="387.4" y="604.65" font-size="4.71" text-anchor="end" textLength="10.29" lengthAdjust="spacingAndGlyphs" stroke="#2e2e2e" stroke-width="0.07">0.82</text>
<text x="387.4" y="585.85" font-size="4.71" text-anchor="end" textLength="10.29" lengthAdjust="spacingAndGlyphs" stroke="#2e2e2e" stroke-width="0.07">0.84</text>
<text x="387.4" y="566.95" font-size="4.71" text-anchor="end" textLength="10.29" lengthAdjust="spacingAndGlyphs" stroke="#2e2e2e" stroke-width="0.07">0.86</text>
<text x="387.4" y="548.05" font-size="4.71" text-anchor="end" textLength="10.29" lengthAdjust="spacingAndGlyphs" stroke="#2e2e2e" stroke-width="0.07">0.88</text>
<text x="387.4" y="529.15" font-size="4.71" text-anchor="end" textLength="10.29" lengthAdjust="spacingAndGlyphs" stroke="#2e2e2e" stroke-width="0.07">0.90</text>
<text x="387.4" y="510.25" font-size="4.71" text-anchor="end" textLength="10.29" lengthAdjust="spacingAndGlyphs" stroke="#2e2e2e" stroke-width="0.07">0.92</text>
<text x="387.4" y="491.45" font-size="4.71" text-anchor="end" textLength="10.29" lengthAdjust="spacingAndGlyphs" stroke="#2e2e2e" stroke-width="0.07">0.94</text>
<text x="387.4" y="472.55" font-size="4.71" text-anchor="end" textLength="10.29" lengthAdjust="spacingAndGlyphs" stroke="#2e2e2e" stroke-width="0.07">0.96</text>
<text x="404.5" y="634.2" font-size="4.71" text-anchor="middle" textLength="16.32" lengthAdjust="spacingAndGlyphs" stroke="#2e2e2e" stroke-width="0.07">AutoSF</text>
<text x="442.57" y="634.2" font-size="4.71" text-anchor="middle" textLength="20.42" lengthAdjust="spacingAndGlyphs" stroke="#2e2e2e" stroke-width="0.07">ComplEx</text>
<text x="480.64" y="634.2" font-size="4.71" text-anchor="middle" textLength="19.07" lengthAdjust="spacingAndGlyphs" stroke="#2e2e2e" stroke-width="0.07">DistMult</text>
<text x="518.71" y="634.2" font-size="4.71" text-anchor="middle" textLength="17.14" lengthAdjust="spacingAndGlyphs" stroke="#2e2e2e" stroke-width="0.07">InterHT</text>
<text x="556.78" y="634.2" font-size="4.71" text-anchor="middle" textLength="14.72" lengthAdjust="spacingAndGlyphs" stroke="#2e2e2e" stroke-width="0.07">PairRE</text>
<text x="594.85" y="634.2" font-size="4.71" text-anchor="middle" textLength="15.13" lengthAdjust="spacingAndGlyphs" stroke="#2e2e2e" stroke-width="0.07">TransE</text>
<text x="632.92" y="634.2" font-size="4.71" text-anchor="middle" textLength="18.51" lengthAdjust="spacingAndGlyphs" stroke="#2e2e2e" stroke-width="0.07">TripleRE</text>
<text x="670.99" y="634.2" font-size="4.71" text-anchor="middle" textLength="18.14" lengthAdjust="spacingAndGlyphs" stroke="#2e2e2e" stroke-width="0.07">pRotatE</text>
<text x="391.5" y="457.6" font-size="6.87" font-weight="bold" fill="#222222" textLength="188.75" lengthAdjust="spacingAndGlyphs" stroke="#222222" stroke-width="0.05">(f) Interaction Effect Between RS and KGE (AUPR)</text>
<text transform="translate(373.7 543.8) rotate(-90)" x="0" y="0" font-size="5.93" text-anchor="middle" textLength="41.47" lengthAdjust="spacingAndGlyphs" stroke="#2e2e2e" stroke-width="0.14">Average AUPR</text>
<text x="537.6" y="641.5" font-size="5.93" text-anchor="middle" textLength="110.05" lengthAdjust="spacingAndGlyphs" stroke="#2e2e2e" stroke-width="0.14">Knowledge Graph Embedding Method</text>
<rect x="653.5" y="525.4" width="28.6" height="36.5" fill="#ffffff" fill-opacity="0.8" stroke="#d8d8d8" stroke-width="0.5" rx="0.8"/>
<text x="667.8" y="530.7" font-size="4.84" text-anchor="middle" textLength="25.64" lengthAdjust="spacingAndGlyphs" stroke="#2e2e2e" stroke-width="0.07">RS Method</text>
<line x1="655.1" y1="534.1" x2="663" y2="534.1" stroke="#3a7fc0" stroke-width="1.3"/>
<circle cx="659.1" cy="534.1" r="1.95" fill="#3a7fc0"/>
<text x="665.3" y="535.3" font-size="3.42" textLength="6.65" lengthAdjust="spacingAndGlyphs">BPR</text>
<line x1="655.1" y1="539.3" x2="663" y2="539.3" stroke="#f0802a" stroke-width="1.3"/>
<circle cx="659.1" cy="539.3" r="1.95" fill="#f0802a"/>
<text x="665.3" y="540.5" font-size="3.42" textLength="15.27" lengthAdjust="spacingAndGlyphs">ConvNCF</text>
<line x1="655.1" y1="544.2" x2="663" y2="544.2" stroke="#3cac3c" stroke-width="1.3"/>
<circle cx="659.1" cy="544.2" r="1.95" fill="#3cac3c"/>
<text x="665.3" y="545.4" font-size="3.42" textLength="7.4" lengthAdjust="spacingAndGlyphs">DMF</text>
<line x1="655.1" y1="549.1" x2="663" y2="549.1" stroke="#d63030" stroke-width="1.3"/>
<circle cx="659.1" cy="549.1" r="1.95" fill="#d63030"/>
<text x="665.3" y="550.3" font-size="3.42" textLength="6.5" lengthAdjust="spacingAndGlyphs">afm</text>
<line x1="655.1" y1="554" x2="663" y2="554" stroke="#9060c8" stroke-width="1.3"/>
<circle cx="659.1" cy="554" r="1.95" fill="#9060c8"/>
<text x="665.3" y="555.2" font-size="3.42" textLength="4.44" lengthAdjust="spacingAndGlyphs">fm</text>
<line x1="655.1" y1="559.1" x2="663" y2="559.1" stroke="#8a5048" stroke-width="1.3"/>
<circle cx="659.1" cy="559.1" r="1.95" fill="#8a5048"/>
<text x="665.3" y="560.3" font-size="3.42" textLength="6.57" lengthAdjust="spacingAndGlyphs">nfm</text>
<line x1="40.7" y1="686.3" x2="40.7" y2="853.5" stroke="#e4e4e4" stroke-width="0.8"/>
<line x1="46.27" y1="686.3" x2="46.27" y2="853.5" stroke="#e4e4e4" stroke-width="0.8"/>
<line x1="51.84" y1="686.3" x2="51.84" y2="853.5" stroke="#e4e4e4" stroke-width="0.8"/>
<line x1="57.4" y1="686.3" x2="57.4" y2="853.5" stroke="#e4e4e4" stroke-width="0.8"/>
<line x1="62.97" y1="686.3" x2="62.97" y2="853.5" stroke="#e4e4e4" stroke-width="0.8"/>
<line x1="68.54" y1="686.3" x2="68.54" y2="853.5" stroke="#e4e4e4" stroke-width="0.8"/>
<line x1="74.11" y1="686.3" x2="74.11" y2="853.5" stroke="#e4e4e4" stroke-width="0.8"/>
<line x1="79.68" y1="686.3" x2="79.68" y2="853.5" stroke="#e4e4e4" stroke-width="0.8"/>
<line x1="85.24" y1="686.3" x2="85.24" y2="853.5" stroke="#e4e4e4" stroke-width="0.8"/>
<line x1="90.81" y1="686.3" x2="90.81" y2="853.5" stroke="#e4e4e4" stroke-width="0.8"/>
<line x1="96.38" y1="686.3" x2="96.38" y2="853.5" stroke="#e4e4e4" stroke-width="0.8"/>
<line x1="101.95" y1="686.3" x2="101.95" y2="853.5" stroke="#e4e4e4" stroke-width="0.8"/>
<line x1="107.52" y1="686.3" x2="107.52" y2="853.5" stroke="#e4e4e4" stroke-width="0.8"/>
<line x1="113.08" y1="686.3" x2="113.08" y2="853.5" stroke="#e4e4e4" stroke-width="0.8"/>
<line x1="118.65" y1="686.3" x2="118.65" y2="853.5" stroke="#e4e4e4" stroke-width="0.8"/>
<line x1="124.22" y1="686.3" x2="124.22" y2="853.5" stroke="#e4e4e4" stroke-width="0.8"/>
<line x1="129.79" y1="686.3" x2="129.79" y2="853.5" stroke="#e4e4e4" stroke-width="0.8"/>
<line x1="135.36" y1="686.3" x2="135.36" y2="853.5" stroke="#e4e4e4" stroke-width="0.8"/>
<line x1="140.92" y1="686.3" x2="140.92" y2="853.5" stroke="#e4e4e4" stroke-width="0.8"/>
<line x1="146.49" y1="686.3" x2="146.49" y2="853.5" stroke="#e4e4e4" stroke-width="0.8"/>
<line x1="152.06" y1="686.3" x2="152.06" y2="853.5" stroke="#e4e4e4" stroke-width="0.8"/>
<line x1="157.63" y1="686.3" x2="157.63" y2="853.5" stroke="#e4e4e4" stroke-width="0.8"/>
<line x1="163.2" y1="686.3" x2="163.2" y2="853.5" stroke="#e4e4e4" stroke-width="0.8"/>
<line x1="168.76" y1="686.3" x2="168.76" y2="853.5" stroke="#e4e4e4" stroke-width="0.8"/>
<line x1="174.33" y1="686.3" x2="174.33" y2="853.5" stroke="#e4e4e4" stroke-width="0.8"/>
<line x1="179.9" y1="686.3" x2="179.9" y2="853.5" stroke="#e4e4e4" stroke-width="0.8"/>
<line x1="185.47" y1="686.3" x2="185.47" y2="853.5" stroke="#e4e4e4" stroke-width="0.8"/>
<line x1="191.04" y1="686.3" x2="191.04" y2="853.5" stroke="#e4e4e4" stroke-width="0.8"/>
<line x1="196.6" y1="686.3" x2="196.6" y2="853.5" stroke="#e4e4e4" stroke-width="0.8"/>
<line x1="202.17" y1="686.3" x2="202.17" y2="853.5" stroke="#e4e4e4" stroke-width="0.8"/>
<line x1="207.74" y1="686.3" x2="207.74" y2="853.5" stroke="#e4e4e4" stroke-width="0.8"/>
<line x1="213.31" y1="686.3" x2="213.31" y2="853.5" stroke="#e4e4e4" stroke-width="0.8"/>
<line x1="218.88" y1="686.3" x2="218.88" y2="853.5" stroke="#e4e4e4" stroke-width="0.8"/>
<line x1="224.44" y1="686.3" x2="224.44" y2="853.5" stroke="#e4e4e4" stroke-width="0.8"/>
<line x1="230.01" y1="686.3" x2="230.01" y2="853.5" stroke="#e4e4e4" stroke-width="0.8"/>
<line x1="235.58" y1="686.3" x2="235.58" y2="853.5" stroke="#e4e4e4" stroke-width="0.8"/>
<line x1="241.15" y1="686.3" x2="241.15" y2="853.5" stroke="#e4e4e4" stroke-width="0.8"/>
<line x1="246.72" y1="686.3" x2="246.72" y2="853.5" stroke="#e4e4e4" stroke-width="0.8"/>
<line x1="252.28" y1="686.3" x2="252.28" y2="853.5" stroke="#e4e4e4" stroke-width="0.8"/>
<line x1="257.85" y1="686.3" x2="257.85" y2="853.5" stroke="#e4e4e4" stroke-width="0.8"/>
<line x1="263.42" y1="686.3" x2="263.42" y2="853.5" stroke="#e4e4e4" stroke-width="0.8"/>
<line x1="268.99" y1="686.3" x2="268.99" y2="853.5" stroke="#e4e4e4" stroke-width="0.8"/>
<line x1="274.56" y1="686.3" x2="274.56" y2="853.5" stroke="#e4e4e4" stroke-width="0.8"/>
<line x1="280.12" y1="686.3" x2="280.12" y2="853.5" stroke="#e4e4e4" stroke-width="0.8"/>
<line x1="285.69" y1="686.3" x2="285.69" y2="853.5" stroke="#e4e4e4" stroke-width="0.8"/>
<line x1="291.26" y1="686.3" x2="291.26" y2="853.5" stroke="#e4e4e4" stroke-width="0.8"/>
<line x1="296.83" y1="686.3" x2="296.83" y2="853.5" stroke="#e4e4e4" stroke-width="0.8"/>
<line x1="302.4" y1="686.3" x2="302.4" y2="853.5" stroke="#e4e4e4" stroke-width="0.8"/>
<line x1="25" y1="853.4" x2="317.5" y2="853.4" stroke="#e6e6e6" stroke-width="0.6" stroke-dasharray="1.6 1.2"/>
<line x1="25" y1="832.7" x2="317.5" y2="832.7" stroke="#e6e6e6" stroke-width="0.6" stroke-dasharray="1.6 1.2"/>
<line x1="25" y1="812" x2="317.5" y2="812" stroke="#e6e6e6" stroke-width="0.6" stroke-dasharray="1.6 1.2"/>
<line x1="25" y1="791.3" x2="317.5" y2="791.3" stroke="#e6e6e6" stroke-width="0.6" stroke-dasharray="1.6 1.2"/>
<line x1="25" y1="770.6" x2="317.5" y2="770.6" stroke="#e6e6e6" stroke-width="0.6" stroke-dasharray="1.6 1.2"/>
<line x1="25" y1="749.9" x2="317.5" y2="749.9" stroke="#e6e6e6" stroke-width="0.6" stroke-dasharray="1.6 1.2"/>
<line x1="25" y1="729.2" x2="317.5" y2="729.2" stroke="#e6e6e6" stroke-width="0.6" stroke-dasharray="1.6 1.2"/>
<line x1="25" y1="708.5" x2="317.5" y2="708.5" stroke="#e6e6e6" stroke-width="0.6" stroke-dasharray="1.6 1.2"/>
<line x1="25" y1="687.8" x2="317.5" y2="687.8" stroke="#e6e6e6" stroke-width="0.6" stroke-dasharray="1.6 1.2"/>
<rect x="38.55" y="830" width="4.3" height="23.5" fill="#31678f"/>
<rect x="44.12" y="829.1" width="4.3" height="24.4" fill="#31678f"/>
<rect x="49.69" y="829.1" width="4.3" height="24.4" fill="#31678f"/>
<rect x="55.25" y="827" width="4.3" height="26.5" fill="#31678f"/>
<rect x="60.82" y="826.5" width="4.3" height="27" fill="#31678f"/>
<rect x="66.39" y="825.5" width="4.3" height="28" fill="#31678f"/>
<rect x="71.96" y="825" width="4.3" height="28.5" fill="#31678f"/>
<rect x="77.53" y="824.4" width="4.3" height="29.1" fill="#31678f"/>
<rect x="83.09" y="824.1" width="4.3" height="29.4" fill="#31678f"/>
<rect x="88.66" y="823.2" width="4.3" height="30.3" fill="#31678f"/>
<rect x="94.23" y="820.9" width="4.3" height="32.6" fill="#31678f"/>
<rect x="99.8" y="819.9" width="4.3" height="33.6" fill="#31678f"/>
<rect x="105.37" y="819.7" width="4.3" height="33.8" fill="#31678f"/>
<rect x="110.93" y="816.9" width="4.3" height="36.6" fill="#31678f"/>
<rect x="116.5" y="813.8" width="4.3" height="39.7" fill="#31678f"/>
<rect x="122.07" y="811.8" width="4.3" height="41.7" fill="#31678f"/>
<rect x="127.64" y="810.7" width="4.3" height="42.8" fill="#31678f"/>
<rect x="133.21" y="806.2" width="4.3" height="47.3" fill="#31678f"/>
<rect x="138.77" y="804.2" width="4.3" height="49.3" fill="#31678f"/>
<rect x="144.34" y="787.9" width="4.3" height="65.6" fill="#31678f"/>
<rect x="149.91" y="787.3" width="4.3" height="66.2" fill="#31678f"/>
<rect x="155.48" y="780.6" width="4.3" height="72.9" fill="#31678f"/>
<rect x="161.05" y="780.6" width="4.3" height="72.9" fill="#31678f"/>
<rect x="166.61" y="769.4" width="4.3" height="84.1" fill="#31678f"/>
<rect x="172.18" y="763.7" width="4.3" height="89.8" fill="#31678f"/>
<rect x="177.75" y="762.1" width="4.3" height="91.4" fill="#31678f"/>
<rect x="183.32" y="758" width="4.3" height="95.5" fill="#31678f"/>
<rect x="188.89" y="758" width="4.3" height="95.5" fill="#31678f"/>
<rect x="194.45" y="757.2" width="4.3" height="96.3" fill="#31678f"/>
<rect x="200.02" y="751.2" width="4.3" height="102.3" fill="#31678f"/>
<rect x="205.59" y="750.2" width="4.3" height="103.3" fill="#31678f"/>
<rect x="211.16" y="746.9" width="4.3" height="106.6" fill="#31678f"/>
<rect x="216.73" y="745.3" width="4.3" height="108.2" fill="#31678f"/>
<rect x="222.29" y="739.2" width="4.3" height="114.3" fill="#31678f"/>
<rect x="227.86" y="738.3" width="4.3" height="115.2" fill="#31678f"/>
<rect x="233.43" y="736.2" width="4.3" height="117.3" fill="#31678f"/>
<rect x="239" y="735" width="4.3" height="118.5" fill="#31678f"/>
<rect x="244.57" y="734.7" width="4.3" height="118.8" fill="#31678f"/>
<rect x="250.13" y="734.3" width="4.3" height="119.2" fill="#31678f"/>
<rect x="255.7" y="730.9" width="4.3" height="122.6" fill="#31678f"/>
<rect x="261.27" y="730.2" width="4.3" height="123.3" fill="#31678f"/>
<rect x="266.84" y="730.2" width="4.3" height="123.3" fill="#31678f"/>
<rect x="272.41" y="726.2" width="4.3" height="127.3" fill="#31678f"/>
<rect x="277.97" y="720.6" width="4.3" height="132.9" fill="#31678f"/>
<rect x="283.54" y="720.1" width="4.3" height="133.4" fill="#31678f"/>
<rect x="289.11" y="717.7" width="4.3" height="135.8" fill="#31678f"/>
<rect x="294.68" y="703.4" width="4.3" height="150.1" fill="#31678f"/>
<rect x="300.25" y="694" width="4.3" height="159.5" fill="#31678f"/>
<line x1="25" y1="774.5" x2="317.5" y2="774.5" stroke="#e05050" stroke-width="0.9" stroke-dasharray="2.4 1.4"/>
<line x1="25" y1="686.3" x2="25" y2="854" stroke="#808080" stroke-width="1"/>
<line x1="24.5" y1="853.5" x2="317.5" y2="853.5" stroke="#808080" stroke-width="1"/>
<text x="21.6" y="855.35" font-size="4.71" text-anchor="end" textLength="13.23" lengthAdjust="spacingAndGlyphs" stroke="#2e2e2e" stroke-width="0.07">0.000</text>
<text x="21.6" y="834.65" font-size="4.71" text-anchor="end" textLength="13.23" lengthAdjust="spacingAndGlyphs" stroke="#2e2e2e" stroke-width="0.07">0.005</text>
<text x="21.6" y="813.95" font-size="4.71" text-anchor="end" textLength="13.23" lengthAdjust="spacingAndGlyphs" stroke="#2e2e2e" stroke-width="0.07">0.010</text>
<text x="21.6" y="793.25" font-size="4.71" text-anchor="end" textLength="13.23" lengthAdjust="spacingAndGlyphs" stroke="#2e2e2e" stroke-width="0.07">0.015</text>
<text x="21.6" y="772.55" font-size="4.71" text-anchor="end" textLength="13.23" lengthAdjust="spacingAndGlyphs" stroke="#2e2e2e" stroke-width="0.07">0.020</text>
<text x="21.6" y="751.85" font-size="4.71" text-anchor="end" textLength="13.23" lengthAdjust="spacingAndGlyphs" stroke="#2e2e2e" stroke-width="0.07">0.025</text>
<text x="21.6" y="731.15" font-size="4.71" text-anchor="end" textLength="13.23" lengthAdjust="spacingAndGlyphs" stroke="#2e2e2e" stroke-width="0.07">0.030</text>
<text x="21.6" y="710.45" font-size="4.71" text-anchor="end" textLength="13.23" lengthAdjust="spacingAndGlyphs" stroke="#2e2e2e" stroke-width="0.07">0.035</text>
<text x="21.6" y="689.75" font-size="4.71" text-anchor="end" textLength="13.23" lengthAdjust="spacingAndGlyphs" stroke="#2e2e2e" stroke-width="0.07">0.040</text>
<text transform="translate(41.7 857.1) rotate(-90)" x="0" y="0" font-size="2.91" text-anchor="end" fill="#555" textLength="17.02" lengthAdjust="spacingAndGlyphs">AutoSF_afm</text>
<text transform="translate(47.27 857.1) rotate(-90)" x="0" y="0" font-size="2.91" text-anchor="end" fill="#555" textLength="17.52" lengthAdjust="spacingAndGlyphs">InterHT_afm</text>
<text transform="translate(52.84 857.1) rotate(-90)" x="0" y="0" font-size="2.91" text-anchor="end" fill="#555" textLength="18.14" lengthAdjust="spacingAndGlyphs">pRotatE_afm</text>
<text transform="translate(58.4 857.1) rotate(-90)" x="0" y="0" font-size="2.91" text-anchor="end" fill="#555" textLength="17.65" lengthAdjust="spacingAndGlyphs">InterHT_BPR</text>
<text transform="translate(63.97 857.1) rotate(-90)" x="0" y="0" font-size="2.91" text-anchor="end" fill="#555" textLength="16.03" lengthAdjust="spacingAndGlyphs">PairRE_afm</text>
<text transform="translate(69.54 857.1) rotate(-90)" x="0" y="0" font-size="2.91" text-anchor="end" fill="#555" textLength="18.84" lengthAdjust="spacingAndGlyphs">DistMult_BPR</text>
<text transform="translate(75.11 857.1) rotate(-90)" x="0" y="0" font-size="2.91" text-anchor="end" fill="#555" textLength="16.28" lengthAdjust="spacingAndGlyphs">TransE_afm</text>
<text transform="translate(80.68 857.1) rotate(-90)" x="0" y="0" font-size="2.91" text-anchor="end" fill="#555" textLength="18.5" lengthAdjust="spacingAndGlyphs">TripleRE_BPR</text>
<text transform="translate(86.24 857.1) rotate(-90)" x="0" y="0" font-size="2.91" text-anchor="end" fill="#555" textLength="18.37" lengthAdjust="spacingAndGlyphs">TripleRE_afm</text>
<text transform="translate(91.81 857.1) rotate(-90)" x="0" y="0" font-size="2.91" text-anchor="end" fill="#555" textLength="18.27" lengthAdjust="spacingAndGlyphs">pRotatE_BPR</text>
<text transform="translate(97.38 857.1) rotate(-90)" x="0" y="0" font-size="2.91" text-anchor="end" fill="#555" textLength="16.16" lengthAdjust="spacingAndGlyphs">PairRE_BPR</text>
<text transform="translate(102.95 857.1) rotate(-90)" x="0" y="0" font-size="2.91" text-anchor="end" fill="#555" textLength="19.68" lengthAdjust="spacingAndGlyphs">ComplEx_BPR</text>
<text transform="translate(108.52 857.1) rotate(-90)" x="0" y="0" font-size="2.91" text-anchor="end" fill="#555" textLength="16.41" lengthAdjust="spacingAndGlyphs">TransE_BPR</text>
<text transform="translate(114.08 857.1) rotate(-90)" x="0" y="0" font-size="2.91" text-anchor="end" fill="#555" textLength="17.14" lengthAdjust="spacingAndGlyphs">AutoSF_BPR</text>
<text transform="translate(119.65 857.1) rotate(-90)" x="0" y="0" font-size="2.91" text-anchor="end" fill="#555" textLength="14.54" lengthAdjust="spacingAndGlyphs">TransE_fm</text>
<text transform="translate(125.22 857.1) rotate(-90)" x="0" y="0" font-size="2.91" text-anchor="end" fill="#555" textLength="14.29" lengthAdjust="spacingAndGlyphs">PairRE_fm</text>
<text transform="translate(130.79 857.1) rotate(-90)" x="0" y="0" font-size="2.91" text-anchor="end" fill="#555" textLength="16.39" lengthAdjust="spacingAndGlyphs">pRotatE_fm</text>
<text transform="translate(136.36 857.1) rotate(-90)" x="0" y="0" font-size="2.91" text-anchor="end" fill="#555" textLength="19.55" lengthAdjust="spacingAndGlyphs">ComplEx_afm</text>
<text transform="translate(141.92 857.1) rotate(-90)" x="0" y="0" font-size="2.91" text-anchor="end" fill="#555" textLength="18.71" lengthAdjust="spacingAndGlyphs">DistMult_afm</text>
<text transform="translate(147.49 857.1) rotate(-90)" x="0" y="0" font-size="2.91" text-anchor="end" fill="#555" textLength="17.08" lengthAdjust="spacingAndGlyphs">AutoSF_nfm</text>
<text transform="translate(153.06 857.1) rotate(-90)" x="0" y="0" font-size="2.91" text-anchor="end" fill="#555" textLength="16.34" lengthAdjust="spacingAndGlyphs">TransE_nfm</text>
<text transform="translate(158.63 857.1) rotate(-90)" x="0" y="0" font-size="2.91" text-anchor="end" fill="#555" textLength="16.09" lengthAdjust="spacingAndGlyphs">PairRE_nfm</text>
<text transform="translate(164.2 857.1) rotate(-90)" x="0" y="0" font-size="2.91" text-anchor="end" fill="#555" textLength="19.61" lengthAdjust="spacingAndGlyphs">ComplEx_nfm</text>
<text transform="translate(169.76 857.1) rotate(-90)" x="0" y="0" font-size="2.91" text-anchor="end" fill="#555" textLength="15.27" lengthAdjust="spacingAndGlyphs">AutoSF_fm</text>
<text transform="translate(175.33 857.1) rotate(-90)" x="0" y="0" font-size="2.91" text-anchor="end" fill="#555" textLength="16.63" lengthAdjust="spacingAndGlyphs">TripleRE_fm</text>
<text transform="translate(180.9 857.1) rotate(-90)" x="0" y="0" font-size="2.91" text-anchor="end" fill="#555" textLength="15.78" lengthAdjust="spacingAndGlyphs">InterHT_fm</text>
<text transform="translate(186.47 857.1) rotate(-90)" x="0" y="0" font-size="2.91" text-anchor="end" fill="#555" textLength="17.05" lengthAdjust="spacingAndGlyphs">TransE_DMF</text>
<text transform="translate(192.04 857.1) rotate(-90)" x="0" y="0" font-size="2.91" text-anchor="end" fill="#555" textLength="18.77" lengthAdjust="spacingAndGlyphs">DistMult_nfm</text>
<text transform="translate(197.6 857.1) rotate(-90)" x="0" y="0" font-size="2.91" text-anchor="end" fill="#555" textLength="16.97" lengthAdjust="spacingAndGlyphs">DistMult_fm</text>
<text transform="translate(203.17 857.1) rotate(-90)" x="0" y="0" font-size="2.91" text-anchor="end" fill="#555" textLength="17.8" lengthAdjust="spacingAndGlyphs">ComplEx_fm</text>
<text transform="translate(208.74 857.1) rotate(-90)" x="0" y="0" font-size="2.91" text-anchor="end" fill="#555" textLength="18.43" lengthAdjust="spacingAndGlyphs">TripleRE_nfm</text>
<text transform="translate(214.31 857.1) rotate(-90)" x="0" y="0" font-size="2.91" text-anchor="end" fill="#555" textLength="27.01" lengthAdjust="spacingAndGlyphs">ComplEx_ConvNCF</text>
<text transform="translate(219.88 857.1) rotate(-90)" x="0" y="0" font-size="2.91" text-anchor="end" fill="#555" textLength="17.58" lengthAdjust="spacingAndGlyphs">InterHT_nfm</text>
<text transform="translate(225.44 857.1) rotate(-90)" x="0" y="0" font-size="2.91" text-anchor="end" fill="#555" textLength="18.2" lengthAdjust="spacingAndGlyphs">pRotatE_nfm</text>
<text transform="translate(231.01 857.1) rotate(-90)" x="0" y="0" font-size="2.91" text-anchor="end" fill="#555" textLength="20.32" lengthAdjust="spacingAndGlyphs">ComplEx_DMF</text>
<text transform="translate(236.58 857.1) rotate(-90)" x="0" y="0" font-size="2.91" text-anchor="end" fill="#555" textLength="17.05" lengthAdjust="spacingAndGlyphs">TransE_DMF</text>
<text transform="translate(242.15 857.1) rotate(-90)" x="0" y="0" font-size="2.91" text-anchor="end" fill="#555" textLength="19.48" lengthAdjust="spacingAndGlyphs">DistMult_DMF</text>
<text transform="translate(247.72 857.1) rotate(-90)" x="0" y="0" font-size="2.91" text-anchor="end" fill="#555" textLength="16.8" lengthAdjust="spacingAndGlyphs">PairRE_DMF</text>
<text transform="translate(253.28 857.1) rotate(-90)" x="0" y="0" font-size="2.91" text-anchor="end" fill="#555" textLength="19.14" lengthAdjust="spacingAndGlyphs">TripleRE_DMF</text>
<text transform="translate(258.85 857.1) rotate(-90)" x="0" y="0" font-size="2.91" text-anchor="end" fill="#555" textLength="25.6" lengthAdjust="spacingAndGlyphs">pRotatE_ConvNCF</text>
<text transform="translate(264.42 857.1) rotate(-90)" x="0" y="0" font-size="2.91" text-anchor="end" fill="#555" textLength="20.32" lengthAdjust="spacingAndGlyphs">ComplEx_DMF</text>
<text transform="translate(269.99 857.1) rotate(-90)" x="0" y="0" font-size="2.91" text-anchor="end" fill="#555" textLength="18.91" lengthAdjust="spacingAndGlyphs">pRotatE_DMF</text>
<text transform="translate(275.56 857.1) rotate(-90)" x="0" y="0" font-size="2.91" text-anchor="end" fill="#555" textLength="18.29" lengthAdjust="spacingAndGlyphs">InterHT_DMF</text>
<text transform="translate(281.12 857.1) rotate(-90)" x="0" y="0" font-size="2.91" text-anchor="end" fill="#555" textLength="23.5" lengthAdjust="spacingAndGlyphs">PairRE_ConvNCF</text>
<text transform="translate(286.69 857.1) rotate(-90)" x="0" y="0" font-size="2.91" text-anchor="end" fill="#555" textLength="25.83" lengthAdjust="spacingAndGlyphs">TripleRE_ConvNCF</text>
<text transform="translate(292.26 857.1) rotate(-90)" x="0" y="0" font-size="2.91" text-anchor="end" fill="#555" textLength="24.48" lengthAdjust="spacingAndGlyphs">AutoSF_ConvNCF</text>
<text transform="translate(297.83 857.1) rotate(-90)" x="0" y="0" font-size="2.91" text-anchor="end" fill="#555" textLength="14.54" lengthAdjust="spacingAndGlyphs">TransE_fm</text>
<text transform="translate(303.4 857.1) rotate(-90)" x="0" y="0" font-size="2.91" text-anchor="end" fill="#555" textLength="26.18" lengthAdjust="spacingAndGlyphs">DistMult_ConvNCF</text>
<text x="25" y="683.7" font-size="6.87" font-weight="bold" fill="#222222" textLength="118.47" lengthAdjust="spacingAndGlyphs" stroke="#222222" stroke-width="0.05">(g) AUC Coefficient of Variation</text>
<text transform="translate(4.4 770) rotate(-90)" x="0" y="0" font-size="5.93" text-anchor="middle" textLength="55.97" lengthAdjust="spacingAndGlyphs" stroke="#2e2e2e" stroke-width="0.14">AUC CV (std/mean)</text>
<text x="171.5" y="890.5" font-size="5.93" text-anchor="middle" textLength="17.44" lengthAdjust="spacingAndGlyphs" stroke="#2e2e2e" stroke-width="0.14">Model</text>
<line x1="406.8" y1="686.3" x2="406.8" y2="853.5" stroke="#e4e4e4" stroke-width="0.8"/>
<line x1="412.38" y1="686.3" x2="412.38" y2="853.5" stroke="#e4e4e4" stroke-width="0.8"/>
<line x1="417.95" y1="686.3" x2="417.95" y2="853.5" stroke="#e4e4e4" stroke-width="0.8"/>
<line x1="423.53" y1="686.3" x2="423.53" y2="853.5" stroke="#e4e4e4" stroke-width="0.8"/>
<line x1="429.1" y1="686.3" x2="429.1" y2="853.5" stroke="#e4e4e4" stroke-width="0.8"/>
<line x1="434.68" y1="686.3" x2="434.68" y2="853.5" stroke="#e4e4e4" stroke-width="0.8"/>
<line x1="440.25" y1="686.3" x2="440.25" y2="853.5" stroke="#e4e4e4" stroke-width="0.8"/>
<line x1="445.82" y1="686.3" x2="445.82" y2="853.5" stroke="#e4e4e4" stroke-width="0.8"/>
<line x1="451.4" y1="686.3" x2="451.4" y2="853.5" stroke="#e4e4e4" stroke-width="0.8"/>
<line x1="456.98" y1="686.3" x2="456.98" y2="853.5" stroke="#e4e4e4" stroke-width="0.8"/>
<line x1="462.55" y1="686.3" x2="462.55" y2="853.5" stroke="#e4e4e4" stroke-width="0.8"/>
<line x1="468.12" y1="686.3" x2="468.12" y2="853.5" stroke="#e4e4e4" stroke-width="0.8"/>
<line x1="473.7" y1="686.3" x2="473.7" y2="853.5" stroke="#e4e4e4" stroke-width="0.8"/>
<line x1="479.28" y1="686.3" x2="479.28" y2="853.5" stroke="#e4e4e4" stroke-width="0.8"/>
<line x1="484.85" y1="686.3" x2="484.85" y2="853.5" stroke="#e4e4e4" stroke-width="0.8"/>
<line x1="490.43" y1="686.3" x2="490.43" y2="853.5" stroke="#e4e4e4" stroke-width="0.8"/>
<line x1="496" y1="686.3" x2="496" y2="853.5" stroke="#e4e4e4" stroke-width="0.8"/>
<line x1="501.58" y1="686.3" x2="501.58" y2="853.5" stroke="#e4e4e4" stroke-width="0.8"/>
<line x1="507.15" y1="686.3" x2="507.15" y2="853.5" stroke="#e4e4e4" stroke-width="0.8"/>
<line x1="512.73" y1="686.3" x2="512.73" y2="853.5" stroke="#e4e4e4" stroke-width="0.8"/>
<line x1="518.3" y1="686.3" x2="518.3" y2="853.5" stroke="#e4e4e4" stroke-width="0.8"/>
<line x1="523.88" y1="686.3" x2="523.88" y2="853.5" stroke="#e4e4e4" stroke-width="0.8"/>
<line x1="529.45" y1="686.3" x2="529.45" y2="853.5" stroke="#e4e4e4" stroke-width="0.8"/>
<line x1="535.02" y1="686.3" x2="535.02" y2="853.5" stroke="#e4e4e4" stroke-width="0.8"/>
<line x1="540.6" y1="686.3" x2="540.6" y2="853.5" stroke="#e4e4e4" stroke-width="0.8"/>
<line x1="546.17" y1="686.3" x2="546.17" y2="853.5" stroke="#e4e4e4" stroke-width="0.8"/>
<line x1="551.75" y1="686.3" x2="551.75" y2="853.5" stroke="#e4e4e4" stroke-width="0.8"/>
<line x1="557.33" y1="686.3" x2="557.33" y2="853.5" stroke="#e4e4e4" stroke-width="0.8"/>
<line x1="562.9" y1="686.3" x2="562.9" y2="853.5" stroke="#e4e4e4" stroke-width="0.8"/>
<line x1="568.48" y1="686.3" x2="568.48" y2="853.5" stroke="#e4e4e4" stroke-width="0.8"/>
<line x1="574.05" y1="686.3" x2="574.05" y2="853.5" stroke="#e4e4e4" stroke-width="0.8"/>
<line x1="579.62" y1="686.3" x2="579.62" y2="853.5" stroke="#e4e4e4" stroke-width="0.8"/>
<line x1="585.2" y1="686.3" x2="585.2" y2="853.5" stroke="#e4e4e4" stroke-width="0.8"/>
<line x1="590.77" y1="686.3" x2="590.77" y2="853.5" stroke="#e4e4e4" stroke-width="0.8"/>
<line x1="596.35" y1="686.3" x2="596.35" y2="853.5" stroke="#e4e4e4" stroke-width="0.8"/>
<line x1="601.92" y1="686.3" x2="601.92" y2="853.5" stroke="#e4e4e4" stroke-width="0.8"/>
<line x1="607.5" y1="686.3" x2="607.5" y2="853.5" stroke="#e4e4e4" stroke-width="0.8"/>
<line x1="613.08" y1="686.3" x2="613.08" y2="853.5" stroke="#e4e4e4" stroke-width="0.8"/>
<line x1="618.65" y1="686.3" x2="618.65" y2="853.5" stroke="#e4e4e4" stroke-width="0.8"/>
<line x1="624.23" y1="686.3" x2="624.23" y2="853.5" stroke="#e4e4e4" stroke-width="0.8"/>
<line x1="629.8" y1="686.3" x2="629.8" y2="853.5" stroke="#e4e4e4" stroke-width="0.8"/>
<line x1="635.38" y1="686.3" x2="635.38" y2="853.5" stroke="#e4e4e4" stroke-width="0.8"/>
<line x1="640.95" y1="686.3" x2="640.95" y2="853.5" stroke="#e4e4e4" stroke-width="0.8"/>
<line x1="646.52" y1="686.3" x2="646.52" y2="853.5" stroke="#e4e4e4" stroke-width="0.8"/>
<line x1="652.1" y1="686.3" x2="652.1" y2="853.5" stroke="#e4e4e4" stroke-width="0.8"/>
<line x1="657.67" y1="686.3" x2="657.67" y2="853.5" stroke="#e4e4e4" stroke-width="0.8"/>
<line x1="663.25" y1="686.3" x2="663.25" y2="853.5" stroke="#e4e4e4" stroke-width="0.8"/>
<line x1="668.83" y1="686.3" x2="668.83" y2="853.5" stroke="#e4e4e4" stroke-width="0.8"/>
<line x1="391.5" y1="853" x2="684" y2="853" stroke="#e6e6e6" stroke-width="0.6" stroke-dasharray="1.6 1.2"/>
<line x1="391.5" y1="830.3" x2="684" y2="830.3" stroke="#e6e6e6" stroke-width="0.6" stroke-dasharray="1.6 1.2"/>
<line x1="391.5" y1="807.6" x2="684" y2="807.6" stroke="#e6e6e6" stroke-width="0.6" stroke-dasharray="1.6 1.2"/>
<line x1="391.5" y1="784.9" x2="684" y2="784.9" stroke="#e6e6e6" stroke-width="0.6" stroke-dasharray="1.6 1.2"/>
<line x1="391.5" y1="762.2" x2="684" y2="762.2" stroke="#e6e6e6" stroke-width="0.6" stroke-dasharray="1.6 1.2"/>
<line x1="391.5" y1="739.6" x2="684" y2="739.6" stroke="#e6e6e6" stroke-width="0.6" stroke-dasharray="1.6 1.2"/>
<line x1="391.5" y1="716.9" x2="684" y2="716.9" stroke="#e6e6e6" stroke-width="0.6" stroke-dasharray="1.6 1.2"/>
<line x1="391.5" y1="694.2" x2="684" y2="694.2" stroke="#e6e6e6" stroke-width="0.6" stroke-dasharray="1.6 1.2"/>
<rect x="404.65" y="835.5" width="4.3" height="18" fill="#31678f"/>
<rect x="410.23" y="833" width="4.3" height="20.5" fill="#31678f"/>
<rect x="415.8" y="832.3" width="4.3" height="21.2" fill="#31678f"/>
<rect x="421.38" y="831.1" width="4.3" height="22.4" fill="#31678f"/>
<rect x="426.95" y="831.1" width="4.3" height="22.4" fill="#31678f"/>
<rect x="432.53" y="830.3" width="4.3" height="23.2" fill="#31678f"/>
<rect x="438.1" y="829.9" width="4.3" height="23.6" fill="#31678f"/>
<rect x="443.68" y="829.2" width="4.3" height="24.3" fill="#31678f"/>
<rect x="449.25" y="829.1" width="4.3" height="24.4" fill="#31678f"/>
<rect x="454.83" y="828.9" width="4.3" height="24.6" fill="#31678f"/>
<rect x="460.4" y="828" width="4.3" height="25.5" fill="#31678f"/>
<rect x="465.98" y="828" width="4.3" height="25.5" fill="#31678f"/>
<rect x="471.55" y="827" width="4.3" height="26.5" fill="#31678f"/>
<rect x="477.13" y="823.1" width="4.3" height="30.4" fill="#31678f"/>
<rect x="482.7" y="791.9" width="4.3" height="61.6" fill="#31678f"/>
<rect x="488.28" y="787.1" width="4.3" height="66.4" fill="#31678f"/>
<rect x="493.85" y="783.2" width="4.3" height="70.3" fill="#31678f"/>
<rect x="499.43" y="783.4" width="4.3" height="70.1" fill="#31678f"/>
<rect x="505" y="780.3" width="4.3" height="73.2" fill="#31678f"/>
<rect x="510.58" y="779.2" width="4.3" height="74.3" fill="#31678f"/>
<rect x="516.15" y="777.1" width="4.3" height="76.4" fill="#31678f"/>
<rect x="521.73" y="775.3" width="4.3" height="78.2" fill="#31678f"/>
<rect x="527.3" y="775" width="4.3" height="78.5" fill="#31678f"/>
<rect x="532.88" y="774.1" width="4.3" height="79.4" fill="#31678f"/>
<rect x="538.45" y="773.8" width="4.3" height="79.7" fill="#31678f"/>
<rect x="544.02" y="771.8" width="4.3" height="81.7" fill="#31678f"/>
<rect x="549.6" y="771" width="4.3" height="82.5" fill="#31678f"/>
<rect x="555.18" y="770.1" width="4.3" height="83.4" fill="#31678f"/>
<rect x="560.75" y="769.3" width="4.3" height="84.2" fill="#31678f"/>
<rect x="566.33" y="769.3" width="4.3" height="84.2" fill="#31678f"/>
<rect x="571.9" y="769.3" width="4.3" height="84.2" fill="#31678f"/>
<rect x="577.48" y="765" width="4.3" height="88.5" fill="#31678f"/>
<rect x="583.05" y="764.6" width="4.3" height="88.9" fill="#31678f"/>
<rect x="588.62" y="763.1" width="4.3" height="90.4" fill="#31678f"/>
<rect x="594.2" y="758" width="4.3" height="95.5" fill="#31678f"/>
<rect x="599.77" y="753.1" width="4.3" height="100.4" fill="#31678f"/>
<rect x="605.35" y="747.1" width="4.3" height="106.4" fill="#31678f"/>
<rect x="610.93" y="737.2" width="4.3" height="116.3" fill="#31678f"/>
<rect x="616.5" y="732" width="4.3" height="121.5" fill="#31678f"/>
<rect x="622.08" y="730.2" width="4.3" height="123.3" fill="#31678f"/>
<rect x="627.65" y="729.3" width="4.3" height="124.2" fill="#31678f"/>
<rect x="633.23" y="722" width="4.3" height="131.5" fill="#31678f"/>
<rect x="638.8" y="721.2" width="4.3" height="132.3" fill="#31678f"/>
<rect x="644.38" y="720.1" width="4.3" height="133.4" fill="#31678f"/>
<rect x="649.95" y="717.4" width="4.3" height="136.1" fill="#31678f"/>
<rect x="655.52" y="715" width="4.3" height="138.5" fill="#31678f"/>
<rect x="661.1" y="710.6" width="4.3" height="142.9" fill="#31678f"/>
<rect x="666.68" y="694.2" width="4.3" height="159.3" fill="#31678f"/>
<line x1="391.5" y1="776.6" x2="684" y2="776.6" stroke="#e05050" stroke-width="0.9" stroke-dasharray="2.4 1.4"/>
<line x1="391.5" y1="686.3" x2="391.5" y2="854" stroke="#808080" stroke-width="1"/>
<line x1="391" y1="853.5" x2="684" y2="853.5" stroke="#808080" stroke-width="1"/>
<text x="387.4" y="854.95" font-size="4.71" text-anchor="end" textLength="13.23" lengthAdjust="spacingAndGlyphs" stroke="#2e2e2e" stroke-width="0.07">0.000</text>
<text x="387.4" y="832.25" font-size="4.71" text-anchor="end" textLength="13.23" lengthAdjust="spacingAndGlyphs" stroke="#2e2e2e" stroke-width="0.07">0.005</text>
<text x="387.4" y="809.55" font-size="4.71" text-anchor="end" textLength="13.23" lengthAdjust="spacingAndGlyphs" stroke="#2e2e2e" stroke-width="0.07">0.010</text>
<text x="387.4" y="786.85" font-size="4.71" text-anchor="end" textLength="13.23" lengthAdjust="spacingAndGlyphs" stroke="#2e2e2e" stroke-width="0.07">0.015</text>
<text x="387.4" y="764.15" font-size="4.71" text-anchor="end" textLength="13.23" lengthAdjust="spacingAndGlyphs" stroke="#2e2e2e" stroke-width="0.07">0.020</text>
<text x="387.4" y="741.55" font-size="4.71" text-anchor="end" textLength="13.23" lengthAdjust="spacingAndGlyphs" stroke="#2e2e2e" stroke-width="0.07">0.025</text>
<text x="387.4" y="718.85" font-size="4.71" text-anchor="end" textLength="13.23" lengthAdjust="spacingAndGlyphs" stroke="#2e2e2e" stroke-width="0.07">0.030</text>
<text x="387.4" y="696.15" font-size="4.71" text-anchor="end" textLength="13.23" lengthAdjust="spacingAndGlyphs" stroke="#2e2e2e" stroke-width="0.07">0.035</text>
<text transform="translate(407.8 857.1) rotate(-90)" x="0" y="0" font-size="2.91" text-anchor="end" fill="#555" textLength="18.14" lengthAdjust="spacingAndGlyphs">pRotatE_afm</text>
<text transform="translate(413.38 857.1) rotate(-90)" x="0" y="0" font-size="2.91" text-anchor="end" fill="#555" textLength="17.02" lengthAdjust="spacingAndGlyphs">AutoSF_afm</text>
<text transform="translate(418.95 857.1) rotate(-90)" x="0" y="0" font-size="2.91" text-anchor="end" fill="#555" textLength="17.52" lengthAdjust="spacingAndGlyphs">InterHT_afm</text>
<text transform="translate(424.53 857.1) rotate(-90)" x="0" y="0" font-size="2.91" text-anchor="end" fill="#555" textLength="16.28" lengthAdjust="spacingAndGlyphs">TransE_afm</text>
<text transform="translate(430.1 857.1) rotate(-90)" x="0" y="0" font-size="2.91" text-anchor="end" fill="#555" textLength="17.65" lengthAdjust="spacingAndGlyphs">InterHT_BPR</text>
<text transform="translate(435.68 857.1) rotate(-90)" x="0" y="0" font-size="2.91" text-anchor="end" fill="#555" textLength="16.41" lengthAdjust="spacingAndGlyphs">TransE_BPR</text>
<text transform="translate(441.25 857.1) rotate(-90)" x="0" y="0" font-size="2.91" text-anchor="end" fill="#555" textLength="18.5" lengthAdjust="spacingAndGlyphs">TripleRE_BPR</text>
<text transform="translate(446.82 857.1) rotate(-90)" x="0" y="0" font-size="2.91" text-anchor="end" fill="#555" textLength="18.27" lengthAdjust="spacingAndGlyphs">pRotatE_BPR</text>
<text transform="translate(452.4 857.1) rotate(-90)" x="0" y="0" font-size="2.91" text-anchor="end" fill="#555" textLength="18.84" lengthAdjust="spacingAndGlyphs">DistMult_BPR</text>
<text transform="translate(457.98 857.1) rotate(-90)" x="0" y="0" font-size="2.91" text-anchor="end" fill="#555" textLength="16.03" lengthAdjust="spacingAndGlyphs">PairRE_afm</text>
<text transform="translate(463.55 857.1) rotate(-90)" x="0" y="0" font-size="2.91" text-anchor="end" fill="#555" textLength="18.37" lengthAdjust="spacingAndGlyphs">TripleRE_afm</text>
<text transform="translate(469.12 857.1) rotate(-90)" x="0" y="0" font-size="2.91" text-anchor="end" fill="#555" textLength="18.71" lengthAdjust="spacingAndGlyphs">DistMult_afm</text>
<text transform="translate(474.7 857.1) rotate(-90)" x="0" y="0" font-size="2.91" text-anchor="end" fill="#555" textLength="19.68" lengthAdjust="spacingAndGlyphs">ComplEx_BPR</text>
<text transform="translate(480.28 857.1) rotate(-90)" x="0" y="0" font-size="2.91" text-anchor="end" fill="#555" textLength="17.14" lengthAdjust="spacingAndGlyphs">AutoSF_BPR</text>
<text transform="translate(485.85 857.1) rotate(-90)" x="0" y="0" font-size="2.91" text-anchor="end" fill="#555" textLength="14.29" lengthAdjust="spacingAndGlyphs">PairRE_fm</text>
<text transform="translate(491.43 857.1) rotate(-90)" x="0" y="0" font-size="2.91" text-anchor="end" fill="#555" textLength="17.08" lengthAdjust="spacingAndGlyphs">AutoSF_nfm</text>
<text transform="translate(497 857.1) rotate(-90)" x="0" y="0" font-size="2.91" text-anchor="end" fill="#555" textLength="16.39" lengthAdjust="spacingAndGlyphs">pRotatE_fm</text>
<text transform="translate(502.58 857.1) rotate(-90)" x="0" y="0" font-size="2.91" text-anchor="end" fill="#555" textLength="16.34" lengthAdjust="spacingAndGlyphs">TransE_nfm</text>
<text transform="translate(508.15 857.1) rotate(-90)" x="0" y="0" font-size="2.91" text-anchor="end" fill="#555" textLength="18.77" lengthAdjust="spacingAndGlyphs">DistMult_nfm</text>
<text transform="translate(513.73 857.1) rotate(-90)" x="0" y="0" font-size="2.91" text-anchor="end" fill="#555" textLength="18.43" lengthAdjust="spacingAndGlyphs">TripleRE_nfm</text>
<text transform="translate(519.3 857.1) rotate(-90)" x="0" y="0" font-size="2.91" text-anchor="end" fill="#555" textLength="16.09" lengthAdjust="spacingAndGlyphs">PairRE_nfm</text>
<text transform="translate(524.88 857.1) rotate(-90)" x="0" y="0" font-size="2.91" text-anchor="end" fill="#555" textLength="17.78" lengthAdjust="spacingAndGlyphs">AutoSF_DMF</text>
<text transform="translate(530.45 857.1) rotate(-90)" x="0" y="0" font-size="2.91" text-anchor="end" fill="#555" textLength="17.58" lengthAdjust="spacingAndGlyphs">InterHT_nfm</text>
<text transform="translate(536.02 857.1) rotate(-90)" x="0" y="0" font-size="2.91" text-anchor="end" fill="#555" textLength="19.55" lengthAdjust="spacingAndGlyphs">ComplEx_afm</text>
<text transform="translate(541.6 857.1) rotate(-90)" x="0" y="0" font-size="2.91" text-anchor="end" fill="#555" textLength="18.2" lengthAdjust="spacingAndGlyphs">pRotatE_nfm</text>
<text transform="translate(547.17 857.1) rotate(-90)" x="0" y="0" font-size="2.91" text-anchor="end" fill="#555" textLength="20.32" lengthAdjust="spacingAndGlyphs">ComplEx_DMF</text>
<text transform="translate(552.75 857.1) rotate(-90)" x="0" y="0" font-size="2.91" text-anchor="end" fill="#555" textLength="19.48" lengthAdjust="spacingAndGlyphs">DistMult_DMF</text>
<text transform="translate(558.33 857.1) rotate(-90)" x="0" y="0" font-size="2.91" text-anchor="end" fill="#555" textLength="19.61" lengthAdjust="spacingAndGlyphs">ComplEx_nfm</text>
<text transform="translate(563.9 857.1) rotate(-90)" x="0" y="0" font-size="2.91" text-anchor="end" fill="#555" textLength="15.27" lengthAdjust="spacingAndGlyphs">AutoSF_fm</text>
<text transform="translate(569.48 857.1) rotate(-90)" x="0" y="0" font-size="2.91" text-anchor="end" fill="#555" textLength="16.63" lengthAdjust="spacingAndGlyphs">TripleRE_fm</text>
<text transform="translate(575.05 857.1) rotate(-90)" x="0" y="0" font-size="2.91" text-anchor="end" fill="#555" textLength="15.78" lengthAdjust="spacingAndGlyphs">InterHT_fm</text>
<text transform="translate(580.62 857.1) rotate(-90)" x="0" y="0" font-size="2.91" text-anchor="end" fill="#555" textLength="17.05" lengthAdjust="spacingAndGlyphs">TransE_DMF</text>
<text transform="translate(586.2 857.1) rotate(-90)" x="0" y="0" font-size="2.91" text-anchor="end" fill="#555" textLength="16.97" lengthAdjust="spacingAndGlyphs">DistMult_fm</text>
<text transform="translate(591.77 857.1) rotate(-90)" x="0" y="0" font-size="2.91" text-anchor="end" fill="#555" textLength="16.63" lengthAdjust="spacingAndGlyphs">TripleRE_fm</text>
<text transform="translate(597.35 857.1) rotate(-90)" x="0" y="0" font-size="2.91" text-anchor="end" fill="#555" textLength="17.8" lengthAdjust="spacingAndGlyphs">ComplEx_fm</text>
<text transform="translate(602.92 857.1) rotate(-90)" x="0" y="0" font-size="2.91" text-anchor="end" fill="#555" textLength="16.8" lengthAdjust="spacingAndGlyphs">PairRE_DMF</text>
<text transform="translate(608.5 857.1) rotate(-90)" x="0" y="0" font-size="2.91" text-anchor="end" fill="#555" textLength="18.29" lengthAdjust="spacingAndGlyphs">InterHT_DMF</text>
<text transform="translate(614.08 857.1) rotate(-90)" x="0" y="0" font-size="2.91" text-anchor="end" fill="#555" textLength="25.83" lengthAdjust="spacingAndGlyphs">TripleRE_ConvNCF</text>
<text transform="translate(619.65 857.1) rotate(-90)" x="0" y="0" font-size="2.91" text-anchor="end" fill="#555" textLength="24.99" lengthAdjust="spacingAndGlyphs">InterHT_ConvNCF</text>
<text transform="translate(625.23 857.1) rotate(-90)" x="0" y="0" font-size="2.91" text-anchor="end" fill="#555" textLength="14.54" lengthAdjust="spacingAndGlyphs">TransE_fm</text>
<text transform="translate(630.8 857.1) rotate(-90)" x="0" y="0" font-size="2.91" text-anchor="end" fill="#555" textLength="23.5" lengthAdjust="spacingAndGlyphs">PairRE_ConvNCF</text>
<text transform="translate(636.38 857.1) rotate(-90)" x="0" y="0" font-size="2.91" text-anchor="end" fill="#555" textLength="27.01" lengthAdjust="spacingAndGlyphs">ComplEx_ConvNCF</text>
<text transform="translate(641.95 857.1) rotate(-90)" x="0" y="0" font-size="2.91" text-anchor="end" fill="#555" textLength="25.6" lengthAdjust="spacingAndGlyphs">pRotatE_ConvNCF</text>
<text transform="translate(647.52 857.1) rotate(-90)" x="0" y="0" font-size="2.91" text-anchor="end" fill="#555" textLength="23.75" lengthAdjust="spacingAndGlyphs">TransE_ConvNCF</text>
<text transform="translate(653.1 857.1) rotate(-90)" x="0" y="0" font-size="2.91" text-anchor="end" fill="#555" textLength="24.99" lengthAdjust="spacingAndGlyphs">InterHT_ConvNCF</text>
<text transform="translate(658.67 857.1) rotate(-90)" x="0" y="0" font-size="2.91" text-anchor="end" fill="#555" textLength="24.48" lengthAdjust="spacingAndGlyphs">AutoSF_ConvNCF</text>
<text transform="translate(664.25 857.1) rotate(-90)" x="0" y="0" font-size="2.91" text-anchor="end" fill="#555" textLength="23.75" lengthAdjust="spacingAndGlyphs">TransE_ConvNCF</text>
<text transform="translate(669.83 857.1) rotate(-90)" x="0" y="0" font-size="2.91" text-anchor="end" fill="#555" textLength="26.18" lengthAdjust="spacingAndGlyphs">DistMult_ConvNCF</text>
<text x="391.5" y="683.7" font-size="6.87" font-weight="bold" fill="#222222" textLength="123.62" lengthAdjust="spacingAndGlyphs" stroke="#222222" stroke-width="0.05">(h) AUPR Coefficient of Variation</text>
<text transform="translate(370.5 770) rotate(-90)" x="0" y="0" font-size="5.93" text-anchor="middle" textLength="59.45" lengthAdjust="spacingAndGlyphs" stroke="#2e2e2e" stroke-width="0.14">AUPR CV (std/mean)</text>
<text x="537.6" y="890.5" font-size="5.93" text-anchor="middle" textLength="17.44" lengthAdjust="spacingAndGlyphs" stroke="#2e2e2e" stroke-width="0.14">Model</text></svg>
</body></html>
